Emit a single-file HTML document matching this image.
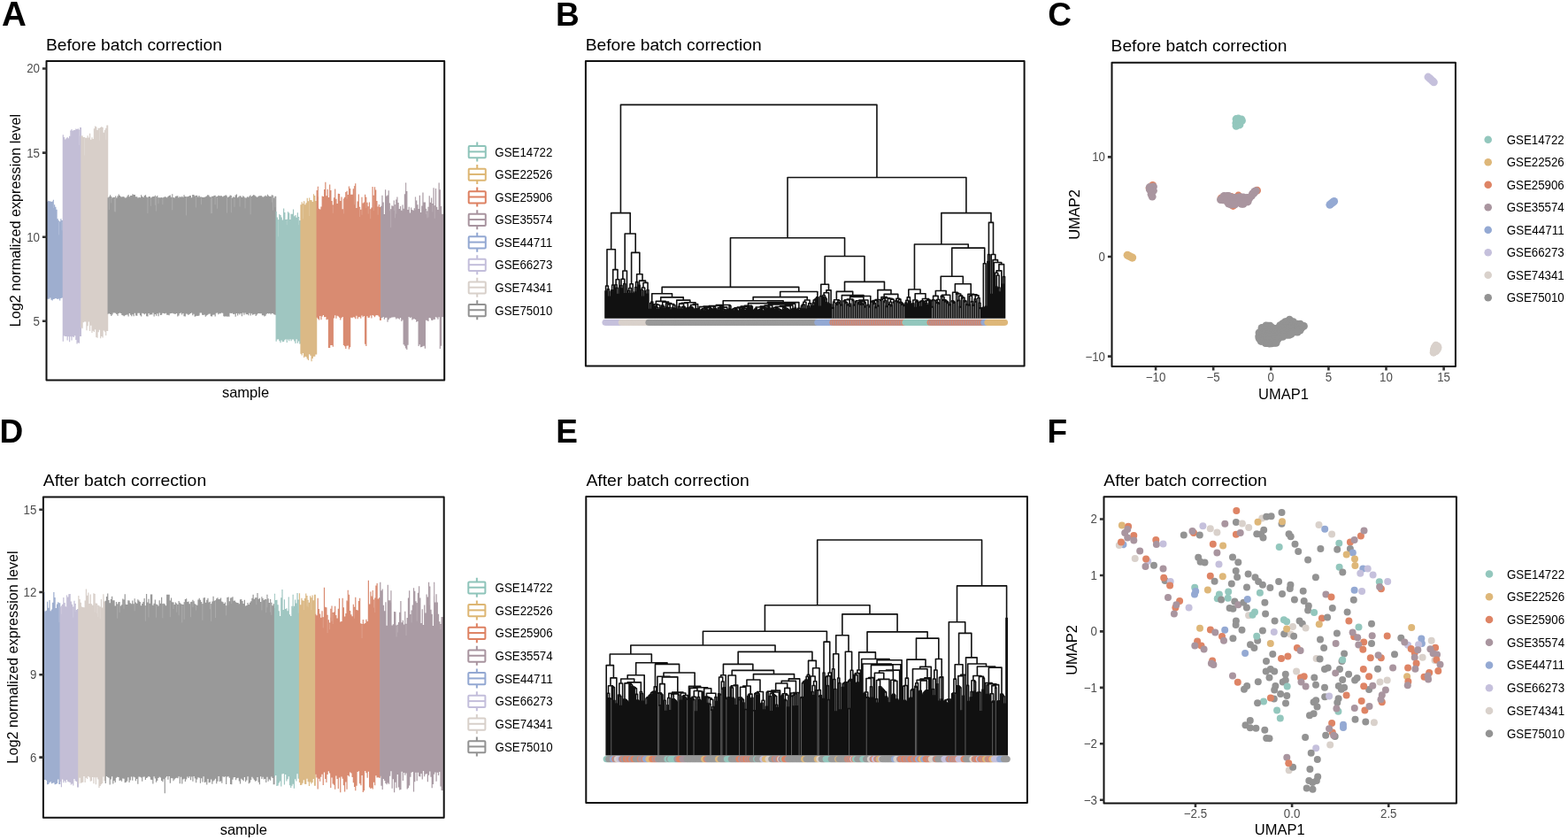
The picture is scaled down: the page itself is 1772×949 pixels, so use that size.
<!DOCTYPE html>
<html><head><meta charset="utf-8"><title>Batch correction</title>
<style>html,body{margin:0;padding:0;background:#fff}body{width:1772px;height:949px;overflow:hidden}svg{display:block}text{font-family:'Liberation Sans',Arial,Helvetica,sans-serif}</style>
</head><body>
<svg width="1772" height="949" viewBox="0 0 1772 949">
<rect width="1772" height="949" fill="#fff"/>
<text x="1.9" y="28.9" font-size="38.5" fill="#000" font-weight="bold">A</text>
<text x="628" y="28.7" font-size="37" fill="#000" font-weight="bold">B</text>
<text x="1184.3" y="28.9" font-size="37" fill="#000" font-weight="bold">C</text>
<text x="-0.4" y="500.4" font-size="37" fill="#000" font-weight="bold">D</text>
<text x="628.3" y="500.4" font-size="37" fill="#000" font-weight="bold">E</text>
<text x="1183.4" y="500.4" font-size="37" fill="#000" font-weight="bold">F</text>
<text x="52" y="56.7" font-size="19.25" fill="#000" textLength="198.9" lengthAdjust="spacingAndGlyphs">Before batch correction</text>
<text x="661.7" y="56.8" font-size="19.25" fill="#000" textLength="198.9" lengthAdjust="spacingAndGlyphs">Before batch correction</text>
<text x="1255.6" y="58" font-size="19.25" fill="#000" textLength="198.9" lengthAdjust="spacingAndGlyphs">Before batch correction</text>
<text x="48.7" y="548.8" font-size="19.25" fill="#000" textLength="184.5" lengthAdjust="spacingAndGlyphs">After batch correction</text>
<text x="662.4" y="548.5" font-size="19.25" fill="#000" textLength="184.5" lengthAdjust="spacingAndGlyphs">After batch correction</text>
<text x="1247.3" y="548.9" font-size="19.25" fill="#000" textLength="184.5" lengthAdjust="spacingAndGlyphs">After batch correction</text>
<path d="M52.55 228.02L53.76 228.02L53.76 226.86L54.97 226.86L54.97 227.22L56.18 227.22L56.18 227.33L57.39 227.33L57.39 227.96L58.6 227.96L58.6 227.46L59.81 227.46L59.81 225.7L61.02 225.7L61.02 231.25L62.23 231.25L62.23 233.84L63.44 233.84L63.44 236.85L64.65 236.85L64.65 247.2L65.86 247.2L65.86 249.35L67.07 249.35L67.07 250.35L68.28 250.35L68.28 247.22L69.49 247.22L69.49 249.04L71.4 249.04L71.4 336.57L69.49 336.57L69.49 337.1L68.28 337.1L68.28 339.48L67.07 339.48L67.07 337.5L65.86 337.5L65.86 338.11L64.65 338.11L64.65 337.45L63.44 337.45L63.44 336.91L62.23 336.91L62.23 337.73L61.02 337.73L61.02 338.02L59.81 338.02L59.81 339.43L58.6 339.43L58.6 338.73L57.39 338.73L57.39 336.61L56.18 336.61L56.18 337.67L54.97 337.67L54.97 337.66L53.76 337.66L53.76 337.83L52.55 337.83Z" fill="#9eaecf"/>
<path d="M60.42 226.7V235.05M66.47 250.35V265.42M70.1 250.04V260.36" stroke="#fff" stroke-opacity="0.35" stroke-width="0.5" fill="none"/>
<path d="M70.7 152.31L71.91 152.31L71.91 155.07L73.13 155.07L73.13 157.44L74.34 157.44L74.34 156.28L75.55 156.28L75.55 155.11L76.76 155.11L76.76 156.33L77.97 156.33L77.97 153.63L79.18 153.63L79.18 147.61L80.39 147.61L80.39 146.08L81.6 146.08L81.6 147.79L82.81 147.79L82.81 147.03L84.02 147.03L84.02 146.89L85.23 146.89L85.23 145.53L86.44 145.53L86.44 145.93L87.65 145.93L87.65 145.34L88.86 145.34L88.86 146.49L90.07 146.49L90.07 143.93L91.98 143.93L91.98 379.98L90.07 379.98L90.07 387.74L88.86 387.74L88.86 387.18L87.65 387.18L87.65 388.43L86.44 388.43L86.44 383.91L85.23 383.91L85.23 379.34L84.02 379.34L84.02 381.11L82.81 381.11L82.81 380.15L81.6 380.15L81.6 384.38L80.39 384.38L80.39 380.13L79.18 380.13L79.18 386.36L77.97 386.36L77.97 380.15L76.76 380.15L76.76 384.4L75.55 384.4L75.55 379.98L74.34 379.98L74.34 379.89L73.13 379.89L73.13 379.4L71.91 379.4L71.91 385.79L70.7 385.79Z" fill="#c3bed6"/>
<path d="M79.78 148.61V154.23M89.46 147.49V164.02M90.67 144.93V153.59" stroke="#fff" stroke-opacity="0.35" stroke-width="0.5" fill="none"/>
<path d="M91.28 153.51L92.49 153.51L92.49 153.27L93.7 153.27L93.7 155.06L94.91 155.06L94.91 154.99L96.12 154.99L96.12 155.66L97.33 155.66L97.33 155.81L98.54 155.81L98.54 153.28L99.75 153.28L99.75 155.49L100.96 155.49L100.96 150.66L102.17 150.66L102.17 157.83L103.38 157.83L103.38 155.2L104.59 155.2L104.59 157.07L105.8 157.07L105.8 145.34L107.01 145.34L107.01 142.48L108.22 142.48L108.22 143.17L109.43 143.17L109.43 146.91L110.64 146.91L110.64 144.87L111.85 144.87L111.85 144.73L113.06 144.73L113.06 143.89L114.28 143.89L114.28 143.11L115.49 143.11L115.49 144.02L116.7 144.02L116.7 149.76L117.91 149.76L117.91 146.85L119.12 146.85L119.12 144.71L120.33 144.71L120.33 141.6L122.24 141.6L122.24 373.92L120.33 373.92L120.33 378.91L119.12 378.91L119.12 374.84L117.91 374.84L117.91 373.38L116.7 373.38L116.7 381.62L115.49 381.62L115.49 380.11L114.28 380.11L114.28 382.15L113.06 382.15L113.06 372.84L111.85 372.84L111.85 375.35L110.64 375.35L110.64 381.79L109.43 381.79L109.43 381.01L108.22 381.01L108.22 372.31L107.01 372.31L107.01 375.03L105.8 375.03L105.8 373.77L104.59 373.77L104.59 375.89L103.38 375.89L103.38 367.84L102.17 367.84L102.17 373.99L100.96 373.99L100.96 363.54L99.75 363.54L99.75 368.32L98.54 368.32L98.54 373.36L97.33 373.36L97.33 363.51L96.12 363.51L96.12 363.61L94.91 363.61L94.91 364.13L93.7 364.13L93.7 371.3L92.49 371.3L92.49 370.14L91.28 370.14Z" fill="#d8cfc9"/>
<path d="M95.52 155.99V175.48M112.46 145.73V158.68M119.72 145.71V157.92" stroke="#fff" stroke-opacity="0.35" stroke-width="0.5" fill="none"/>
<path d="M121.54 223.13L122.75 223.13L122.75 222.22L123.96 222.22L123.96 220.25L125.17 220.25L125.17 222L126.38 222L126.38 223.47L127.59 223.47L127.59 222.84L128.8 222.84L128.8 223.11L130.01 223.11L130.01 221.57L131.22 221.57L131.22 223.47L132.43 223.47L132.43 221.45L133.64 221.45L133.64 219.48L134.85 219.48L134.85 220.97L136.06 220.97L136.06 222.21L137.27 222.21L137.27 222.62L138.48 222.62L138.48 221.99L139.69 221.99L139.69 222.53L140.9 222.53L140.9 223.41L142.11 223.41L142.11 223.37L143.32 223.37L143.32 221.41L144.53 221.41L144.53 220L145.74 220L145.74 222.24L146.95 222.24L146.95 220.95L148.16 220.95L148.16 220.96L149.37 220.96L149.37 219.33L150.58 219.33L150.58 220L151.79 220L151.79 220.08L153 220.08L153 222.34L154.21 222.34L154.21 222.23L155.43 222.23L155.43 223.45L156.64 223.45L156.64 222.75L157.85 222.75L157.85 223.3L159.06 223.3L159.06 220.25L160.27 220.25L160.27 222.12L161.48 222.12L161.48 223.11L162.69 223.11L162.69 220.91L163.9 220.91L163.9 220.22L165.11 220.22L165.11 222.58L166.32 222.58L166.32 223.15L167.53 223.15L167.53 221.97L168.74 221.97L168.74 221.92L169.95 221.92L169.95 223.49L171.16 223.49L171.16 222.51L172.37 222.51L172.37 222.12L173.58 222.12L173.58 222L174.79 222L174.79 220.74L176 220.74L176 222.17L177.21 222.17L177.21 220.9L178.42 220.9L178.42 223.19L179.63 223.19L179.63 223.34L180.84 223.34L180.84 223.25L182.05 223.25L182.05 223L183.26 223L183.26 223.38L184.47 223.38L184.47 222.64L185.68 222.64L185.68 222.26L186.89 222.26L186.89 222.45L188.1 222.45L188.1 223.16L189.31 223.16L189.31 221.94L190.52 221.94L190.52 220.95L191.73 220.95L191.73 220.43L192.94 220.43L192.94 222.82L194.15 222.82L194.15 219.21L195.37 219.21L195.37 223.06L196.58 223.06L196.58 223.4L197.79 223.4L197.79 221.83L199 221.83L199 221.46L200.21 221.46L200.21 221.17L201.42 221.17L201.42 223.36L202.63 223.36L202.63 222.07L203.84 222.07L203.84 222.82L205.05 222.82L205.05 221.84L206.26 221.84L206.26 222.64L207.47 222.64L207.47 220.25L208.68 220.25L208.68 221.98L209.89 221.98L209.89 222.25L211.1 222.25L211.1 222.23L212.31 222.23L212.31 221.88L213.52 221.88L213.52 220.97L214.73 220.97L214.73 220.9L215.94 220.9L215.94 223.26L217.15 223.26L217.15 219.91L218.36 219.91L218.36 220.12L219.57 220.12L219.57 221.6L220.78 221.6L220.78 220.98L221.99 220.98L221.99 220.82L223.2 220.82L223.2 222.48L224.41 222.48L224.41 221.1L225.62 221.1L225.62 222.48L226.83 222.48L226.83 222.62L228.04 222.62L228.04 222.68L229.25 222.68L229.25 223.08L230.46 223.08L230.46 222.74L231.67 222.74L231.67 222.29L232.88 222.29L232.88 221.38L234.09 221.38L234.09 220.26L235.3 220.26L235.3 220.58L236.52 220.58L236.52 222.17L237.73 222.17L237.73 222.84L238.94 222.84L238.94 221.85L240.15 221.85L240.15 221.76L241.36 221.76L241.36 221.03L242.57 221.03L242.57 220.87L243.78 220.87L243.78 222.19L244.99 222.19L244.99 222.1L246.2 222.1L246.2 220.71L247.41 220.71L247.41 221.21L248.62 221.21L248.62 221.31L249.83 221.31L249.83 221.13L251.04 221.13L251.04 222.18L252.25 222.18L252.25 221.4L253.46 221.4L253.46 221.07L254.67 221.07L254.67 220.25L255.88 220.25L255.88 221.42L257.09 221.42L257.09 223.05L258.3 223.05L258.3 221.89L259.51 221.89L259.51 220.39L260.72 220.39L260.72 220.99L261.93 220.99L261.93 223.46L263.14 223.46L263.14 222.33L264.35 222.33L264.35 223L265.56 223L265.56 220.62L266.77 220.62L266.77 219.52L267.98 219.52L267.98 223.37L269.19 223.37L269.19 222.33L270.4 222.33L270.4 221.15L271.61 221.15L271.61 221.43L272.82 221.43L272.82 223.04L274.03 223.04L274.03 221.37L275.24 221.37L275.24 222.25L276.46 222.25L276.46 223.39L277.67 223.39L277.67 223.41L278.88 223.41L278.88 222.33L280.09 222.33L280.09 222.78L281.3 222.78L281.3 221.39L282.51 221.39L282.51 220.44L283.72 220.44L283.72 221.92L284.93 221.92L284.93 221.1L286.14 221.1L286.14 220.1L287.35 220.1L287.35 220.81L288.56 220.81L288.56 221.81L289.77 221.81L289.77 222.7L290.98 222.7L290.98 222.15L292.19 222.15L292.19 221.32L293.4 221.32L293.4 221.3L294.61 221.3L294.61 220.93L295.82 220.93L295.82 222.24L297.03 222.24L297.03 222.46L298.24 222.46L298.24 221.75L299.45 221.75L299.45 220.67L300.66 220.67L300.66 221.87L301.87 221.87L301.87 219.64L303.08 219.64L303.08 221.3L304.29 221.3L304.29 221.97L305.5 221.97L305.5 221.78L306.71 221.78L306.71 220.27L307.92 220.27L307.92 220.73L309.13 220.73L309.13 223.49L310.34 223.49L310.34 221.76L312.25 221.76L312.25 355.86L310.34 355.86L310.34 355.33L309.13 355.33L309.13 354.23L307.92 354.23L307.92 353.88L306.71 353.88L306.71 355.32L305.5 355.32L305.5 353.94L304.29 353.94L304.29 354.54L303.08 354.54L303.08 354.11L301.87 354.11L301.87 354.69L300.66 354.69L300.66 356.66L299.45 356.66L299.45 357.44L298.24 357.44L298.24 356.16L297.03 356.16L297.03 356.25L295.82 356.25L295.82 354.23L294.61 354.23L294.61 354.31L293.4 354.31L293.4 353.99L292.19 353.99L292.19 354.29L290.98 354.29L290.98 355.43L289.77 355.43L289.77 357.07L288.56 357.07L288.56 354.81L287.35 354.81L287.35 355.36L286.14 355.36L286.14 355.87L284.93 355.87L284.93 354.15L283.72 354.15L283.72 356.48L282.51 356.48L282.51 353.72L281.3 353.72L281.3 356.35L280.09 356.35L280.09 355.03L278.88 355.03L278.88 355.36L277.67 355.36L277.67 353.61L276.46 353.61L276.46 355.72L275.24 355.72L275.24 353.59L274.03 353.59L274.03 357.3L272.82 357.3L272.82 353.92L271.61 353.92L271.61 355.56L270.4 355.56L270.4 354.19L269.19 354.19L269.19 356.56L267.98 356.56L267.98 354.08L266.77 354.08L266.77 357.79L265.56 357.79L265.56 354.77L264.35 354.77L264.35 354.93L263.14 354.93L263.14 353.73L261.93 353.73L261.93 353.96L260.72 353.96L260.72 353.71L259.51 353.71L259.51 357.67L258.3 357.67L258.3 357.43L257.09 357.43L257.09 357.64L255.88 357.64L255.88 357.24L254.67 357.24L254.67 357.73L253.46 357.73L253.46 357.2L252.25 357.2L252.25 353.82L251.04 353.82L251.04 353.51L249.83 353.51L249.83 354.24L248.62 354.24L248.62 354.24L247.41 354.24L247.41 355.25L246.2 355.25L246.2 353.58L244.99 353.58L244.99 353.86L243.78 353.86L243.78 357.39L242.57 357.39L242.57 355.59L241.36 355.59L241.36 355.79L240.15 355.79L240.15 357.6L238.94 357.6L238.94 357.24L237.73 357.24L237.73 354.59L236.52 354.59L236.52 354.7L235.3 354.7L235.3 355.68L234.09 355.68L234.09 356.44L232.88 356.44L232.88 357.8L231.67 357.8L231.67 355.46L230.46 355.46L230.46 355.93L229.25 355.93L229.25 355.72L228.04 355.72L228.04 353.51L226.83 353.51L226.83 353.61L225.62 353.61L225.62 356.46L224.41 356.46L224.41 357.09L223.2 357.09L223.2 356.73L221.99 356.73L221.99 357.28L220.78 357.28L220.78 357.7L219.57 357.7L219.57 354.71L218.36 354.71L218.36 356.13L217.15 356.13L217.15 353.51L215.94 353.51L215.94 353.94L214.73 353.94L214.73 354.92L213.52 354.92L213.52 356.12L212.31 356.12L212.31 354.82L211.1 354.82L211.1 354.4L209.89 354.4L209.89 357.51L208.68 357.51L208.68 357.37L207.47 357.37L207.47 353.96L206.26 353.96L206.26 355.45L205.05 355.45L205.05 353.54L203.84 353.54L203.84 353.92L202.63 353.92L202.63 356.42L201.42 356.42L201.42 357.61L200.21 357.61L200.21 353.95L199 353.95L199 354.7L197.79 354.7L197.79 354.78L196.58 354.78L196.58 354.15L195.37 354.15L195.37 353.76L194.15 353.76L194.15 354.01L192.94 354.01L192.94 354.36L191.73 354.36L191.73 356.33L190.52 356.33L190.52 355.66L189.31 355.66L189.31 355.79L188.1 355.79L188.1 353.83L186.89 353.83L186.89 354.59L185.68 354.59L185.68 353.94L184.47 353.94L184.47 353.73L183.26 353.73L183.26 355.7L182.05 355.7L182.05 356.04L180.84 356.04L180.84 353.52L179.63 353.52L179.63 357.36L178.42 357.36L178.42 354.36L177.21 354.36L177.21 356.73L176 356.73L176 355.01L174.79 355.01L174.79 357.54L173.58 357.54L173.58 353.6L172.37 353.6L172.37 355.42L171.16 355.42L171.16 355.2L169.95 355.2L169.95 355.63L168.74 355.63L168.74 353.95L167.53 353.95L167.53 357.61L166.32 357.61L166.32 357.21L165.11 357.21L165.11 354.34L163.9 354.34L163.9 355.23L162.69 355.23L162.69 354.26L161.48 354.26L161.48 353.64L160.27 353.64L160.27 357.48L159.06 357.48L159.06 356.23L157.85 356.23L157.85 353.78L156.64 353.78L156.64 353.87L155.43 353.87L155.43 356.7L154.21 356.7L154.21 356.47L153 356.47L153 353.63L151.79 353.63L151.79 357.27L150.58 357.27L150.58 355.3L149.37 355.3L149.37 357.21L148.16 357.21L148.16 355.81L146.95 355.81L146.95 353.97L145.74 353.97L145.74 357.47L144.53 357.47L144.53 355.45L143.32 355.45L143.32 355.73L142.11 355.73L142.11 356.23L140.9 356.23L140.9 357.25L139.69 357.25L139.69 356.41L138.48 356.41L138.48 356.1L137.27 356.1L137.27 353.89L136.06 353.89L136.06 353.51L134.85 353.51L134.85 353.95L133.64 353.95L133.64 356.69L132.43 356.69L132.43 354.89L131.22 354.89L131.22 353.78L130.01 353.78L130.01 353.52L128.8 353.52L128.8 353.52L127.59 353.52L127.59 355.46L126.38 355.46L126.38 357.05L125.17 357.05L125.17 354.92L123.96 354.92L123.96 354.35L122.75 354.35L122.75 354.75L121.54 354.75Z" fill="#999999"/>
<path d="M123.35 223.22V236.97M125.77 223V229.31M129.4 224.11V239.25M130.61 222.57V239.5M166.92 224.15V241.01M170.55 224.49V232.76M175.4 221.74V231.68M176.61 223.17V238.54M179.03 224.19V230.19M183.87 224.38V231.12M194.76 220.21V237.33M210.49 223.25V243.41M221.39 221.98V234.54M227.44 223.62V231.13M238.33 223.84V241.17M239.54 222.85V240.99M243.17 221.87V231.19M245.59 223.1V235.78M256.49 222.42V240.65M261.33 221.99V240.3M264.96 224V233.89M271.01 222.15V233.46M277.06 224.39V235.42M283.11 221.44V242.3M307.32 221.27V228.52M308.53 221.73V237.58M310.95 222.76V234.2" stroke="#fff" stroke-opacity="0.35" stroke-width="0.5" fill="none"/>
<path d="M311.55 238.97L312.76 238.97L312.76 245.4L313.97 245.4L313.97 248.17L315.18 248.17L315.18 242.02L316.39 242.02L316.39 243.02L317.61 243.02L317.61 245.49L318.82 245.49L318.82 248.51L320.03 248.51L320.03 235.46L321.24 235.46L321.24 240.03L322.45 240.03L322.45 248.12L323.66 248.12L323.66 247.63L324.87 247.63L324.87 239.23L326.08 239.23L326.08 240.54L327.29 240.54L327.29 247.98L328.5 247.98L328.5 241.68L329.71 241.68L329.71 241.64L330.92 241.64L330.92 236.39L332.13 236.39L332.13 244.26L333.34 244.26L333.34 243.03L334.55 243.03L334.55 245.69L335.76 245.69L335.76 240.18L336.97 240.18L336.97 244.97L338.18 244.97L338.18 249.1L340.09 249.1L340.09 388.44L338.18 388.44L338.18 385.44L336.97 385.44L336.97 387.78L335.76 387.78L335.76 383.3L334.55 383.3L334.55 387.96L333.34 387.96L333.34 385.54L332.13 385.54L332.13 383.57L330.92 383.57L330.92 383.57L329.71 383.57L329.71 385.18L328.5 385.18L328.5 383.36L327.29 383.36L327.29 385.37L326.08 385.37L326.08 383.42L324.87 383.42L324.87 386.94L323.66 386.94L323.66 383.24L322.45 383.24L322.45 384.17L321.24 384.17L321.24 386.08L320.03 386.08L320.03 386.34L318.82 386.34L318.82 384.59L317.61 384.59L317.61 387.17L316.39 387.17L316.39 385.15L315.18 385.15L315.18 383.14L313.97 383.14L313.97 383.41L312.76 383.41L312.76 385.64L311.55 385.64Z" fill="#9fc6c1"/>
<path d="M314.58 249.17V267.36M324.26 248.63V254.14M337.58 245.97V254.16" stroke="#fff" stroke-opacity="0.35" stroke-width="0.5" fill="none"/>
<path d="M339.39 231.33L340.6 231.33L340.6 228.35L341.81 228.35L341.81 230.22L343.02 230.22L343.02 227.14L344.23 227.14L344.23 231.32L345.44 231.32L345.44 229.23L346.65 229.23L346.65 223.73L347.86 223.73L347.86 227.27L349.07 227.27L349.07 223.45L350.28 223.45L350.28 225.97L351.49 225.97L351.49 226.34L352.7 226.34L352.7 228.12L353.91 228.12L353.91 219.32L355.12 219.32L355.12 221.07L356.33 221.07L356.33 226.96L358.24 226.96L358.24 400.53L356.33 400.53L356.33 402.74L355.12 402.74L355.12 402.81L353.91 402.81L353.91 404.93L352.7 404.93L352.7 408.16L351.49 408.16L351.49 401.69L350.28 401.69L350.28 400.35L349.07 400.35L349.07 406.94L347.86 406.94L347.86 405.39L346.65 405.39L346.65 403.23L345.44 403.23L345.44 402.85L344.23 402.85L344.23 404.01L343.02 404.01L343.02 398.99L341.81 398.99L341.81 401.6L340.6 401.6L340.6 399.7L339.39 399.7Z" fill="#dbb986"/>
<path d="M342.42 231.22V247.34M349.68 224.45V244.03" stroke="#fff" stroke-opacity="0.35" stroke-width="0.5" fill="none"/>
<path d="M357.54 215.07L358.76 215.07L358.76 210.77L359.97 210.77L359.97 235.76L361.18 235.76L361.18 236.44L362.39 236.44L362.39 233.57L363.6 233.57L363.6 221.57L364.81 221.57L364.81 221.88L366.02 221.88L366.02 213.98L367.23 213.98L367.23 205.63L368.44 205.63L368.44 221.34L369.65 221.34L369.65 213.78L370.86 213.78L370.86 222.89L372.07 222.89L372.07 208.49L373.28 208.49L373.28 214.92L374.49 214.92L374.49 226.91L375.7 226.91L375.7 231.54L376.91 231.54L376.91 223.34L378.12 223.34L378.12 213.48L379.33 213.48L379.33 224.67L380.54 224.67L380.54 230.03L381.75 230.03L381.75 218.8L382.96 218.8L382.96 218.91L384.17 218.91L384.17 227.04L385.38 227.04L385.38 222.45L386.59 222.45L386.59 236.26L387.8 236.26L387.8 224.39L389.01 224.39L389.01 222.83L390.22 222.83L390.22 217.07L391.43 217.07L391.43 215.73L392.64 215.73L392.64 220.07L393.85 220.07L393.85 210.51L395.06 210.51L395.06 212.92L396.27 212.92L396.27 219.81L397.48 219.81L397.48 219.72L398.7 219.72L398.7 213.34L399.91 213.34L399.91 210.25L401.12 210.25L401.12 207.18L402.33 207.18L402.33 235.04L403.54 235.04L403.54 227.58L404.75 227.58L404.75 219.53L405.96 219.53L405.96 233.87L407.17 233.87L407.17 236.83L408.38 236.83L408.38 222.66L409.59 222.66L409.59 229.6L410.8 229.6L410.8 228.6L412.01 228.6L412.01 219.79L413.22 219.79L413.22 222.81L414.43 222.81L414.43 228.68L415.64 228.68L415.64 233.13L416.85 233.13L416.85 228.38L418.06 228.38L418.06 236.28L419.27 236.28L419.27 234.51L420.48 234.51L420.48 210.98L421.69 210.98L421.69 220.66L422.9 220.66L422.9 211.29L424.11 211.29L424.11 214.38L425.32 214.38L425.32 227.06L426.53 227.06L426.53 233.42L427.74 233.42L427.74 231.07L428.95 231.07L428.95 234.02L430.86 234.02L430.86 361.97L428.95 361.97L428.95 357.81L427.74 357.81L427.74 356.39L426.53 356.39L426.53 356.06L425.32 356.06L425.32 356.4L424.11 356.4L424.11 358.21L422.9 358.21L422.9 356.7L421.69 356.7L421.69 356.12L420.48 356.12L420.48 359.57L419.27 359.57L419.27 356.51L418.06 356.51L418.06 358.86L416.85 358.86L416.85 359.08L415.64 359.08L415.64 357.17L414.43 357.17L414.43 390.92L413.22 390.92L413.22 388.74L412.01 388.74L412.01 356.92L410.8 356.92L410.8 358.25L409.59 358.25L409.59 356.54L408.38 356.54L408.38 359.75L407.17 359.75L407.17 358.27L405.96 358.27L405.96 358.2L404.75 358.2L404.75 360.29L403.54 360.29L403.54 356.79L402.33 356.79L402.33 360.23L401.12 360.23L401.12 358.41L399.91 358.41L399.91 358.31L398.7 358.31L398.7 359.34L397.48 359.34L397.48 358.64L396.27 358.64L396.27 392.17L395.06 392.17L395.06 394.39L393.85 394.39L393.85 390.52L392.64 390.52L392.64 390.68L391.43 390.68L391.43 394.09L390.22 394.09L390.22 391.27L389.01 391.27L389.01 389.95L387.8 389.95L387.8 357.9L386.59 357.9L386.59 359.21L385.38 359.21L385.38 361.39L384.17 361.39L384.17 358.87L382.96 358.87L382.96 357.51L381.75 357.51L381.75 356.79L380.54 356.79L380.54 359.72L379.33 359.72L379.33 356.17L378.12 356.17L378.12 359.61L376.91 359.61L376.91 391.81L375.7 391.81L375.7 390.02L374.49 390.02L374.49 389.88L373.28 389.88L373.28 392.9L372.07 392.9L372.07 393.08L370.86 393.08L370.86 360.68L369.65 360.68L369.65 361.36L368.44 361.36L368.44 358.1L367.23 358.1L367.23 358.26L366.02 358.26L366.02 356.05L364.81 356.05L364.81 357.42L363.6 357.42L363.6 361.14L362.39 361.14L362.39 357.11L361.18 357.11L361.18 361.59L359.97 361.59L359.97 360.33L358.76 360.33L358.76 358.71L357.54 358.71Z" fill="#d98b71"/>
<path d="M359.36 211.77V222.26M376.3 232.54V240.8M388.41 225.39V241.45M392.04 216.73V224.65M400.51 211.25V231.23M406.56 234.87V245.02M408.98 223.66V242.77M413.82 223.81V235.11M416.24 234.13V241.55M418.66 237.28V247.27M422.3 221.66V237.96M427.14 234.42V242.69" stroke="#fff" stroke-opacity="0.35" stroke-width="0.5" fill="none"/>
<path d="M430.16 232.81L431.37 232.81L431.37 220.82L432.58 220.82L432.58 228.56L433.79 228.56L433.79 241.9L435 241.9L435 214.23L436.21 214.23L436.21 221.43L437.42 221.43L437.42 220.5L438.63 220.5L438.63 215.21L439.85 215.21L439.85 229.49L441.06 229.49L441.06 236.13L442.27 236.13L442.27 232.35L443.48 232.35L443.48 232.66L444.69 232.66L444.69 226.62L445.9 226.62L445.9 231.23L447.11 231.23L447.11 225.57L448.32 225.57L448.32 222.48L449.53 222.48L449.53 228.95L450.74 228.95L450.74 235.92L451.95 235.92L451.95 232.88L453.16 232.88L453.16 237.84L454.37 237.84L454.37 231.51L455.58 231.51L455.58 235.82L456.79 235.82L456.79 219.31L458 219.31L458 206.53L459.21 206.53L459.21 216.04L460.42 216.04L460.42 237.02L461.63 237.02L461.63 233.64L462.84 233.64L462.84 240.4L464.05 240.4L464.05 234.38L465.26 234.38L465.26 237.04L466.47 237.04L466.47 237.66L467.68 237.66L467.68 235.22L468.89 235.22L468.89 222.42L470.1 222.42L470.1 226.54L471.31 226.54L471.31 231.34L472.52 231.34L472.52 235.91L473.73 235.91L473.73 220.63L474.94 220.63L474.94 239.93L476.15 239.93L476.15 232.49L477.36 232.49L477.36 217.44L478.57 217.44L478.57 228.62L479.78 228.62L479.78 228.59L481 228.59L481 235.67L482.21 235.67L482.21 238.5L483.42 238.5L483.42 233.78L484.63 233.78L484.63 221.14L485.84 221.14L485.84 228.83L487.05 228.83L487.05 223.5L488.26 223.5L488.26 230.09L489.47 230.09L489.47 212.34L490.68 212.34L490.68 232.24L491.89 232.24L491.89 213L493.1 213L493.1 233.81L494.31 233.81L494.31 236.88L495.52 236.88L495.52 206.62L496.73 206.62L496.73 214.3L497.94 214.3L497.94 233.12L499.15 233.12L499.15 241.69L501.36 241.69L501.36 358.3L499.15 358.3L499.15 390.7L497.94 390.7L497.94 394.03L496.73 394.03L496.73 358.36L495.52 358.36L495.52 360.84L494.31 360.84L494.31 358.77L493.1 358.77L493.1 358.33L491.89 358.33L491.89 361.09L490.68 361.09L490.68 360.71L489.47 360.71L489.47 362.08L488.26 362.08L488.26 361.76L487.05 361.76L487.05 359.62L485.84 359.62L485.84 358.88L484.63 358.88L484.63 362.91L483.42 362.91L483.42 362.18L482.21 362.18L482.21 361.68L481 361.68L481 393.8L479.78 393.8L479.78 390.86L478.57 390.86L478.57 391.24L477.36 391.24L477.36 391.9L476.15 391.9L476.15 392.26L474.94 392.26L474.94 389.16L473.73 389.16L473.73 390.98L472.52 390.98L472.52 363.07L471.31 363.07L471.31 363.74L470.1 363.74L470.1 361.1L468.89 361.1L468.89 360.23L467.68 360.23L467.68 360.56L466.47 360.56L466.47 361.5L465.26 361.5L465.26 358.42L464.05 358.42L464.05 359.16L462.84 359.16L462.84 358.06L461.63 358.06L461.63 389.72L460.42 389.72L460.42 394.96L459.21 394.96L459.21 393.39L458 393.39L458 390.72L456.79 390.72L456.79 389.25L455.58 389.25L455.58 361.41L454.37 361.41L454.37 363.11L453.16 363.11L453.16 358.88L451.95 358.88L451.95 360.84L450.74 360.84L450.74 359.69L449.53 359.69L449.53 359.61L448.32 359.61L448.32 360.62L447.11 360.62L447.11 358.42L445.9 358.42L445.9 358.22L444.69 358.22L444.69 358.49L443.48 358.49L443.48 358.46L442.27 358.46L442.27 359.26L441.06 359.26L441.06 359.62L439.85 359.62L439.85 361.16L438.63 361.16L438.63 363.63L437.42 363.63L437.42 358.7L436.21 358.7L436.21 359.1L435 359.1L435 360.7L433.79 360.7L433.79 358.07L432.58 358.07L432.58 359.07L431.37 359.07L431.37 359.59L430.16 359.59Z" fill="#aa9ba4"/>
<path d="M440.45 230.49V238.29M441.66 237.13V257.07M445.29 227.62V237.8M446.5 232.23V246.28M447.71 226.57V241.57M454.97 232.51V238.54M458.6 207.53V215.45M469.5 223.42V237.22M481.6 236.67V242.1M482.81 239.5V246.4M484.02 234.78V245.52M488.86 231.09V239.46M491.28 233.24V246.68" stroke="#fff" stroke-opacity="0.35" stroke-width="0.5" fill="none"/>
<rect x="52.5" y="69.1" width="449.7" height="360.3" fill="none" stroke="#111" stroke-width="2" stroke-linejoin="round"/>
<text x="45" y="367.7" font-size="14.2" fill="#4d4d4d" text-anchor="end" textLength="7.39" lengthAdjust="spacingAndGlyphs">5</text>
<text x="45" y="272.6" font-size="14.2" fill="#4d4d4d" text-anchor="end" textLength="14.79" lengthAdjust="spacingAndGlyphs">10</text>
<text x="45" y="177.5" font-size="14.2" fill="#4d4d4d" text-anchor="end" textLength="14.79" lengthAdjust="spacingAndGlyphs">15</text>
<text x="45" y="82.4" font-size="14.2" fill="#4d4d4d" text-anchor="end" textLength="14.79" lengthAdjust="spacingAndGlyphs">20</text>
<path d="M47.9 362.8H52.5M47.9 267.7H52.5M47.9 172.6H52.5M47.9 77.5H52.5" stroke="#333" stroke-width="2.6" fill="none"/>
<text x="277.5" y="449.2" font-size="16.5" fill="#000" text-anchor="middle">sample</text>
<text transform="translate(22.6 249.1) rotate(-90)" text-anchor="middle" font-size="16.2" fill="#000">Log2 normalized expression level</text>
<path d="M539.25 160.5V165.4M539.25 178V182.5" stroke="#8ec4ba" stroke-width="2" fill="none"/>
<rect x="529.7" y="165.1" width="19.1" height="13.2" rx="1" fill="#fff" stroke="#8ec4ba" stroke-width="2"/>
<path d="M529.7 171.4H548.8" stroke="#8ec4ba" stroke-width="2"/>
<text x="559.3" y="176.7" font-size="14.2" fill="#000" textLength="65.06" lengthAdjust="spacingAndGlyphs">GSE14722</text>
<path d="M539.25 186.05V190.95M539.25 203.55V208.05" stroke="#ddb673" stroke-width="2" fill="none"/>
<rect x="529.7" y="190.65" width="19.1" height="13.2" rx="1" fill="#fff" stroke="#ddb673" stroke-width="2"/>
<path d="M529.7 196.95H548.8" stroke="#ddb673" stroke-width="2"/>
<text x="559.3" y="202.25" font-size="14.2" fill="#000" textLength="65.06" lengthAdjust="spacingAndGlyphs">GSE22526</text>
<path d="M539.25 211.6V216.5M539.25 229.1V233.6" stroke="#dd8162" stroke-width="2" fill="none"/>
<rect x="529.7" y="216.2" width="19.1" height="13.2" rx="1" fill="#fff" stroke="#dd8162" stroke-width="2"/>
<path d="M529.7 222.5H548.8" stroke="#dd8162" stroke-width="2"/>
<text x="559.3" y="227.8" font-size="14.2" fill="#000" textLength="65.06" lengthAdjust="spacingAndGlyphs">GSE25906</text>
<path d="M539.25 237.15V242.05M539.25 254.65V259.15" stroke="#a8949f" stroke-width="2" fill="none"/>
<rect x="529.7" y="241.75" width="19.1" height="13.2" rx="1" fill="#fff" stroke="#a8949f" stroke-width="2"/>
<path d="M529.7 248.05H548.8" stroke="#a8949f" stroke-width="2"/>
<text x="559.3" y="253.35" font-size="14.2" fill="#000" textLength="65.06" lengthAdjust="spacingAndGlyphs">GSE35574</text>
<path d="M539.25 262.7V267.6M539.25 280.2V284.7" stroke="#93a8d2" stroke-width="2" fill="none"/>
<rect x="529.7" y="267.3" width="19.1" height="13.2" rx="1" fill="#fff" stroke="#93a8d2" stroke-width="2"/>
<path d="M529.7 273.6H548.8" stroke="#93a8d2" stroke-width="2"/>
<text x="559.3" y="278.9" font-size="14.2" fill="#000" textLength="65.06" lengthAdjust="spacingAndGlyphs">GSE44711</text>
<path d="M539.25 288.25V293.15M539.25 305.75V310.25" stroke="#c3bedb" stroke-width="2" fill="none"/>
<rect x="529.7" y="292.85" width="19.1" height="13.2" rx="1" fill="#fff" stroke="#c3bedb" stroke-width="2"/>
<path d="M529.7 299.15H548.8" stroke="#c3bedb" stroke-width="2"/>
<text x="559.3" y="304.45" font-size="14.2" fill="#000" textLength="65.06" lengthAdjust="spacingAndGlyphs">GSE66273</text>
<path d="M539.25 313.8V318.7M539.25 331.3V335.8" stroke="#d8d0ca" stroke-width="2" fill="none"/>
<rect x="529.7" y="318.4" width="19.1" height="13.2" rx="1" fill="#fff" stroke="#d8d0ca" stroke-width="2"/>
<path d="M529.7 324.7H548.8" stroke="#d8d0ca" stroke-width="2"/>
<text x="559.3" y="330" font-size="14.2" fill="#000" textLength="65.06" lengthAdjust="spacingAndGlyphs">GSE74341</text>
<path d="M539.25 339.35V344.25M539.25 356.85V361.35" stroke="#929292" stroke-width="2" fill="none"/>
<rect x="529.7" y="343.95" width="19.1" height="13.2" rx="1" fill="#fff" stroke="#929292" stroke-width="2"/>
<path d="M529.7 350.25H548.8" stroke="#929292" stroke-width="2"/>
<text x="559.3" y="355.55" font-size="14.2" fill="#000" textLength="65.06" lengthAdjust="spacingAndGlyphs">GSE75010</text>
<path d="M49.3 669.02L50.52 669.02L50.52 690.44L51.74 690.44L51.74 689.72L52.95 689.72L52.95 679.66L54.17 679.66L54.17 686.8L55.39 686.8L55.39 677.94L56.61 677.94L56.61 690.32L57.82 690.32L57.82 688.47L59.04 688.47L59.04 680.8L60.26 680.8L60.26 668.91L61.48 668.91L61.48 675.01L62.69 675.01L62.69 686.92L63.91 686.92L63.91 682.53L65.13 682.53L65.13 680.29L66.35 680.29L66.35 681.3L68.26 681.3L68.26 885.88L66.35 885.88L66.35 880.59L65.13 880.59L65.13 885.09L63.91 885.09L63.91 886.12L62.69 886.12L62.69 886.14L61.48 886.14L61.48 884.13L60.26 884.13L60.26 884.69L59.04 884.69L59.04 885.28L57.82 885.28L57.82 883.36L56.61 883.36L56.61 884.2L55.39 884.2L55.39 885.94L54.17 885.94L54.17 886.16L52.95 886.16L52.95 881.86L51.74 881.86L51.74 881.06L50.52 881.06L50.52 880.88L49.3 880.88Z" fill="#9eaecf"/>
<path d="M66.95 682.3V703.24" stroke="#fff" stroke-opacity="0.35" stroke-width="0.5" fill="none"/>
<path d="M67.56 685.53L68.78 685.53L68.78 684.43L70 684.43L70 682.87L71.22 682.87L71.22 675.08L72.43 675.08L72.43 680.91L73.65 680.91L73.65 685.17L74.87 685.17L74.87 672.46L76.09 672.46L76.09 674.42L77.3 674.42L77.3 671.27L78.52 671.27L78.52 670.89L79.74 670.89L79.74 679.49L80.96 679.49L80.96 682.65L82.17 682.65L82.17 685.57L83.39 685.57L83.39 678.76L84.61 678.76L84.61 681.92L85.83 681.92L85.83 688.95L87.04 688.95L87.04 688.05L88.96 688.05L88.96 889.54L87.04 889.54L87.04 883.11L85.83 883.11L85.83 882.21L84.61 882.21L84.61 880.04L83.39 880.04L83.39 887.57L82.17 887.57L82.17 885.39L80.96 885.39L80.96 886.61L79.74 886.61L79.74 884.05L78.52 884.05L78.52 883.38L77.3 883.38L77.3 882.88L76.09 882.88L76.09 881.06L74.87 881.06L74.87 884.17L73.65 884.17L73.65 882.37L72.43 882.37L72.43 884.29L71.22 884.29L71.22 880.38L70 880.38L70 889.34L68.78 889.34L68.78 883.09L67.56 883.09Z" fill="#c3bed6"/>
<path d="M69.39 685.43V693.89M75.48 673.46V685.97M82.78 686.57V697.61M85.22 682.92V691.17" stroke="#fff" stroke-opacity="0.35" stroke-width="0.5" fill="none"/>
<path d="M88.26 672.92L89.48 672.92L89.48 676.92L90.7 676.92L90.7 680.77L91.91 680.77L91.91 685.38L93.13 685.38L93.13 685.88L94.35 685.88L94.35 686.14L95.57 686.14L95.57 678.62L96.79 678.62L96.79 665.5L98 665.5L98 672.71L99.22 672.71L99.22 669.49L100.44 669.49L100.44 681.93L101.66 681.93L101.66 671.38L102.87 671.38L102.87 682.27L104.09 682.27L104.09 683.78L105.31 683.78L105.31 670.27L106.53 670.27L106.53 670.93L107.74 670.93L107.74 681.42L108.96 681.42L108.96 681.8L110.18 681.8L110.18 683.74L111.4 683.74L111.4 684.37L112.61 684.37L112.61 685.44L113.83 685.44L113.83 677.05L115.05 677.05L115.05 686.45L116.27 686.45L116.27 671.25L117.48 671.25L117.48 679.48L119.4 679.48L119.4 882.18L117.48 882.18L117.48 877.53L116.27 877.53L116.27 884.97L115.05 884.97L115.05 886.33L113.83 886.33L113.83 888.01L112.61 888.01L112.61 889.93L111.4 889.93L111.4 880.48L110.18 880.48L110.18 878.37L108.96 878.37L108.96 886.22L107.74 886.22L107.74 878.32L106.53 878.32L106.53 885.14L105.31 885.14L105.31 878.03L104.09 878.03L104.09 882.3L102.87 882.3L102.87 882.87L101.66 882.87L101.66 878.18L100.44 878.18L100.44 877.02L99.22 877.02L99.22 880.01L98 880.01L98 878.76L96.79 878.76L96.79 884.1L95.57 884.1L95.57 877.1L94.35 877.1L94.35 883.66L93.13 883.66L93.13 884.32L91.91 884.32L91.91 884.64L90.7 884.64L90.7 878.73L89.48 878.73L89.48 885.49L88.26 885.49Z" fill="#d8cfc9"/>
<path d="M107.13 671.93V691.74M109.57 682.8V692.86M110.79 684.74V696.87M113.22 686.44V699.06" stroke="#fff" stroke-opacity="0.35" stroke-width="0.5" fill="none"/>
<path d="M118.7 678.81L119.92 678.81L119.92 674.12L121.14 674.12L121.14 670.49L122.35 670.49L122.35 677.88L123.57 677.88L123.57 681.17L124.79 681.17L124.79 676.91L126.01 676.91L126.01 673.83L127.22 673.83L127.22 678.21L128.44 678.21L128.44 678.15L129.66 678.15L129.66 684.38L130.88 684.38L130.88 680.03L132.09 680.03L132.09 682.48L133.31 682.48L133.31 680.21L134.53 680.21L134.53 679.92L135.75 679.92L135.75 684.47L136.96 684.47L136.96 683.25L138.18 683.25L138.18 676.46L139.4 676.46L139.4 677.6L140.62 677.6L140.62 671.25L141.84 671.25L141.84 682.72L143.05 682.72L143.05 683.1L144.27 683.1L144.27 678.27L145.49 678.27L145.49 678.45L146.71 678.45L146.71 681.37L147.92 681.37L147.92 682.31L149.14 682.31L149.14 678.39L150.36 678.39L150.36 682.19L151.58 682.19L151.58 676.29L152.79 676.29L152.79 680.49L154.01 680.49L154.01 681.72L155.23 681.72L155.23 677.3L156.45 677.3L156.45 678.43L157.66 678.43L157.66 680.06L158.88 680.06L158.88 684.21L160.1 684.21L160.1 682.09L161.32 682.09L161.32 679.94L162.53 679.94L162.53 675.9L163.75 675.9L163.75 684.28L164.97 684.28L164.97 671.11L166.19 671.11L166.19 680.55L167.4 680.55L167.4 676.84L168.62 676.84L168.62 681.75L169.84 681.75L169.84 671.53L171.06 671.53L171.06 671.55L172.27 671.55L172.27 683.71L173.49 683.71L173.49 681.8L174.71 681.8L174.71 677.44L175.93 677.44L175.93 682.42L177.14 682.42L177.14 683.07L178.36 683.07L178.36 684.41L179.58 684.41L179.58 678.23L180.8 678.23L180.8 681.66L182.01 681.66L182.01 674.75L183.23 674.75L183.23 682.2L184.45 682.2L184.45 681.78L185.67 681.78L185.67 682.52L186.89 682.52L186.89 684.26L188.1 684.26L188.1 671.69L189.32 671.69L189.32 671.68L190.54 671.68L190.54 671.86L191.76 671.86L191.76 678.41L192.97 678.41L192.97 675.56L194.19 675.56L194.19 680.23L195.41 680.23L195.41 680.54L196.63 680.54L196.63 682.93L197.84 682.93L197.84 680.57L199.06 680.57L199.06 681.78L200.28 681.78L200.28 683.01L201.5 683.01L201.5 679.03L202.71 679.03L202.71 680.79L203.93 680.79L203.93 682.2L205.15 682.2L205.15 682.81L206.37 682.81L206.37 682.96L207.58 682.96L207.58 680.26L208.8 680.26L208.8 677.11L210.02 677.11L210.02 676.2L211.24 676.2L211.24 680.05L212.45 680.05L212.45 679.62L213.67 679.62L213.67 682.24L214.89 682.24L214.89 680.36L216.11 680.36L216.11 679.85L217.32 679.85L217.32 677.86L218.54 677.86L218.54 679.36L219.76 679.36L219.76 682.21L220.98 682.21L220.98 683.25L222.19 683.25L222.19 683.73L223.41 683.73L223.41 677.43L224.63 677.43L224.63 675.84L225.85 675.84L225.85 677.82L227.06 677.82L227.06 680.1L228.28 680.1L228.28 682.23L229.5 682.23L229.5 675.4L230.72 675.4L230.72 675.12L231.94 675.12L231.94 680.81L233.15 680.81L233.15 677.63L234.37 677.63L234.37 675.78L235.59 675.78L235.59 680.4L236.81 680.4L236.81 679.7L238.02 679.7L238.02 682.17L239.24 682.17L239.24 679.58L240.46 679.58L240.46 673.83L241.68 673.83L241.68 678.85L242.89 678.85L242.89 678.33L244.11 678.33L244.11 676.29L245.33 676.29L245.33 675.36L246.55 675.36L246.55 676.98L247.76 676.98L247.76 676.65L248.98 676.65L248.98 675.59L250.2 675.59L250.2 679.4L251.42 679.4L251.42 680.24L252.63 680.24L252.63 682.04L253.85 682.04L253.85 680.43L255.07 680.43L255.07 684.2L256.29 684.2L256.29 674.91L257.5 674.91L257.5 674.52L258.72 674.52L258.72 679.3L259.94 679.3L259.94 675.55L261.16 675.55L261.16 675.14L262.37 675.14L262.37 674.24L263.59 674.24L263.59 678.75L264.81 678.75L264.81 678.44L266.03 678.44L266.03 680.27L267.24 680.27L267.24 681L268.46 681L268.46 681.01L269.68 681.01L269.68 682.15L270.9 682.15L270.9 677.33L272.11 677.33L272.11 676.91L273.33 676.91L273.33 679.09L274.55 679.09L274.55 681.88L275.77 681.88L275.77 677.64L276.99 677.64L276.99 684.43L278.2 684.43L278.2 684.05L279.42 684.05L279.42 680.99L280.64 680.99L280.64 682.9L281.86 682.9L281.86 680.72L283.07 680.72L283.07 679.26L284.29 679.26L284.29 675.82L285.51 675.82L285.51 671.69L286.73 671.69L286.73 676.81L287.94 676.81L287.94 675.35L289.16 675.35L289.16 675.24L290.38 675.24L290.38 669.97L291.6 669.97L291.6 676.63L292.81 676.63L292.81 675.87L294.03 675.87L294.03 679.93L295.25 679.93L295.25 674.27L296.47 674.27L296.47 676.04L297.68 676.04L297.68 677.91L298.9 677.91L298.9 676.65L300.12 676.65L300.12 677.21L301.34 677.21L301.34 671.85L302.55 671.85L302.55 676.2L303.77 676.2L303.77 681.05L304.99 681.05L304.99 677.12L306.21 677.12L306.21 680.8L307.42 680.8L307.42 684.18L308.64 684.18L308.64 682.15L310.56 682.15L310.56 886.31L308.64 886.31L308.64 878.98L307.42 878.98L307.42 877.4L306.21 877.4L306.21 881.79L304.99 881.79L304.99 880.43L303.77 880.43L303.77 882.75L302.55 882.75L302.55 877.76L301.34 877.76L301.34 883.96L300.12 883.96L300.12 880.07L298.9 880.07L298.9 880.5L297.68 880.5L297.68 877.8L296.47 877.8L296.47 879.88L295.25 879.88L295.25 877.13L294.03 877.13L294.03 886.19L292.81 886.19L292.81 883.66L291.6 883.66L291.6 877.88L290.38 877.88L290.38 882.06L289.16 882.06L289.16 882.74L287.94 882.74L287.94 881.3L286.73 881.3L286.73 879.43L285.51 879.43L285.51 877.71L284.29 877.71L284.29 881.24L283.07 881.24L283.07 884.25L281.86 884.25L281.86 885.16L280.64 885.16L280.64 877.34L279.42 877.34L279.42 881.61L278.2 881.61L278.2 883.35L276.99 883.35L276.99 878.1L275.77 878.1L275.77 882.25L274.55 882.25L274.55 880.91L273.33 880.91L273.33 879.67L272.11 879.67L272.11 885.5L270.9 885.5L270.9 882.46L269.68 882.46L269.68 878.85L268.46 878.85L268.46 879.26L267.24 879.26L267.24 881.15L266.03 881.15L266.03 877.89L264.81 877.89L264.81 878.21L263.59 878.21L263.59 880.76L262.37 880.76L262.37 886.29L261.16 886.29L261.16 886.06L259.94 886.06L259.94 878.85L258.72 878.85L258.72 877.26L257.5 877.26L257.5 877.55L256.29 877.55L256.29 886.11L255.07 886.11L255.07 877.32L253.85 877.32L253.85 878.11L252.63 878.11L252.63 877.15L251.42 877.15L251.42 884.8L250.2 884.8L250.2 882.58L248.98 882.58L248.98 883.03L247.76 883.03L247.76 877.03L246.55 877.03L246.55 882.84L245.33 882.84L245.33 885.25L244.11 885.25L244.11 879.81L242.89 879.81L242.89 881.61L241.68 881.61L241.68 882.58L240.46 882.58L240.46 885.67L239.24 885.67L239.24 880.43L238.02 880.43L238.02 883.7L236.81 883.7L236.81 884.16L235.59 884.16L235.59 879.92L234.37 879.92L234.37 886.49L233.15 886.49L233.15 883.48L231.94 883.48L231.94 883.88L230.72 883.88L230.72 877.24L229.5 877.24L229.5 883.55L228.28 883.55L228.28 879.3L227.06 879.3L227.06 884.71L225.85 884.71L225.85 878.72L224.63 878.72L224.63 878.35L223.41 878.35L223.41 880.58L222.19 880.58L222.19 884.37L220.98 884.37L220.98 879.43L219.76 879.43L219.76 877.05L218.54 877.05L218.54 882.65L217.32 882.65L217.32 877.53L216.11 877.53L216.11 881.17L214.89 881.17L214.89 877.16L213.67 877.16L213.67 878.94L212.45 878.94L212.45 877.58L211.24 877.58L211.24 880.47L210.02 880.47L210.02 882.98L208.8 882.98L208.8 879.8L207.58 879.8L207.58 880.46L206.37 880.46L206.37 885.61L205.15 885.61L205.15 877.7L203.93 877.7L203.93 885.33L202.71 885.33L202.71 877.23L201.5 877.23L201.5 879.23L200.28 879.23L200.28 878.72L199.06 878.72L199.06 879.14L197.84 879.14L197.84 880.41L196.63 880.41L196.63 882.28L195.41 882.28L195.41 879.2L194.19 879.2L194.19 879.18L192.97 879.18L192.97 884.67L191.76 884.67L191.76 877.05L190.54 877.05L190.54 880.86L189.32 880.86L189.32 877.02L188.1 877.02L188.1 878.6L186.89 878.6L186.89 896.24L185.67 896.24L185.67 880.29L184.45 880.29L184.45 883.14L183.23 883.14L183.23 881.99L182.01 881.99L182.01 878.44L180.8 878.44L180.8 877.77L179.58 877.77L179.58 878.89L178.36 878.89L178.36 882.11L177.14 882.11L177.14 883.87L175.93 883.87L175.93 879.53L174.71 879.53L174.71 877.25L173.49 877.25L173.49 885.45L172.27 885.45L172.27 880.99L171.06 880.99L171.06 880.71L169.84 880.71L169.84 877.65L168.62 877.65L168.62 877.11L167.4 877.11L167.4 878.22L166.19 878.22L166.19 879.06L164.97 879.06L164.97 881.02L163.75 881.02L163.75 877.51L162.53 877.51L162.53 877.86L161.32 877.86L161.32 882.74L160.1 882.74L160.1 878.39L158.88 878.39L158.88 877.83L157.66 877.83L157.66 877.38L156.45 877.38L156.45 885.72L155.23 885.72L155.23 880.02L154.01 880.02L154.01 882.19L152.79 882.19L152.79 878.24L151.58 878.24L151.58 877.53L150.36 877.53L150.36 881.7L149.14 881.7L149.14 877.53L147.92 877.53L147.92 881.44L146.71 881.44L146.71 883.93L145.49 883.93L145.49 878.29L144.27 878.29L144.27 882.56L143.05 882.56L143.05 883.74L141.84 883.74L141.84 884.23L140.62 884.23L140.62 879.69L139.4 879.69L139.4 879.62L138.18 879.62L138.18 882.64L136.96 882.64L136.96 881.49L135.75 881.49L135.75 881.97L134.53 881.97L134.53 878.12L133.31 878.12L133.31 877.7L132.09 877.7L132.09 878.65L130.88 878.65L130.88 884.05L129.66 884.05L129.66 881.98L128.44 881.98L128.44 885.38L127.22 885.38L127.22 877.23L126.01 877.23L126.01 880.41L124.79 880.41L124.79 886.43L123.57 886.43L123.57 878.85L122.35 878.85L122.35 878.12L121.14 878.12L121.14 877.11L119.92 877.11L119.92 884.92L118.7 884.92Z" fill="#999999"/>
<path d="M132.7 683.48V698.62M135.14 680.92V691.96M140.01 678.6V687.79M152.18 677.29V690.34M164.36 685.28V701.75M168.01 677.84V697.41M176.54 683.42V697.6M183.84 683.2V698.25M192.36 679.41V697.12M196.02 681.54V688.12M199.67 682.78V691.67M202.1 680.03V695.29M205.76 683.81V703.38M208.19 681.26V699.92M215.5 681.36V697.22M217.93 678.86V685.99M221.59 684.25V689.55M228.89 683.23V700.66M237.41 680.7V688.22M238.63 683.17V701.84M243.5 679.33V698.02M255.68 685.2V695.38M258.11 675.52V683.56M261.77 676.14V682.01M289.77 676.24V683.14M295.86 675.27V689.43M300.73 678.21V692.11M301.95 672.85V686.28M305.6 678.12V691.63M306.82 681.8V694.91" stroke="#fff" stroke-opacity="0.35" stroke-width="0.5" fill="none"/>
<path d="M309.86 670.67L311.08 670.67L311.08 678.05L312.29 678.05L312.29 677.63L313.51 677.63L313.51 683.28L314.73 683.28L314.73 690.23L315.95 690.23L315.95 695.95L317.16 695.95L317.16 675.34L318.38 675.34L318.38 665.92L319.6 665.92L319.6 689.01L320.82 689.01L320.82 677.22L322.04 677.22L322.04 688.05L323.25 688.05L323.25 687.14L324.47 687.14L324.47 690.15L325.69 690.15L325.69 674.5L326.91 674.5L326.91 694.17L328.12 694.17L328.12 695.95L329.34 695.95L329.34 684.63L330.56 684.63L330.56 671.87L331.78 671.87L331.78 684.77L332.99 684.77L332.99 677.47L334.21 677.47L334.21 681.55L335.43 681.55L335.43 670.03L336.65 670.03L336.65 677.62L338.56 677.62L338.56 879.82L336.65 879.82L336.65 874.17L335.43 874.17L335.43 882.46L334.21 882.46L334.21 880.13L332.99 880.13L332.99 890.67L331.78 890.67L331.78 885.72L330.56 885.72L330.56 887.72L329.34 887.72L329.34 889.91L328.12 889.91L328.12 887.21L326.91 887.21L326.91 877.26L325.69 877.26L325.69 880.2L324.47 880.2L324.47 882.42L323.25 882.42L323.25 874.91L322.04 874.91L322.04 886.47L320.82 886.47L320.82 874L319.6 874L319.6 874.52L318.38 874.52L318.38 888.62L317.16 888.62L317.16 882.49L315.95 882.49L315.95 884.51L314.73 884.51L314.73 887.59L313.51 887.59L313.51 887.9L312.29 887.9L312.29 875.97L311.08 875.97L311.08 877.49L309.86 877.49Z" fill="#9fc6c1"/>
<path d="M310.47 671.67V686.98M326.3 675.5V687.95M331.17 672.87V687.16M337.25 678.62V692.55" stroke="#fff" stroke-opacity="0.35" stroke-width="0.5" fill="none"/>
<path d="M337.86 670.18L339.08 670.18L339.08 683.22L340.3 683.22L340.3 675.86L341.52 675.86L341.52 678.33L342.73 678.33L342.73 678.73L343.95 678.73L343.95 676.12L345.17 676.12L345.17 670.51L346.39 670.51L346.39 672.99L347.6 672.99L347.6 677.82L348.82 677.82L348.82 680.64L350.04 680.64L350.04 673.24L351.26 673.24L351.26 675.25L352.47 675.25L352.47 672.44L353.69 672.44L353.69 678.31L354.91 678.31L354.91 671.63L356.83 671.63L356.83 887.7L354.91 887.7L354.91 880.04L353.69 880.04L353.69 883.9L352.47 883.9L352.47 885.45L351.26 885.45L351.26 883.5L350.04 883.5L350.04 888.06L348.82 888.06L348.82 883.13L347.6 883.13L347.6 879.75L346.39 879.75L346.39 886.1L345.17 886.1L345.17 885.79L343.95 885.79L343.95 881.18L342.73 881.18L342.73 884.75L341.52 884.75L341.52 886.77L340.3 886.77L340.3 886.95L339.08 886.95L339.08 884L337.86 884Z" fill="#dbb986"/>
<path d="M343.34 679.73V689.04M347 673.99V684.68M348.21 678.82V685.83M351.87 676.25V689.18" stroke="#fff" stroke-opacity="0.35" stroke-width="0.5" fill="none"/>
<path d="M356.13 693.87L357.34 693.87L357.34 695.21L358.56 695.21L358.56 675.76L359.78 675.76L359.78 687.89L361 687.89L361 693.38L362.21 693.38L362.21 697.76L363.43 697.76L363.43 690.23L364.65 690.23L364.65 697.26L365.87 697.26L365.87 663.86L367.09 663.86L367.09 685.82L368.3 685.82L368.3 686.19L369.52 686.19L369.52 694.76L370.74 694.76L370.74 700.26L371.96 700.26L371.96 703.59L373.17 703.59L373.17 687.69L374.39 687.69L374.39 684.56L375.61 684.56L375.61 692.09L376.83 692.09L376.83 691.61L378.04 691.61L378.04 684.8L379.26 684.8L379.26 695.11L380.48 695.11L380.48 698.48L381.7 698.48L381.7 687.66L382.91 687.66L382.91 675.97L384.13 675.97L384.13 702.55L385.35 702.55L385.35 701.96L386.57 701.96L386.57 675.8L387.78 675.8L387.78 686.32L389 686.32L389 696.59L390.22 696.59L390.22 692.97L391.44 692.97L391.44 678.46L392.65 678.46L392.65 666.78L393.87 666.78L393.87 671.76L395.09 671.76L395.09 689.88L396.31 689.88L396.31 694.28L397.52 694.28L397.52 696.28L398.74 696.28L398.74 682.78L399.96 682.78L399.96 685.8L401.18 685.8L401.18 674.72L402.39 674.72L402.39 688.95L403.61 688.95L403.61 689.46L404.83 689.46L404.83 678.94L406.05 678.94L406.05 675.71L407.26 675.71L407.26 704.3L408.48 704.3L408.48 704.96L409.7 704.96L409.7 699.96L410.92 699.96L410.92 704.79L412.14 704.79L412.14 703.95L413.35 703.95L413.35 699.87L414.57 699.87L414.57 701.89L415.79 701.89L415.79 655.67L417.01 655.67L417.01 682.39L418.22 682.39L418.22 668.48L419.44 668.48L419.44 673.5L420.66 673.5L420.66 666.9L421.88 666.9L421.88 677.44L423.09 677.44L423.09 675.57L424.31 675.57L424.31 661.4L425.53 661.4L425.53 659.02L426.75 659.02L426.75 676.49L427.96 676.49L427.96 675.19L429.88 675.19L429.88 878.66L427.96 878.66L427.96 878.14L426.75 878.14L426.75 878.6L425.53 878.6L425.53 876.14L424.31 876.14L424.31 887.29L423.09 887.29L423.09 883.68L421.88 883.68L421.88 891.47L420.66 891.47L420.66 890.24L419.44 890.24L419.44 891.03L418.22 891.03L418.22 889.4L417.01 889.4L417.01 871.65L415.79 871.65L415.79 878.65L414.57 878.65L414.57 873.18L413.35 873.18L413.35 871.06L412.14 871.06L412.14 893.2L410.92 893.2L410.92 894.92L409.7 894.92L409.7 876.11L408.48 876.11L408.48 887.35L407.26 887.35L407.26 885.16L406.05 885.16L406.05 871.37L404.83 871.37L404.83 871.94L403.61 871.94L403.61 887.75L402.39 887.75L402.39 893.14L401.18 893.14L401.18 888.95L399.96 888.95L399.96 884.3L398.74 884.3L398.74 877.96L397.52 877.96L397.52 873.46L396.31 873.46L396.31 872.46L395.09 872.46L395.09 877.22L393.87 877.22L393.87 875.92L392.65 875.92L392.65 891.64L391.44 891.64L391.44 883.5L390.22 883.5L390.22 894.38L389 894.38L389 887.17L387.78 887.17L387.78 879.72L386.57 879.72L386.57 877.48L385.35 877.48L385.35 895.34L384.13 895.34L384.13 878.53L382.91 878.53L382.91 891.02L381.7 891.02L381.7 879.91L380.48 879.91L380.48 876.39L379.26 876.39L379.26 891.77L378.04 891.77L378.04 886.73L376.83 886.73L376.83 885.43L375.61 885.43L375.61 878.39L374.39 878.39L374.39 890.07L373.17 890.07L373.17 873.49L371.96 873.49L371.96 871.26L370.74 871.26L370.74 874.97L369.52 874.97L369.52 883.91L368.3 883.91L368.3 879.95L367.09 879.95L367.09 872.59L365.87 872.59L365.87 887.06L364.65 887.06L364.65 874.83L363.43 874.83L363.43 877.63L362.21 877.63L362.21 882.73L361 882.73L361 879.82L359.78 879.82L359.78 891.49L358.56 891.49L358.56 878.5L357.34 878.5L357.34 874.84L356.13 874.84Z" fill="#d98b71"/>
<path d="M365.26 698.26V709.45M370.13 695.76V715.11M372.56 704.59V711.17M373.78 688.69V697.66M375 685.56V701.84M376.22 693.09V705.01M393.26 667.78V679.66M400.57 686.8V698.73M409.09 705.96V721.11M418.83 669.48V682.47M421.27 667.9V675.69M422.48 678.44V686.49M423.7 676.57V691.97" stroke="#fff" stroke-opacity="0.35" stroke-width="0.5" fill="none"/>
<path d="M429.18 657.78L430.4 657.78L430.4 667.26L431.62 667.26L431.62 665.41L432.83 665.41L432.83 683.82L434.05 683.82L434.05 690.3L435.27 690.3L435.27 680.24L436.49 680.24L436.49 706.77L437.7 706.77L437.7 660.87L438.92 660.87L438.92 678.23L440.14 678.23L440.14 678.33L441.36 678.33L441.36 667.13L442.57 667.13L442.57 706.54L443.79 706.54L443.79 705.14L445.01 705.14L445.01 691.03L446.23 691.03L446.23 691.3L447.44 691.3L447.44 706.62L448.66 706.62L448.66 705.8L449.88 705.8L449.88 703.12L451.1 703.12L451.1 691.84L452.31 691.84L452.31 679.03L453.53 679.03L453.53 703.37L454.75 703.37L454.75 700.67L455.97 700.67L455.97 705.42L457.19 705.42L457.19 690.84L458.4 690.84L458.4 704.71L459.62 704.71L459.62 697.91L460.84 697.91L460.84 675.49L462.06 675.49L462.06 667.2L463.27 667.2L463.27 694L464.49 694L464.49 689.52L465.71 689.52L465.71 683.62L466.93 683.62L466.93 664.24L468.14 664.24L468.14 667.8L469.36 667.8L469.36 679.23L470.58 679.23L470.58 681.17L471.8 681.17L471.8 669.76L473.01 669.76L473.01 662.13L474.23 662.13L474.23 675.49L475.45 675.49L475.45 704.02L476.67 704.02L476.67 688.35L477.88 688.35L477.88 706.07L479.1 706.07L479.1 683.4L480.32 683.4L480.32 692.51L481.54 692.51L481.54 671.47L482.75 671.47L482.75 674.57L483.97 674.57L483.97 657.87L485.19 657.87L485.19 662.52L486.41 662.52L486.41 688.83L487.62 688.83L487.62 693.73L488.84 693.73L488.84 706.96L490.06 706.96L490.06 657.67L491.28 657.67L491.28 680.4L492.49 680.4L492.49 671.31L493.71 671.31L493.71 680.47L494.93 680.47L494.93 693.69L496.15 693.69L496.15 702.36L497.36 702.36L497.36 704.97L498.58 704.97L498.58 696.95L500.8 696.95L500.8 893.07L498.58 893.07L498.58 888.52L497.36 888.52L497.36 871.93L496.15 871.93L496.15 875.92L494.93 875.92L494.93 872.71L493.71 872.71L493.71 882.72L492.49 882.72L492.49 872.39L491.28 872.39L491.28 874.86L490.06 874.86L490.06 886.1L488.84 886.1L488.84 890.33L487.62 890.33L487.62 877.85L486.41 877.85L486.41 871.43L485.19 871.43L485.19 875.66L483.97 875.66L483.97 883.19L482.75 883.19L482.75 873.94L481.54 873.94L481.54 874.83L480.32 874.83L480.32 877.37L479.1 877.37L479.1 871.07L477.88 871.07L477.88 880.41L476.67 880.41L476.67 874.05L475.45 874.05L475.45 877.42L474.23 877.42L474.23 877.06L473.01 877.06L473.01 872.85L471.8 872.85L471.8 882.3L470.58 882.3L470.58 872.87L469.36 872.87L469.36 883.14L468.14 883.14L468.14 894.58L466.93 894.58L466.93 871.96L465.71 871.96L465.71 872.83L464.49 872.83L464.49 877.66L463.27 877.66L463.27 887.45L462.06 887.45L462.06 890.29L460.84 890.29L460.84 891.5L459.62 891.5L459.62 873.45L458.4 873.45L458.4 875.79L457.19 875.79L457.19 873L455.97 873L455.97 881.98L454.75 881.98L454.75 871.78L453.53 871.78L453.53 891.96L452.31 891.96L452.31 892.38L451.1 892.38L451.1 889.39L449.88 889.39L449.88 875L448.66 875L448.66 890.16L447.44 890.16L447.44 883.63L446.23 883.63L446.23 895.25L445.01 895.25L445.01 880.27L443.79 880.27L443.79 890.73L442.57 890.73L442.57 871.31L441.36 871.31L441.36 876.79L440.14 876.79L440.14 885.69L438.92 885.69L438.92 884.45L437.7 884.45L437.7 886.34L436.49 886.34L436.49 885.01L435.27 885.01L435.27 881.9L434.05 881.9L434.05 880.03L432.83 880.03L432.83 892L431.62 892L431.62 887.86L430.4 887.86L430.4 876.84L429.18 876.84Z" fill="#aa9ba4"/>
<path d="M441.97 668.13V680.79M448.05 707.62V719.42M449.27 706.8V714.45M459.01 705.71V718.12M465.1 690.52V703.38M471.19 682.17V701.72M485.8 663.52V683.68M490.67 658.67V673.58M497.97 705.97V711.25" stroke="#fff" stroke-opacity="0.35" stroke-width="0.5" fill="none"/>
<rect x="48.9" y="561.5" width="452.8" height="362.2" fill="none" stroke="#111" stroke-width="2" stroke-linejoin="round"/>
<text x="41.4" y="860.5" font-size="14.2" fill="#4d4d4d" text-anchor="end" textLength="7.39" lengthAdjust="spacingAndGlyphs">6</text>
<text x="41.4" y="767.2" font-size="14.2" fill="#4d4d4d" text-anchor="end" textLength="7.39" lengthAdjust="spacingAndGlyphs">9</text>
<text x="41.4" y="673.9" font-size="14.2" fill="#4d4d4d" text-anchor="end" textLength="14.79" lengthAdjust="spacingAndGlyphs">12</text>
<text x="41.4" y="580.6" font-size="14.2" fill="#4d4d4d" text-anchor="end" textLength="14.79" lengthAdjust="spacingAndGlyphs">15</text>
<path d="M44.3 855.6H48.9M44.3 762.3H48.9M44.3 669H48.9M44.3 575.7H48.9" stroke="#333" stroke-width="2.6" fill="none"/>
<text x="275.3" y="943.2" font-size="16.5" fill="#000" text-anchor="middle">sample</text>
<text transform="translate(19.6 742.5) rotate(-90)" text-anchor="middle" font-size="16.2" fill="#000">Log2 normalized expression level</text>
<path d="M538.85 652.8V657.7M538.85 670.3V674.8" stroke="#8ec4ba" stroke-width="2" fill="none"/>
<rect x="529.3" y="657.4" width="19.1" height="13.2" rx="1" fill="#fff" stroke="#8ec4ba" stroke-width="2"/>
<path d="M529.3 663.7H548.4" stroke="#8ec4ba" stroke-width="2"/>
<text x="559.6" y="669" font-size="14.2" fill="#000" textLength="65.06" lengthAdjust="spacingAndGlyphs">GSE14722</text>
<path d="M538.85 678.48V683.38M538.85 695.98V700.48" stroke="#ddb673" stroke-width="2" fill="none"/>
<rect x="529.3" y="683.08" width="19.1" height="13.2" rx="1" fill="#fff" stroke="#ddb673" stroke-width="2"/>
<path d="M529.3 689.38H548.4" stroke="#ddb673" stroke-width="2"/>
<text x="559.6" y="694.68" font-size="14.2" fill="#000" textLength="65.06" lengthAdjust="spacingAndGlyphs">GSE22526</text>
<path d="M538.85 704.16V709.06M538.85 721.66V726.16" stroke="#dd8162" stroke-width="2" fill="none"/>
<rect x="529.3" y="708.76" width="19.1" height="13.2" rx="1" fill="#fff" stroke="#dd8162" stroke-width="2"/>
<path d="M529.3 715.06H548.4" stroke="#dd8162" stroke-width="2"/>
<text x="559.6" y="720.36" font-size="14.2" fill="#000" textLength="65.06" lengthAdjust="spacingAndGlyphs">GSE25906</text>
<path d="M538.85 729.84V734.74M538.85 747.34V751.84" stroke="#a8949f" stroke-width="2" fill="none"/>
<rect x="529.3" y="734.44" width="19.1" height="13.2" rx="1" fill="#fff" stroke="#a8949f" stroke-width="2"/>
<path d="M529.3 740.74H548.4" stroke="#a8949f" stroke-width="2"/>
<text x="559.6" y="746.04" font-size="14.2" fill="#000" textLength="65.06" lengthAdjust="spacingAndGlyphs">GSE35574</text>
<path d="M538.85 755.52V760.42M538.85 773.02V777.52" stroke="#93a8d2" stroke-width="2" fill="none"/>
<rect x="529.3" y="760.12" width="19.1" height="13.2" rx="1" fill="#fff" stroke="#93a8d2" stroke-width="2"/>
<path d="M529.3 766.42H548.4" stroke="#93a8d2" stroke-width="2"/>
<text x="559.6" y="771.72" font-size="14.2" fill="#000" textLength="65.06" lengthAdjust="spacingAndGlyphs">GSE44711</text>
<path d="M538.85 781.2V786.1M538.85 798.7V803.2" stroke="#c3bedb" stroke-width="2" fill="none"/>
<rect x="529.3" y="785.8" width="19.1" height="13.2" rx="1" fill="#fff" stroke="#c3bedb" stroke-width="2"/>
<path d="M529.3 792.1H548.4" stroke="#c3bedb" stroke-width="2"/>
<text x="559.6" y="797.4" font-size="14.2" fill="#000" textLength="65.06" lengthAdjust="spacingAndGlyphs">GSE66273</text>
<path d="M538.85 806.88V811.78M538.85 824.38V828.88" stroke="#d8d0ca" stroke-width="2" fill="none"/>
<rect x="529.3" y="811.48" width="19.1" height="13.2" rx="1" fill="#fff" stroke="#d8d0ca" stroke-width="2"/>
<path d="M529.3 817.78H548.4" stroke="#d8d0ca" stroke-width="2"/>
<text x="559.6" y="823.08" font-size="14.2" fill="#000" textLength="65.06" lengthAdjust="spacingAndGlyphs">GSE74341</text>
<path d="M538.85 832.56V837.46M538.85 850.06V854.56" stroke="#929292" stroke-width="2" fill="none"/>
<rect x="529.3" y="837.16" width="19.1" height="13.2" rx="1" fill="#fff" stroke="#929292" stroke-width="2"/>
<path d="M529.3 843.46H548.4" stroke="#929292" stroke-width="2"/>
<text x="559.6" y="848.76" font-size="14.2" fill="#000" textLength="65.06" lengthAdjust="spacingAndGlyphs">GSE75010</text>
<circle cx="1274.2" cy="288.3" r="4.6" fill="#deb779"/>
<circle cx="1276.5" cy="289.6" r="4.6" fill="#deb779"/>
<circle cx="1279.6" cy="291.1" r="4.6" fill="#deb779"/>
<circle cx="1397" cy="134.5" r="4.4" fill="#93c7bd"/>
<circle cx="1403" cy="134.8" r="4.4" fill="#93c7bd"/>
<circle cx="1396.8" cy="139" r="4.4" fill="#93c7bd"/>
<circle cx="1400.5" cy="137.5" r="4.4" fill="#93c7bd"/>
<circle cx="1397" cy="142.3" r="4.4" fill="#93c7bd"/>
<circle cx="1401" cy="141" r="4.4" fill="#93c7bd"/>
<circle cx="1403.5" cy="136.5" r="4.4" fill="#93c7bd"/>
<circle cx="1399.5" cy="134" r="4.4" fill="#93c7bd"/>
<circle cx="1302.6" cy="209.4" r="4.4" fill="#de8465"/>
<circle cx="1299" cy="212.5" r="4.4" fill="#de8465"/>
<circle cx="1299.2" cy="211.5" r="4.4" fill="#a9959f"/>
<circle cx="1303.5" cy="210.8" r="4.4" fill="#a9959f"/>
<circle cx="1300" cy="215" r="4.4" fill="#a9959f"/>
<circle cx="1303.5" cy="215.5" r="4.4" fill="#a9959f"/>
<circle cx="1301" cy="219.5" r="4.4" fill="#a9959f"/>
<circle cx="1302.2" cy="222.2" r="4.4" fill="#a9959f"/>
<circle cx="1299.3" cy="214" r="4.4" fill="#a9959f"/>
<circle cx="1420.6" cy="215.2" r="4.4" fill="#de8465"/>
<circle cx="1391.5" cy="222.5" r="4.4" fill="#de8465"/>
<circle cx="1399.5" cy="221" r="4.4" fill="#de8465"/>
<circle cx="1393.5" cy="232.5" r="4.4" fill="#de8465"/>
<circle cx="1380" cy="224" r="4.4" fill="#de8465"/>
<circle cx="1405" cy="228" r="4.4" fill="#de8465"/>
<circle cx="1417.75" cy="216.39" r="4.4" fill="#a9959f"/><circle cx="1419.33" cy="215.57" r="4.4" fill="#a9959f"/><circle cx="1415.47" cy="218.91" r="4.4" fill="#a9959f"/><circle cx="1417.12" cy="218.23" r="4.4" fill="#a9959f"/><circle cx="1383.31" cy="221.43" r="4.4" fill="#a9959f"/><circle cx="1386.76" cy="221.48" r="4.4" fill="#a9959f"/><circle cx="1388.62" cy="221.44" r="4.4" fill="#a9959f"/><circle cx="1414.52" cy="221.19" r="4.4" fill="#a9959f"/><circle cx="1381.54" cy="223.68" r="4.4" fill="#a9959f"/><circle cx="1383.51" cy="223.65" r="4.4" fill="#a9959f"/><circle cx="1386.81" cy="223.67" r="4.4" fill="#a9959f"/><circle cx="1389.09" cy="222.71" r="4.4" fill="#a9959f"/><circle cx="1391.25" cy="223.74" r="4.4" fill="#a9959f"/><circle cx="1392.96" cy="223.03" r="4.4" fill="#a9959f"/><circle cx="1395.62" cy="223.33" r="4.4" fill="#a9959f"/><circle cx="1398.21" cy="223.27" r="4.4" fill="#a9959f"/><circle cx="1401.03" cy="222.7" r="4.4" fill="#a9959f"/><circle cx="1402.57" cy="222.85" r="4.4" fill="#a9959f"/><circle cx="1405.05" cy="222.78" r="4.4" fill="#a9959f"/><circle cx="1408.47" cy="223.73" r="4.4" fill="#a9959f"/><circle cx="1409.8" cy="223.3" r="4.4" fill="#a9959f"/><circle cx="1412.48" cy="223.08" r="4.4" fill="#a9959f"/><circle cx="1379.44" cy="225.56" r="4.4" fill="#a9959f"/><circle cx="1381.86" cy="225.85" r="4.4" fill="#a9959f"/><circle cx="1383.82" cy="225.55" r="4.4" fill="#a9959f"/><circle cx="1386.3" cy="225.94" r="4.4" fill="#a9959f"/><circle cx="1388.6" cy="225.93" r="4.4" fill="#a9959f"/><circle cx="1391.05" cy="225.39" r="4.4" fill="#a9959f"/><circle cx="1393.54" cy="225.93" r="4.4" fill="#a9959f"/><circle cx="1395.39" cy="225.61" r="4.4" fill="#a9959f"/><circle cx="1398.21" cy="226.16" r="4.4" fill="#a9959f"/><circle cx="1401.22" cy="225.55" r="4.4" fill="#a9959f"/><circle cx="1403.58" cy="226.05" r="4.4" fill="#a9959f"/><circle cx="1405.21" cy="225.66" r="4.4" fill="#a9959f"/><circle cx="1407.45" cy="226.08" r="4.4" fill="#a9959f"/><circle cx="1410.49" cy="226.16" r="4.4" fill="#a9959f"/><circle cx="1386.66" cy="227.54" r="4.4" fill="#a9959f"/><circle cx="1389.02" cy="228.11" r="4.4" fill="#a9959f"/><circle cx="1391.36" cy="227.63" r="4.4" fill="#a9959f"/><circle cx="1393.8" cy="228.62" r="4.4" fill="#a9959f"/><circle cx="1395.37" cy="227.89" r="4.4" fill="#a9959f"/><circle cx="1398.38" cy="228.49" r="4.4" fill="#a9959f"/><circle cx="1400.39" cy="227.72" r="4.4" fill="#a9959f"/><circle cx="1402.8" cy="228.24" r="4.4" fill="#a9959f"/><circle cx="1405.8" cy="227.97" r="4.4" fill="#a9959f"/><circle cx="1407.74" cy="227.98" r="4.4" fill="#a9959f"/><circle cx="1410.12" cy="228" r="4.4" fill="#a9959f"/><circle cx="1388.48" cy="230.18" r="4.4" fill="#a9959f"/><circle cx="1391.33" cy="231.04" r="4.4" fill="#a9959f"/><circle cx="1393.26" cy="230.75" r="4.4" fill="#a9959f"/><circle cx="1395.8" cy="230.92" r="4.4" fill="#a9959f"/><circle cx="1403.08" cy="230.36" r="4.4" fill="#a9959f"/><circle cx="1405.11" cy="230.33" r="4.4" fill="#a9959f"/>
<circle cx="1502.8" cy="231.3" r="4.4" fill="#94a9d3"/>
<circle cx="1504.03" cy="230.33" r="4.4" fill="#94a9d3"/>
<circle cx="1505.25" cy="229.35" r="4.4" fill="#94a9d3"/>
<circle cx="1506.47" cy="228.38" r="4.4" fill="#94a9d3"/>
<circle cx="1507.7" cy="227.4" r="4.4" fill="#94a9d3"/>
<circle cx="1613.9" cy="87" r="4.4" fill="#c5c0dc"/>
<circle cx="1615.53" cy="88.45" r="4.4" fill="#c5c0dc"/>
<circle cx="1617.15" cy="89.9" r="4.4" fill="#c5c0dc"/>
<circle cx="1618.78" cy="91.35" r="4.4" fill="#c5c0dc"/>
<circle cx="1620.4" cy="92.8" r="4.4" fill="#c5c0dc"/>
<circle cx="1457.31" cy="361.18" r="4.4" fill="#939393"/><circle cx="1452.45" cy="363.56" r="4.4" fill="#939393"/><circle cx="1454.85" cy="363.14" r="4.4" fill="#939393"/><circle cx="1457.01" cy="363.3" r="4.4" fill="#939393"/><circle cx="1459.67" cy="363.83" r="4.4" fill="#939393"/><circle cx="1461.57" cy="363.53" r="4.4" fill="#939393"/><circle cx="1449.59" cy="365.71" r="4.4" fill="#939393"/><circle cx="1452.05" cy="366.38" r="4.4" fill="#939393"/><circle cx="1454.65" cy="365.31" r="4.4" fill="#939393"/><circle cx="1456.57" cy="365.95" r="4.4" fill="#939393"/><circle cx="1459.18" cy="366.16" r="4.4" fill="#939393"/><circle cx="1461.58" cy="365.39" r="4.4" fill="#939393"/><circle cx="1463.69" cy="366.32" r="4.4" fill="#939393"/><circle cx="1466.23" cy="366.22" r="4.4" fill="#939393"/><circle cx="1469.38" cy="366.05" r="4.4" fill="#939393"/><circle cx="1430.77" cy="367.91" r="4.4" fill="#939393"/><circle cx="1433.28" cy="368.15" r="4.4" fill="#939393"/><circle cx="1435.29" cy="368.12" r="4.4" fill="#939393"/><circle cx="1446.63" cy="367.72" r="4.4" fill="#939393"/><circle cx="1450.14" cy="368.7" r="4.4" fill="#939393"/><circle cx="1452.36" cy="368.67" r="4.4" fill="#939393"/><circle cx="1454.94" cy="367.89" r="4.4" fill="#939393"/><circle cx="1456.9" cy="368.29" r="4.4" fill="#939393"/><circle cx="1459.29" cy="368.83" r="4.4" fill="#939393"/><circle cx="1461.91" cy="368.86" r="4.4" fill="#939393"/><circle cx="1463.54" cy="368.48" r="4.4" fill="#939393"/><circle cx="1466.61" cy="368.59" r="4.4" fill="#939393"/><circle cx="1468.94" cy="368.7" r="4.4" fill="#939393"/><circle cx="1470.96" cy="368.81" r="4.4" fill="#939393"/><circle cx="1473.49" cy="368.42" r="4.4" fill="#939393"/><circle cx="1425.98" cy="370.44" r="4.4" fill="#939393"/><circle cx="1427.89" cy="370.12" r="4.4" fill="#939393"/><circle cx="1430.02" cy="370.75" r="4.4" fill="#939393"/><circle cx="1433.03" cy="370.84" r="4.4" fill="#939393"/><circle cx="1435.04" cy="371.24" r="4.4" fill="#939393"/><circle cx="1437.75" cy="370.29" r="4.4" fill="#939393"/><circle cx="1439.48" cy="371.27" r="4.4" fill="#939393"/><circle cx="1442.99" cy="371.2" r="4.4" fill="#939393"/><circle cx="1444.92" cy="370.47" r="4.4" fill="#939393"/><circle cx="1446.71" cy="370.41" r="4.4" fill="#939393"/><circle cx="1449.27" cy="371.21" r="4.4" fill="#939393"/><circle cx="1452.47" cy="371.03" r="4.4" fill="#939393"/><circle cx="1453.98" cy="370.39" r="4.4" fill="#939393"/><circle cx="1456.56" cy="371.24" r="4.4" fill="#939393"/><circle cx="1458.8" cy="371.05" r="4.4" fill="#939393"/><circle cx="1461.82" cy="370.76" r="4.4" fill="#939393"/><circle cx="1464.55" cy="370.41" r="4.4" fill="#939393"/><circle cx="1466.43" cy="370.29" r="4.4" fill="#939393"/><circle cx="1468.32" cy="370.14" r="4.4" fill="#939393"/><circle cx="1470.98" cy="370.25" r="4.4" fill="#939393"/><circle cx="1425.87" cy="373.16" r="4.4" fill="#939393"/><circle cx="1428" cy="372.69" r="4.4" fill="#939393"/><circle cx="1430.81" cy="373.08" r="4.4" fill="#939393"/><circle cx="1432.28" cy="372.7" r="4.4" fill="#939393"/><circle cx="1435.65" cy="372.81" r="4.4" fill="#939393"/><circle cx="1437.47" cy="373.32" r="4.4" fill="#939393"/><circle cx="1440.43" cy="372.89" r="4.4" fill="#939393"/><circle cx="1442.26" cy="373.01" r="4.4" fill="#939393"/><circle cx="1444.23" cy="373.55" r="4.4" fill="#939393"/><circle cx="1446.62" cy="373.65" r="4.4" fill="#939393"/><circle cx="1449.18" cy="372.69" r="4.4" fill="#939393"/><circle cx="1452.42" cy="373.49" r="4.4" fill="#939393"/><circle cx="1454.08" cy="373.16" r="4.4" fill="#939393"/><circle cx="1456.77" cy="373.36" r="4.4" fill="#939393"/><circle cx="1458.82" cy="373.49" r="4.4" fill="#939393"/><circle cx="1462.2" cy="373.35" r="4.4" fill="#939393"/><circle cx="1464.51" cy="373.62" r="4.4" fill="#939393"/><circle cx="1466.26" cy="373.52" r="4.4" fill="#939393"/><circle cx="1469.2" cy="373.2" r="4.4" fill="#939393"/><circle cx="1422.97" cy="375.97" r="4.4" fill="#939393"/><circle cx="1425.75" cy="375.31" r="4.4" fill="#939393"/><circle cx="1428.4" cy="375.97" r="4.4" fill="#939393"/><circle cx="1430.87" cy="375.96" r="4.4" fill="#939393"/><circle cx="1432.99" cy="375.74" r="4.4" fill="#939393"/><circle cx="1435.33" cy="375.53" r="4.4" fill="#939393"/><circle cx="1438.18" cy="375.32" r="4.4" fill="#939393"/><circle cx="1439.5" cy="375.76" r="4.4" fill="#939393"/><circle cx="1442.4" cy="375.55" r="4.4" fill="#939393"/><circle cx="1444.92" cy="375.2" r="4.4" fill="#939393"/><circle cx="1446.84" cy="374.99" r="4.4" fill="#939393"/><circle cx="1449.94" cy="375.99" r="4.4" fill="#939393"/><circle cx="1452.24" cy="375.04" r="4.4" fill="#939393"/><circle cx="1454.97" cy="375.89" r="4.4" fill="#939393"/><circle cx="1456.81" cy="374.9" r="4.4" fill="#939393"/><circle cx="1459.61" cy="375.65" r="4.4" fill="#939393"/><circle cx="1461.75" cy="374.92" r="4.4" fill="#939393"/><circle cx="1464.28" cy="374.94" r="4.4" fill="#939393"/><circle cx="1466.37" cy="375.07" r="4.4" fill="#939393"/><circle cx="1423.55" cy="378.15" r="4.4" fill="#939393"/><circle cx="1425.52" cy="377.51" r="4.4" fill="#939393"/><circle cx="1427.42" cy="378.36" r="4.4" fill="#939393"/><circle cx="1430.92" cy="377.63" r="4.4" fill="#939393"/><circle cx="1433.11" cy="377.79" r="4.4" fill="#939393"/><circle cx="1435.35" cy="378.31" r="4.4" fill="#939393"/><circle cx="1437.39" cy="378.04" r="4.4" fill="#939393"/><circle cx="1439.71" cy="377.91" r="4.4" fill="#939393"/><circle cx="1441.84" cy="377.62" r="4.4" fill="#939393"/><circle cx="1444.54" cy="378.4" r="4.4" fill="#939393"/><circle cx="1446.76" cy="378.21" r="4.4" fill="#939393"/><circle cx="1449.1" cy="378.48" r="4.4" fill="#939393"/><circle cx="1451.6" cy="377.41" r="4.4" fill="#939393"/><circle cx="1454.05" cy="378.42" r="4.4" fill="#939393"/><circle cx="1457" cy="378.37" r="4.4" fill="#939393"/><circle cx="1459.2" cy="377.44" r="4.4" fill="#939393"/><circle cx="1422.64" cy="380.09" r="4.4" fill="#939393"/><circle cx="1425.39" cy="380.88" r="4.4" fill="#939393"/><circle cx="1428.13" cy="380.14" r="4.4" fill="#939393"/><circle cx="1430.99" cy="379.91" r="4.4" fill="#939393"/><circle cx="1432.46" cy="380.85" r="4.4" fill="#939393"/><circle cx="1435.74" cy="380.52" r="4.4" fill="#939393"/><circle cx="1438.17" cy="379.77" r="4.4" fill="#939393"/><circle cx="1440.48" cy="380.55" r="4.4" fill="#939393"/><circle cx="1442.6" cy="380.71" r="4.4" fill="#939393"/><circle cx="1444.33" cy="379.94" r="4.4" fill="#939393"/><circle cx="1446.77" cy="380.27" r="4.4" fill="#939393"/><circle cx="1449.66" cy="380.35" r="4.4" fill="#939393"/><circle cx="1423.07" cy="382.27" r="4.4" fill="#939393"/><circle cx="1425.45" cy="382.66" r="4.4" fill="#939393"/><circle cx="1427.83" cy="382.64" r="4.4" fill="#939393"/><circle cx="1429.96" cy="382.14" r="4.4" fill="#939393"/><circle cx="1433.14" cy="382.98" r="4.4" fill="#939393"/><circle cx="1435.1" cy="382.24" r="4.4" fill="#939393"/><circle cx="1437.35" cy="382.77" r="4.4" fill="#939393"/><circle cx="1440.47" cy="382.68" r="4.4" fill="#939393"/><circle cx="1442.97" cy="382.73" r="4.4" fill="#939393"/><circle cx="1444.42" cy="382.84" r="4.4" fill="#939393"/><circle cx="1425.06" cy="385.48" r="4.4" fill="#939393"/><circle cx="1428.45" cy="384.6" r="4.4" fill="#939393"/><circle cx="1430.93" cy="385.44" r="4.4" fill="#939393"/><circle cx="1432.93" cy="385.15" r="4.4" fill="#939393"/><circle cx="1434.92" cy="384.57" r="4.4" fill="#939393"/><circle cx="1437.57" cy="385.54" r="4.4" fill="#939393"/><circle cx="1439.65" cy="385.07" r="4.4" fill="#939393"/><circle cx="1442.14" cy="385.33" r="4.4" fill="#939393"/><circle cx="1430.13" cy="387.6" r="4.4" fill="#939393"/><circle cx="1432.34" cy="387.67" r="4.4" fill="#939393"/><circle cx="1434.68" cy="388.05" r="4.4" fill="#939393"/><circle cx="1437.19" cy="387.82" r="4.4" fill="#939393"/><circle cx="1440.05" cy="387.41" r="4.4" fill="#939393"/><circle cx="1442.17" cy="387.33" r="4.4" fill="#939393"/>
<circle cx="1622.74" cy="390.21" r="4.4" fill="#d9d1cb"/><circle cx="1621.31" cy="392.01" r="4.4" fill="#d9d1cb"/><circle cx="1623.15" cy="391.27" r="4.4" fill="#d9d1cb"/><circle cx="1624.48" cy="391.11" r="4.4" fill="#d9d1cb"/><circle cx="1620.97" cy="393.6" r="4.4" fill="#d9d1cb"/><circle cx="1622.54" cy="393.09" r="4.4" fill="#d9d1cb"/><circle cx="1625.11" cy="392.66" r="4.4" fill="#d9d1cb"/><circle cx="1620.47" cy="394.64" r="4.4" fill="#d9d1cb"/><circle cx="1621.49" cy="394.98" r="4.4" fill="#d9d1cb"/><circle cx="1623.07" cy="394.45" r="4.4" fill="#d9d1cb"/><circle cx="1624.58" cy="394.28" r="4.4" fill="#d9d1cb"/><circle cx="1620.23" cy="396.53" r="4.4" fill="#d9d1cb"/><circle cx="1621.7" cy="396.61" r="4.4" fill="#d9d1cb"/><circle cx="1622.94" cy="396.55" r="4.4" fill="#d9d1cb"/><circle cx="1620.08" cy="398.26" r="4.4" fill="#d9d1cb"/>
<rect x="1256.5" y="70.7" width="388.4" height="343.3" fill="none" stroke="#111" stroke-width="2" stroke-linejoin="round"/>
<text x="1249" y="407.5" font-size="14.2" fill="#4d4d4d" text-anchor="end" textLength="22.56" lengthAdjust="spacingAndGlyphs">−10</text>
<text x="1249" y="294.9" font-size="14.2" fill="#4d4d4d" text-anchor="end" textLength="7.39" lengthAdjust="spacingAndGlyphs">0</text>
<text x="1249" y="182.3" font-size="14.2" fill="#4d4d4d" text-anchor="end" textLength="14.79" lengthAdjust="spacingAndGlyphs">10</text>
<path d="M1251.9 402.6H1256.5M1251.9 290H1256.5M1251.9 177.4H1256.5" stroke="#333" stroke-width="2.6" fill="none"/>
<text x="1306.1" y="430.5" font-size="14.2" fill="#4d4d4d" text-anchor="middle" textLength="22.56" lengthAdjust="spacingAndGlyphs">−10</text>
<text x="1371.2" y="430.5" font-size="14.2" fill="#4d4d4d" text-anchor="middle" textLength="15.16" lengthAdjust="spacingAndGlyphs">−5</text>
<text x="1436.3" y="430.5" font-size="14.2" fill="#4d4d4d" text-anchor="middle" textLength="7.39" lengthAdjust="spacingAndGlyphs">0</text>
<text x="1501.4" y="430.5" font-size="14.2" fill="#4d4d4d" text-anchor="middle" textLength="7.39" lengthAdjust="spacingAndGlyphs">5</text>
<text x="1566.5" y="430.5" font-size="14.2" fill="#4d4d4d" text-anchor="middle" textLength="14.79" lengthAdjust="spacingAndGlyphs">10</text>
<text x="1631.6" y="430.5" font-size="14.2" fill="#4d4d4d" text-anchor="middle" textLength="14.79" lengthAdjust="spacingAndGlyphs">15</text>
<path d="M1306.1 414V418.6M1371.2 414V418.6M1436.3 414V418.6M1501.4 414V418.6M1566.5 414V418.6M1631.6 414V418.6" stroke="#333" stroke-width="2.6" fill="none"/>
<text x="1450.5" y="450.6" font-size="16.5" fill="#000" text-anchor="middle">UMAP1</text>
<text transform="translate(1219.5 242.4) rotate(-90)" text-anchor="middle" font-size="16.5" fill="#000">UMAP2</text>
<circle cx="1681.7" cy="157.7" r="4.3" fill="#93c7bd"/>
<text x="1702.7" y="162.7" font-size="14.2" fill="#000" textLength="65.06" lengthAdjust="spacingAndGlyphs">GSE14722</text>
<circle cx="1681.7" cy="183.2" r="4.3" fill="#deb779"/>
<text x="1702.7" y="188.2" font-size="14.2" fill="#000" textLength="65.06" lengthAdjust="spacingAndGlyphs">GSE22526</text>
<circle cx="1681.7" cy="208.7" r="4.3" fill="#de8465"/>
<text x="1702.7" y="213.7" font-size="14.2" fill="#000" textLength="65.06" lengthAdjust="spacingAndGlyphs">GSE25906</text>
<circle cx="1681.7" cy="234.2" r="4.3" fill="#a9959f"/>
<text x="1702.7" y="239.2" font-size="14.2" fill="#000" textLength="65.06" lengthAdjust="spacingAndGlyphs">GSE35574</text>
<circle cx="1681.7" cy="259.7" r="4.3" fill="#94a9d3"/>
<text x="1702.7" y="264.7" font-size="14.2" fill="#000" textLength="65.06" lengthAdjust="spacingAndGlyphs">GSE44711</text>
<circle cx="1681.7" cy="285.2" r="4.3" fill="#c5c0dc"/>
<text x="1702.7" y="290.2" font-size="14.2" fill="#000" textLength="65.06" lengthAdjust="spacingAndGlyphs">GSE66273</text>
<circle cx="1681.7" cy="310.7" r="4.3" fill="#d9d1cb"/>
<text x="1702.7" y="315.7" font-size="14.2" fill="#000" textLength="65.06" lengthAdjust="spacingAndGlyphs">GSE74341</text>
<circle cx="1681.7" cy="336.2" r="4.3" fill="#939393"/>
<text x="1702.7" y="341.2" font-size="14.2" fill="#000" textLength="65.06" lengthAdjust="spacingAndGlyphs">GSE75010</text>
<circle cx="1267.9" cy="593.5" r="4" fill="#deb779"/>
<circle cx="1275.1" cy="594.7" r="4" fill="#de8465"/>
<circle cx="1274.2" cy="598" r="4" fill="#a9959f"/>
<circle cx="1271.2" cy="602" r="4" fill="#a9959f"/>
<circle cx="1281.3" cy="605" r="4" fill="#de8465"/>
<circle cx="1274.2" cy="607.4" r="4" fill="#a9959f"/>
<circle cx="1281.3" cy="610.4" r="4" fill="#a9959f"/>
<circle cx="1269.4" cy="615.3" r="4" fill="#94a9d3"/>
<circle cx="1264.8" cy="615.9" r="4" fill="#d9d1cb"/>
<circle cx="1267" cy="612.6" r="4" fill="#de8465"/>
<circle cx="1306.3" cy="610.1" r="4" fill="#de8465"/>
<circle cx="1306.9" cy="614.9" r="4" fill="#a9959f"/>
<circle cx="1314.5" cy="614.4" r="4" fill="#c5c0dc"/>
<circle cx="1288.2" cy="622.5" r="4" fill="#a9959f"/>
<circle cx="1282.7" cy="631" r="4" fill="#d9d1cb"/>
<circle cx="1297.2" cy="634" r="4" fill="#c5c0dc"/>
<circle cx="1295.1" cy="631.4" r="4" fill="#de8465"/>
<circle cx="1294.5" cy="639.9" r="4" fill="#a9959f"/>
<circle cx="1304" cy="638.7" r="4" fill="#939393"/>
<circle cx="1314.5" cy="642.5" r="4" fill="#a9959f"/>
<circle cx="1316.6" cy="655.9" r="4" fill="#939393"/>
<circle cx="1322.7" cy="657.1" r="4" fill="#c5c0dc"/>
<circle cx="1315.2" cy="652.8" r="4" fill="#de8465"/>
<circle cx="1322.1" cy="661.6" r="4" fill="#de8465"/>
<circle cx="1320" cy="675" r="4" fill="#a9959f"/>
<circle cx="1337.8" cy="604.4" r="4" fill="#939393"/>
<circle cx="1349" cy="602" r="4" fill="#de8465"/>
<circle cx="1347.5" cy="599.9" r="4" fill="#a9959f"/>
<circle cx="1355.8" cy="604.4" r="4" fill="#939393"/>
<circle cx="1359.4" cy="594.3" r="4" fill="#c5c0dc"/>
<circle cx="1367.8" cy="597.3" r="4" fill="#d9d1cb"/>
<circle cx="1375.4" cy="601.6" r="4" fill="#d9d1cb"/>
<circle cx="1370.8" cy="614.7" r="4" fill="#de8465"/>
<circle cx="1375.4" cy="624.4" r="4" fill="#a9959f"/>
<circle cx="1354.2" cy="629.8" r="4" fill="#939393"/>
<circle cx="1356.6" cy="634.7" r="4" fill="#939393"/>
<circle cx="1361.5" cy="635.5" r="4" fill="#939393"/>
<circle cx="1367.8" cy="650.8" r="4" fill="#de8465"/>
<circle cx="1372.6" cy="656.7" r="4" fill="#939393"/>
<circle cx="1350.2" cy="663.7" r="4" fill="#93c7bd"/>
<circle cx="1351.2" cy="668" r="4" fill="#94a9d3"/>
<circle cx="1350" cy="671.6" r="4" fill="#94a9d3"/>
<circle cx="1364.9" cy="666.5" r="4" fill="#deb779"/>
<circle cx="1377.5" cy="637.4" r="4" fill="#c5c0dc"/>
<circle cx="1382.1" cy="616.5" r="4" fill="#deb779"/>
<circle cx="1381.8" cy="651.3" r="4" fill="#deb779"/>
<circle cx="1397.3" cy="576.9" r="4" fill="#de8465"/>
<circle cx="1384.3" cy="591.7" r="4" fill="#a9959f"/>
<circle cx="1396.9" cy="590.1" r="4" fill="#939393"/>
<circle cx="1403.9" cy="591.4" r="4" fill="#d9d1cb"/>
<circle cx="1411.2" cy="595.9" r="4" fill="#d9d1cb"/>
<circle cx="1396.9" cy="603.8" r="4" fill="#de8465"/>
<circle cx="1401.7" cy="602" r="4" fill="#a9959f"/>
<circle cx="1426.3" cy="585.6" r="4" fill="#d9d1cb"/>
<circle cx="1421.5" cy="589.8" r="4" fill="#deb779"/>
<circle cx="1431.2" cy="583.8" r="4" fill="#939393"/>
<circle cx="1436.6" cy="583.2" r="4" fill="#939393"/>
<circle cx="1448.5" cy="578.9" r="4" fill="#939393"/>
<circle cx="1448.5" cy="591.7" r="4" fill="#939393"/>
<circle cx="1449" cy="589.2" r="4" fill="#deb779"/>
<circle cx="1428.2" cy="598.7" r="4" fill="#939393"/>
<circle cx="1420.3" cy="603.2" r="4" fill="#939393"/>
<circle cx="1425.1" cy="603.5" r="4" fill="#939393"/>
<circle cx="1427.5" cy="607.4" r="4" fill="#939393"/>
<circle cx="1456.6" cy="603.2" r="4" fill="#939393"/>
<circle cx="1458.7" cy="606.2" r="4" fill="#939393"/>
<circle cx="1463.5" cy="614.7" r="4" fill="#939393"/>
<circle cx="1467.2" cy="622.9" r="4" fill="#939393"/>
<circle cx="1445.7" cy="618.1" r="4" fill="#93c7bd"/>
<circle cx="1490.5" cy="592.9" r="4" fill="#d9d1cb"/>
<circle cx="1497.2" cy="597.7" r="4" fill="#94a9d3"/>
<circle cx="1492.4" cy="620.1" r="4" fill="#939393"/>
<circle cx="1478.1" cy="632.5" r="4" fill="#939393"/>
<circle cx="1393" cy="629.6" r="4" fill="#939393"/>
<circle cx="1399.3" cy="635.3" r="4" fill="#939393"/>
<circle cx="1396.7" cy="645" r="4" fill="#939393"/>
<circle cx="1398.1" cy="652" r="4" fill="#939393"/>
<circle cx="1391.8" cy="659.5" r="4" fill="#939393"/>
<circle cx="1410.6" cy="648.6" r="4" fill="#939393"/>
<circle cx="1418.5" cy="652.2" r="4" fill="#939393"/>
<circle cx="1422.1" cy="657.1" r="4" fill="#939393"/>
<circle cx="1426.9" cy="660.7" r="4" fill="#939393"/>
<circle cx="1435.4" cy="664.1" r="4" fill="#939393"/>
<circle cx="1409" cy="663.4" r="4" fill="#939393"/>
<circle cx="1445.1" cy="657.1" r="4" fill="#939393"/>
<circle cx="1458.4" cy="660.7" r="4" fill="#939393"/>
<circle cx="1457.8" cy="665" r="4" fill="#939393"/>
<circle cx="1486.9" cy="652.2" r="4" fill="#939393"/>
<circle cx="1472.7" cy="667.7" r="4" fill="#939393"/>
<circle cx="1449" cy="671" r="4" fill="#939393"/>
<circle cx="1388.2" cy="668.6" r="4" fill="#93c7bd"/>
<circle cx="1377.9" cy="671.6" r="4" fill="#93c7bd"/>
<circle cx="1423.9" cy="669.8" r="4" fill="#93c7bd"/>
<circle cx="1498.4" cy="671.4" r="4" fill="#a9959f"/>
<circle cx="1505.1" cy="603.5" r="4" fill="#d9d1cb"/>
<circle cx="1513.3" cy="613.7" r="4" fill="#93c7bd"/>
<circle cx="1511.2" cy="620.7" r="4" fill="#939393"/>
<circle cx="1525.9" cy="612.5" r="4" fill="#de8465"/>
<circle cx="1530.6" cy="610.1" r="4" fill="#a9959f"/>
<circle cx="1537.9" cy="605.4" r="4" fill="#de8465"/>
<circle cx="1541.5" cy="599.5" r="4" fill="#a9959f"/>
<circle cx="1525.9" cy="620.1" r="4" fill="#939393"/>
<circle cx="1528.8" cy="624.4" r="4" fill="#94a9d3"/>
<circle cx="1521.7" cy="626.6" r="4" fill="#deb779"/>
<circle cx="1531" cy="631.4" r="4" fill="#deb779"/>
<circle cx="1531.4" cy="638.9" r="4" fill="#deb779"/>
<circle cx="1513.6" cy="640.7" r="4" fill="#93c7bd"/>
<circle cx="1517.3" cy="646.4" r="4" fill="#939393"/>
<circle cx="1540.3" cy="642.6" r="4" fill="#94a9d3"/>
<circle cx="1545.7" cy="642.6" r="4" fill="#c5c0dc"/>
<circle cx="1537.3" cy="647.8" r="4" fill="#c5c0dc"/>
<circle cx="1551.6" cy="649.6" r="4" fill="#c5c0dc"/>
<circle cx="1558.8" cy="657.3" r="4" fill="#93c7bd"/>
<circle cx="1568.2" cy="656.9" r="4" fill="#c5c0dc"/>
<circle cx="1560.9" cy="665.3" r="4" fill="#de8465"/>
<circle cx="1559.1" cy="662.9" r="4" fill="#a9959f"/>
<circle cx="1530.6" cy="666.8" r="4" fill="#94a9d3"/>
<circle cx="1539.1" cy="668" r="4" fill="#c5c0dc"/>
<circle cx="1504.5" cy="674.4" r="4" fill="#de8465"/>
<circle cx="1333.1" cy="678.9" r="4" fill="#de8465"/>
<circle cx="1328.4" cy="686.4" r="4" fill="#de8465"/>
<circle cx="1329.4" cy="683.3" r="4" fill="#a9959f"/>
<circle cx="1326.9" cy="693.4" r="4" fill="#a9959f"/>
<circle cx="1343.6" cy="686.4" r="4" fill="#c5c0dc"/>
<circle cx="1375.8" cy="676.3" r="4" fill="#93c7bd"/>
<circle cx="1356" cy="709.8" r="4" fill="#deb779"/>
<circle cx="1367.9" cy="711.5" r="4" fill="#de8465"/>
<circle cx="1373.3" cy="714.5" r="4" fill="#a9959f"/>
<circle cx="1353.1" cy="724.4" r="4" fill="#de8465"/>
<circle cx="1357.5" cy="729.4" r="4" fill="#de8465"/>
<circle cx="1350.3" cy="729.4" r="4" fill="#a9959f"/>
<circle cx="1360.6" cy="733.6" r="4" fill="#a9959f"/>
<circle cx="1370.1" cy="746.5" r="4" fill="#de8465"/>
<circle cx="1368.9" cy="749.4" r="4" fill="#a9959f"/>
<circle cx="1371.4" cy="750.9" r="4" fill="#a9959f"/>
<circle cx="1380.1" cy="677.6" r="4" fill="#939393"/>
<circle cx="1387.7" cy="675.7" r="4" fill="#93c7bd"/>
<circle cx="1395.3" cy="679.5" r="4" fill="#939393"/>
<circle cx="1389.6" cy="687.1" r="4" fill="#939393"/>
<circle cx="1393.4" cy="687.7" r="4" fill="#939393"/>
<circle cx="1399.3" cy="683.3" r="4" fill="#a9959f"/>
<circle cx="1405.4" cy="680.7" r="4" fill="#939393"/>
<circle cx="1408.9" cy="686.4" r="4" fill="#939393"/>
<circle cx="1409.8" cy="677" r="4" fill="#94a9d3"/>
<circle cx="1429.4" cy="680.7" r="4" fill="#939393"/>
<circle cx="1462.9" cy="677.6" r="4" fill="#939393"/>
<circle cx="1473.7" cy="678.9" r="4" fill="#939393"/>
<circle cx="1478.8" cy="684.5" r="4" fill="#939393"/>
<circle cx="1478.1" cy="689.6" r="4" fill="#939393"/>
<circle cx="1485.1" cy="692.1" r="4" fill="#93c7bd"/>
<circle cx="1411.1" cy="695.3" r="4" fill="#d9d1cb"/>
<circle cx="1418" cy="691.5" r="4" fill="#93c7bd"/>
<circle cx="1415.5" cy="694.7" r="4" fill="#93c7bd"/>
<circle cx="1430.1" cy="693.4" r="4" fill="#939393"/>
<circle cx="1396.9" cy="701.6" r="4" fill="#939393"/>
<circle cx="1396.6" cy="706" r="4" fill="#939393"/>
<circle cx="1403.5" cy="711.7" r="4" fill="#939393"/>
<circle cx="1384.2" cy="711.7" r="4" fill="#94a9d3"/>
<circle cx="1381" cy="719" r="4" fill="#de8465"/>
<circle cx="1383" cy="723.7" r="4" fill="#a9959f"/>
<circle cx="1393.4" cy="721.2" r="4" fill="#939393"/>
<circle cx="1426.9" cy="712.4" r="4" fill="#939393"/>
<circle cx="1421.2" cy="723.7" r="4" fill="#939393"/>
<circle cx="1420.2" cy="718.7" r="4" fill="#93c7bd"/>
<circle cx="1413" cy="728.2" r="4" fill="#939393"/>
<circle cx="1417.4" cy="732" r="4" fill="#939393"/>
<circle cx="1407.1" cy="737.9" r="4" fill="#94a9d3"/>
<circle cx="1440.6" cy="701.4" r="4" fill="#939393"/>
<circle cx="1450.9" cy="700.3" r="4" fill="#93c7bd"/>
<circle cx="1454.1" cy="702.2" r="4" fill="#93c7bd"/>
<circle cx="1461" cy="707.9" r="4" fill="#d9d1cb"/>
<circle cx="1458.5" cy="716.5" r="4" fill="#d9d1cb"/>
<circle cx="1451.2" cy="716.2" r="4" fill="#939393"/>
<circle cx="1454.1" cy="710.5" r="4" fill="#deb779"/>
<circle cx="1462.1" cy="718.7" r="4" fill="#939393"/>
<circle cx="1439.8" cy="713.9" r="4" fill="#c5c0dc"/>
<circle cx="1468.6" cy="701.6" r="4" fill="#939393"/>
<circle cx="1471.8" cy="704.8" r="4" fill="#939393"/>
<circle cx="1475.6" cy="709.5" r="4" fill="#d9d1cb"/>
<circle cx="1493.9" cy="698.5" r="4" fill="#de8465"/>
<circle cx="1490.8" cy="705.2" r="4" fill="#deb779"/>
<circle cx="1492" cy="722.5" r="4" fill="#939393"/>
<circle cx="1435.8" cy="726.9" r="4" fill="#deb779"/>
<circle cx="1438.3" cy="738.9" r="4" fill="#939393"/>
<circle cx="1431" cy="746.9" r="4" fill="#939393"/>
<circle cx="1465.9" cy="732" r="4" fill="#de8465"/>
<circle cx="1469.6" cy="735.1" r="4" fill="#a9959f"/>
<circle cx="1455.4" cy="741.4" r="4" fill="#de8465"/>
<circle cx="1448" cy="744" r="4" fill="#de8465"/>
<circle cx="1487.6" cy="744" r="4" fill="#d9d1cb"/>
<circle cx="1491.6" cy="744.6" r="4" fill="#939393"/>
<circle cx="1430.7" cy="758.5" r="4" fill="#939393"/>
<circle cx="1435.8" cy="756" r="4" fill="#939393"/>
<circle cx="1440.2" cy="758.5" r="4" fill="#939393"/>
<circle cx="1434.5" cy="765.5" r="4" fill="#939393"/>
<circle cx="1452.8" cy="761.7" r="4" fill="#939393"/>
<circle cx="1452.8" cy="768.6" r="4" fill="#939393"/>
<circle cx="1449.7" cy="770.5" r="4" fill="#939393"/>
<circle cx="1465.1" cy="758.5" r="4" fill="#d9d1cb"/>
<circle cx="1473.7" cy="764.2" r="4" fill="#de8465"/>
<circle cx="1469.9" cy="765.5" r="4" fill="#de8465"/>
<circle cx="1470.5" cy="770.5" r="4" fill="#a9959f"/>
<circle cx="1475.6" cy="775.6" r="4" fill="#a9959f"/>
<circle cx="1485.3" cy="765.5" r="4" fill="#939393"/>
<circle cx="1487" cy="773.7" r="4" fill="#939393"/>
<circle cx="1393" cy="763.6" r="4" fill="#a9959f"/>
<circle cx="1398.8" cy="770.8" r="4" fill="#de8465"/>
<circle cx="1409.2" cy="775" r="4" fill="#939393"/>
<circle cx="1406" cy="778.8" r="4" fill="#939393"/>
<circle cx="1421.8" cy="770.2" r="4" fill="#939393"/>
<circle cx="1454.7" cy="775.6" r="4" fill="#93c7bd"/>
<circle cx="1441.4" cy="775" r="4" fill="#939393"/>
<circle cx="1440.2" cy="779.4" r="4" fill="#939393"/>
<circle cx="1447.1" cy="784" r="4" fill="#939393"/>
<circle cx="1529.8" cy="677.8" r="4" fill="#939393"/>
<circle cx="1505.8" cy="687.1" r="4" fill="#939393"/>
<circle cx="1522.6" cy="691.5" r="4" fill="#939393"/>
<circle cx="1500.1" cy="697.6" r="4" fill="#939393"/>
<circle cx="1524.4" cy="701.4" r="4" fill="#de8465"/>
<circle cx="1535.5" cy="708.6" r="4" fill="#93c7bd"/>
<circle cx="1550" cy="704.8" r="4" fill="#939393"/>
<circle cx="1510.9" cy="715.5" r="4" fill="#939393"/>
<circle cx="1496.1" cy="732" r="4" fill="#939393"/>
<circle cx="1509.6" cy="727.1" r="4" fill="#a9959f"/>
<circle cx="1530.2" cy="719.3" r="4" fill="#de8465"/>
<circle cx="1528.6" cy="714.5" r="4" fill="#a9959f"/>
<circle cx="1534.2" cy="720.3" r="4" fill="#a9959f"/>
<circle cx="1541.2" cy="725.4" r="4" fill="#de8465"/>
<circle cx="1535.3" cy="728.5" r="4" fill="#a9959f"/>
<circle cx="1540.3" cy="733.8" r="4" fill="#de8465"/>
<circle cx="1550.7" cy="718.3" r="4" fill="#a9959f"/>
<circle cx="1550" cy="727.1" r="4" fill="#939393"/>
<circle cx="1567.7" cy="718.4" r="4" fill="#de8465"/>
<circle cx="1595.2" cy="708.9" r="4" fill="#deb779"/>
<circle cx="1583.3" cy="720.8" r="4" fill="#939393"/>
<circle cx="1591.1" cy="728.8" r="4" fill="#c5c0dc"/>
<circle cx="1587.3" cy="725.6" r="4" fill="#a9959f"/>
<circle cx="1606.3" cy="721.6" r="4" fill="#94a9d3"/>
<circle cx="1606.9" cy="726.9" r="4" fill="#94a9d3"/>
<circle cx="1603.1" cy="728.2" r="4" fill="#c5c0dc"/>
<circle cx="1617.7" cy="723.7" r="4" fill="#d9d1cb"/>
<circle cx="1594.7" cy="733" r="4" fill="#de8465"/>
<circle cx="1598.7" cy="737.6" r="4" fill="#de8465"/>
<circle cx="1602.3" cy="734.2" r="4" fill="#a9959f"/>
<circle cx="1598.7" cy="742.7" r="4" fill="#a9959f"/>
<circle cx="1607.6" cy="742.7" r="4" fill="#d9d1cb"/>
<circle cx="1600.6" cy="749.4" r="4" fill="#de8465"/>
<circle cx="1599.4" cy="755.7" r="4" fill="#a9959f"/>
<circle cx="1591.1" cy="754.5" r="4" fill="#de8465"/>
<circle cx="1574.1" cy="754.5" r="4" fill="#a9959f"/>
<circle cx="1621.5" cy="745.9" r="4" fill="#d9d1cb"/>
<circle cx="1622.1" cy="731.7" r="4" fill="#de8465"/>
<circle cx="1616.4" cy="733.2" r="4" fill="#a9959f"/>
<circle cx="1619.6" cy="738.3" r="4" fill="#a9959f"/>
<circle cx="1624" cy="739.5" r="4" fill="#a9959f"/>
<circle cx="1623.4" cy="745.6" r="4" fill="#de8465"/>
<circle cx="1627.5" cy="750.7" r="4" fill="#a9959f"/>
<circle cx="1625.3" cy="757.9" r="4" fill="#de8465"/>
<circle cx="1615.2" cy="760" r="4" fill="#de8465"/>
<circle cx="1609.5" cy="764.8" r="4" fill="#de8465"/>
<circle cx="1613.6" cy="763.6" r="4" fill="#a9959f"/>
<circle cx="1614.1" cy="767.6" r="4" fill="#a9959f"/>
<circle cx="1590.1" cy="764.2" r="4" fill="#deb779"/>
<circle cx="1591.4" cy="769.9" r="4" fill="#de8465"/>
<circle cx="1590.8" cy="774.3" r="4" fill="#a9959f"/>
<circle cx="1576" cy="739.3" r="4" fill="#939393"/>
<circle cx="1560.8" cy="743.3" r="4" fill="#de8465"/>
<circle cx="1557.6" cy="740.2" r="4" fill="#a9959f"/>
<circle cx="1548.8" cy="743.3" r="4" fill="#de8465"/>
<circle cx="1519.1" cy="738.6" r="4" fill="#939393"/>
<circle cx="1516.5" cy="747.1" r="4" fill="#939393"/>
<circle cx="1517.2" cy="745.6" r="4" fill="#93c7bd"/>
<circle cx="1497" cy="756" r="4" fill="#939393"/>
<circle cx="1500.7" cy="754.5" r="4" fill="#939393"/>
<circle cx="1514" cy="756" r="4" fill="#939393"/>
<circle cx="1509.2" cy="760.4" r="4" fill="#a9959f"/>
<circle cx="1524.1" cy="761.7" r="4" fill="#939393"/>
<circle cx="1517.2" cy="768" r="4" fill="#939393"/>
<circle cx="1533.6" cy="766.1" r="4" fill="#939393"/>
<circle cx="1531.1" cy="768.4" r="4" fill="#939393"/>
<circle cx="1540.8" cy="756" r="4" fill="#de8465"/>
<circle cx="1557" cy="755.7" r="4" fill="#939393"/>
<circle cx="1547.1" cy="764.2" r="4" fill="#de8465"/>
<circle cx="1559.5" cy="770.5" r="4" fill="#d9d1cb"/>
<circle cx="1567.7" cy="768.6" r="4" fill="#d9d1cb"/>
<circle cx="1547.1" cy="779" r="4" fill="#939393"/>
<circle cx="1541.2" cy="775.2" r="4" fill="#de8465"/>
<circle cx="1551.3" cy="774.7" r="4" fill="#a9959f"/>
<circle cx="1565.9" cy="779.4" r="4" fill="#a9959f"/>
<circle cx="1497" cy="776.8" r="4" fill="#939393"/>
<circle cx="1512.8" cy="774.9" r="4" fill="#939393"/>
<circle cx="1519.1" cy="776.8" r="4" fill="#939393"/>
<circle cx="1515.9" cy="778.7" r="4" fill="#939393"/>
<circle cx="1454.3" cy="785.9" r="4" fill="#939393"/>
<circle cx="1453" cy="794.5" r="4" fill="#939393"/>
<circle cx="1439.8" cy="789.5" r="4" fill="#939393"/>
<circle cx="1435.9" cy="788.6" r="4" fill="#de8465"/>
<circle cx="1428" cy="792.5" r="4" fill="#93c7bd"/>
<circle cx="1421.1" cy="794.2" r="4" fill="#939393"/>
<circle cx="1443.1" cy="802.4" r="4" fill="#93c7bd"/>
<circle cx="1446.8" cy="811.6" r="4" fill="#93c7bd"/>
<circle cx="1412.8" cy="814" r="4" fill="#939393"/>
<circle cx="1407.5" cy="819.3" r="4" fill="#939393"/>
<circle cx="1412.8" cy="822.2" r="4" fill="#939393"/>
<circle cx="1419.4" cy="822.8" r="4" fill="#939393"/>
<circle cx="1429.3" cy="824.8" r="4" fill="#939393"/>
<circle cx="1431.2" cy="834" r="4" fill="#939393"/>
<circle cx="1434.5" cy="834.3" r="4" fill="#939393"/>
<circle cx="1454.3" cy="855.7" r="4" fill="#a9959f"/>
<circle cx="1456.7" cy="870.2" r="4" fill="#d9d1cb"/>
<circle cx="1461.1" cy="866.7" r="4" fill="#939393"/>
<circle cx="1456.3" cy="862.3" r="4" fill="#de8465"/>
<circle cx="1475.1" cy="833" r="4" fill="#939393"/>
<circle cx="1487.2" cy="845.2" r="4" fill="#c5c0dc"/>
<circle cx="1481.7" cy="850.7" r="4" fill="#939393"/>
<circle cx="1488.8" cy="858" r="4" fill="#939393"/>
<circle cx="1480.4" cy="868.9" r="4" fill="#939393"/>
<circle cx="1489.2" cy="877.5" r="4" fill="#939393"/>
<circle cx="1487.9" cy="882.1" r="4" fill="#939393"/>
<circle cx="1479.3" cy="882.1" r="4" fill="#939393"/>
<circle cx="1483.3" cy="884.1" r="4" fill="#939393"/>
<circle cx="1476.7" cy="890.6" r="4" fill="#939393"/>
<circle cx="1483.5" cy="891.7" r="4" fill="#939393"/>
<circle cx="1484.6" cy="793.2" r="4" fill="#939393"/>
<circle cx="1487.2" cy="791.2" r="4" fill="#939393"/>
<circle cx="1488.5" cy="798.4" r="4" fill="#939393"/>
<circle cx="1480" cy="808.3" r="4" fill="#939393"/>
<circle cx="1484.6" cy="806.3" r="4" fill="#939393"/>
<circle cx="1497.2" cy="787.2" r="4" fill="#939393"/>
<circle cx="1502.1" cy="786.6" r="4" fill="#c5c0dc"/>
<circle cx="1521.6" cy="785.5" r="4" fill="#de8465"/>
<circle cx="1512.6" cy="789.2" r="4" fill="#939393"/>
<circle cx="1511.3" cy="793.8" r="4" fill="#939393"/>
<circle cx="1512.4" cy="803.7" r="4" fill="#93c7bd"/>
<circle cx="1510.4" cy="800.4" r="4" fill="#a9959f"/>
<circle cx="1538.7" cy="791.9" r="4" fill="#de8465"/>
<circle cx="1530.8" cy="800.1" r="4" fill="#a9959f"/>
<circle cx="1542.4" cy="802.4" r="4" fill="#de8465"/>
<circle cx="1547.5" cy="798" r="4" fill="#a9959f"/>
<circle cx="1561.8" cy="785.3" r="4" fill="#a9959f"/>
<circle cx="1561.8" cy="793.2" r="4" fill="#de8465"/>
<circle cx="1560.5" cy="790.3" r="4" fill="#a9959f"/>
<circle cx="1531.5" cy="812.7" r="4" fill="#939393"/>
<circle cx="1543.3" cy="815.6" r="4" fill="#939393"/>
<circle cx="1552.9" cy="816.2" r="4" fill="#d9d1cb"/>
<circle cx="1505.1" cy="816.9" r="4" fill="#de8465"/>
<circle cx="1518" cy="818.8" r="4" fill="#94a9d3"/>
<circle cx="1518" cy="822.1" r="4" fill="#94a9d3"/>
<circle cx="1505.8" cy="827.4" r="4" fill="#de8465"/>
<circle cx="1502.1" cy="823.2" r="4" fill="#a9959f"/>
<circle cx="1498.2" cy="830.7" r="4" fill="#939393"/>
<circle cx="1508.7" cy="832" r="4" fill="#939393"/>
<circle cx="1507.1" cy="830.7" r="4" fill="#a9959f"/>
<circle cx="1503.2" cy="841.6" r="4" fill="#d9d1cb"/>
<rect x="1247.5" y="561.3" width="398.4" height="346.2" fill="none" stroke="#111" stroke-width="2" stroke-linejoin="round"/>
<text x="1240" y="908.68" font-size="14.2" fill="#4d4d4d" text-anchor="end" textLength="15.16" lengthAdjust="spacingAndGlyphs">−3</text>
<text x="1240" y="845.22" font-size="14.2" fill="#4d4d4d" text-anchor="end" textLength="15.16" lengthAdjust="spacingAndGlyphs">−2</text>
<text x="1240" y="781.76" font-size="14.2" fill="#4d4d4d" text-anchor="end" textLength="15.16" lengthAdjust="spacingAndGlyphs">−1</text>
<text x="1240" y="718.3" font-size="14.2" fill="#4d4d4d" text-anchor="end" textLength="7.39" lengthAdjust="spacingAndGlyphs">0</text>
<text x="1240" y="654.84" font-size="14.2" fill="#4d4d4d" text-anchor="end" textLength="7.39" lengthAdjust="spacingAndGlyphs">1</text>
<text x="1240" y="591.38" font-size="14.2" fill="#4d4d4d" text-anchor="end" textLength="7.39" lengthAdjust="spacingAndGlyphs">2</text>
<path d="M1242.9 903.78H1247.5M1242.9 840.32H1247.5M1242.9 776.86H1247.5M1242.9 713.4H1247.5M1242.9 649.94H1247.5M1242.9 586.48H1247.5" stroke="#333" stroke-width="2.6" fill="none"/>
<text x="1350.95" y="924" font-size="14.2" fill="#4d4d4d" text-anchor="middle" textLength="26.25" lengthAdjust="spacingAndGlyphs">−2.5</text>
<text x="1460.1" y="924" font-size="14.2" fill="#4d4d4d" text-anchor="middle" textLength="18.49" lengthAdjust="spacingAndGlyphs">0.0</text>
<text x="1569.25" y="924" font-size="14.2" fill="#4d4d4d" text-anchor="middle" textLength="18.49" lengthAdjust="spacingAndGlyphs">2.5</text>
<path d="M1350.95 907.5V912.1M1460.1 907.5V912.1M1569.25 907.5V912.1" stroke="#333" stroke-width="2.6" fill="none"/>
<text x="1446.3" y="943" font-size="16.5" fill="#000" text-anchor="middle">UMAP1</text>
<text transform="translate(1216.8 734.4) rotate(-90)" text-anchor="middle" font-size="16.5" fill="#000">UMAP2</text>
<circle cx="1683" cy="648.5" r="4.3" fill="#93c7bd"/>
<text x="1703" y="653.5" font-size="14.2" fill="#000" textLength="65.06" lengthAdjust="spacingAndGlyphs">GSE14722</text>
<circle cx="1683" cy="674.24" r="4.3" fill="#deb779"/>
<text x="1703" y="679.24" font-size="14.2" fill="#000" textLength="65.06" lengthAdjust="spacingAndGlyphs">GSE22526</text>
<circle cx="1683" cy="699.98" r="4.3" fill="#de8465"/>
<text x="1703" y="704.98" font-size="14.2" fill="#000" textLength="65.06" lengthAdjust="spacingAndGlyphs">GSE25906</text>
<circle cx="1683" cy="725.72" r="4.3" fill="#a9959f"/>
<text x="1703" y="730.72" font-size="14.2" fill="#000" textLength="65.06" lengthAdjust="spacingAndGlyphs">GSE35574</text>
<circle cx="1683" cy="751.46" r="4.3" fill="#94a9d3"/>
<text x="1703" y="756.46" font-size="14.2" fill="#000" textLength="65.06" lengthAdjust="spacingAndGlyphs">GSE44711</text>
<circle cx="1683" cy="777.2" r="4.3" fill="#c5c0dc"/>
<text x="1703" y="782.2" font-size="14.2" fill="#000" textLength="65.06" lengthAdjust="spacingAndGlyphs">GSE66273</text>
<circle cx="1683" cy="802.94" r="4.3" fill="#d9d1cb"/>
<text x="1703" y="807.94" font-size="14.2" fill="#000" textLength="65.06" lengthAdjust="spacingAndGlyphs">GSE74341</text>
<circle cx="1683" cy="828.68" r="4.3" fill="#939393"/>
<text x="1703" y="833.68" font-size="14.2" fill="#000" textLength="65.06" lengthAdjust="spacingAndGlyphs">GSE75010</text>
<path d="M701.43 240.6V118.4H990.96V200.5M890.01 268.7V200.5H1091.91V240.6M1063.85 276V240.6H1119.97V251.4M1117.45 287.5V251.4H1122.49V287.5M1120.21 332.21V287.5H1124.78V293.63M1122.04 359.8V293.63H1127.52V296.56M1123.26 359.8V296.56H1131.77V298.64M1128.96 305.92V298.64H1134.58V312.45M1133.66 321.07V312.45H1135.5V359.8M1133.05 359.8V321.07H1134.28V359.8M1126.09 308.26V305.92H1131.83V359.8M1124.49 359.8V308.26H1127.7V310.94M1126.32 323.8V310.94H1129.08V325.05M1128.16 359.8V325.05H1129.99V329.71M1129.38 359.8V329.71H1130.61V359.8M1125.71 359.8V323.8H1126.93V359.8M1119.59 359.8V332.21H1120.82V359.8M1116.53 295.27V287.5H1118.37V359.8M1115.92 359.8V295.27H1117.15V359.8M1033.45 327V276H1094.24V280.1M1075.77 312.3V280.1H1112.71V297.8M1111.33 347.2V297.8H1114.09V346M1113.48 359.8V346H1114.7V359.8M1110.42 347.79V347.2H1112.25V359.8M1109.8 359.8V347.79H1111.03V359.8M1063.25 328.5V312.3H1088.3V320.7M1079.35 330.32V320.7H1097.24V332.18M1093.9 359.8V332.18H1100.59V332.91M1097.11 334.17V332.91H1104.07V333.87M1102.16 337.83V333.87H1105.98V336.43M1104.91 359.8V336.43H1107.05V342.31M1106.13 359.8V342.31H1107.97V347.59M1107.36 359.8V347.59H1108.58V359.8M1101.24 359.8V337.83H1103.08V340.3M1102.46 359.8V340.3H1103.69V359.8M1095.73 344.04V334.17H1098.49V340.51M1097.57 359.8V340.51H1099.4V344.38M1098.79 359.8V344.38H1100.02V359.8M1095.12 359.8V344.04H1096.35V359.8M1076.62 339.91V330.32H1082.08V331.42M1080.44 359.8V331.42H1083.72V332.05M1081.66 359.8V332.05H1085.77V334.17M1083.8 339.24V334.17H1087.74V335.72M1086.56 359.8V335.72H1088.93V336.36M1087.78 359.8V336.36H1090.07V339.59M1089 359.8V339.59H1091.15V340.12M1090.23 359.8V340.12H1092.06V343.68M1091.45 359.8V343.68H1092.67V359.8M1082.89 359.8V339.24H1084.72V346.23M1084.11 359.8V346.23H1085.33V359.8M1075.54 359.8V339.91H1077.69V340.86M1076.77 359.8V340.86H1078.6V341.5M1077.99 359.8V341.5H1079.22V359.8M1057.38 334.34V328.5H1069.12V333.32M1064.52 334.26V333.32H1073.71V343.86M1073.1 359.8V343.86H1074.32V359.8M1063.31 359.8V334.26H1065.74V335.27M1064.53 359.8V335.27H1066.94V338.49M1065.76 359.8V338.49H1068.13V339.12M1066.98 359.8V339.12H1069.27V340.08M1068.2 359.8V340.08H1070.34V340.77M1069.43 359.8V340.77H1071.26V341.66M1070.65 359.8V341.66H1071.87V359.8M1054.59 338.72V334.34H1060.17V338.51M1058.26 339.71V338.51H1062.09V359.8M1057.19 359.8V339.71H1059.33V341.52M1058.41 359.8V341.52H1060.25V342.17M1059.64 359.8V342.17H1060.86V359.8M1053.21 339.75V338.72H1055.97V359.8M1052.3 359.8V339.75H1054.13V346.19M1053.52 359.8V346.19H1054.74V359.8M1026.83 335.9V327H1040.07V331.8M1034.17 338.93V331.8H1045.97V337.5M1042.43 339.82V337.5H1049.51V338.56M1047.94 339.43V338.56H1051.07V359.8M1046.03 340.62V339.43H1049.85V359.8M1044.96 359.8V340.62H1047.1V342.72M1046.18 359.8V342.72H1048.01V344.47M1047.4 359.8V344.47H1048.63V359.8M1041.13 340.37V339.82H1043.73V359.8M1039.76 341.49V340.37H1042.51V359.8M1038.84 359.8V341.49H1040.67V346.34M1040.06 359.8V346.34H1041.28V359.8M1031.8 342.82V338.93H1036.54V340.05M1035.47 340.86V340.05H1037.61V359.8M1034.55 347.2V340.86H1036.39V359.8M1033.94 359.8V347.2H1035.17V359.8M1030.88 343.38V342.82H1032.72V359.8M1030.27 359.8V343.38H1031.5V359.8M1025.23 339.35V335.9H1028.44V340.4M1027.83 359.8V340.4H1029.05V359.8M1023.85 342.08V339.35H1026.6V359.8M1022.93 359.8V342.08H1024.77V343.32M1024.15 359.8V343.32H1025.38V359.8M825.46 324.4V268.7H954.57V289.5M932.15 321.2V289.5H976.99V318.4M954.52 329.4V318.4H999.46V327.6M991.94 338.6V327.6H1006.98V332.4M999.15 335.65V332.4H1014.81V337.24M1012.84 339.44V337.24H1016.77V338.16M1015.59 359.8V338.16H1017.96V341.34M1016.81 359.8V341.34H1019.11V342.36M1018.04 359.8V342.36H1020.18V343.37M1019.26 359.8V343.37H1021.1V344.66M1020.48 359.8V344.66H1021.71V359.8M1011.92 359.8V339.44H1013.75V340.64M1013.14 359.8V340.64H1014.37V359.8M996.01 359.8V335.65H1002.28V336.78M998.77 337.43V336.78H1005.8V337.4M1003.35 359.8V337.4H1008.25V338.11M1006.41 341.29V338.11H1010.08V340.95M1009.47 359.8V340.95H1010.7V359.8M1005.19 343.47V341.29H1007.64V344.86M1007.02 359.8V344.86H1008.25V359.8M1004.58 359.8V343.47H1005.8V359.8M997.24 359.8V337.43H1000.29V339.45M999.07 340.64V339.45H1001.52V345.71M1000.91 359.8V345.71H1002.13V359.8M998.46 359.8V340.64H999.68V359.8M989.09 339.46V338.6H994.79V359.8M986.15 340.2V339.46H992.04V340.57M991.12 359.8V340.57H992.95V345.04M992.34 359.8V345.04H993.57V359.8M985 359.8V340.2H987.29V340.84M986.22 359.8V340.84H988.36V342.67M987.45 359.8V342.67H989.28V346.8M988.67 359.8V346.8H989.89V359.8M945.35 338.8V329.4H963.69V333.6M951.35 344.07V333.6H976.02V334.49M968.26 335.35V334.49H983.78V359.8M960.59 337.97V335.35H975.94V338.97M970.85 339.77V338.97H981.02V344.29M980.11 359.8V344.29H981.94V345.97M981.33 359.8V345.97H982.55V359.8M967.26 340.54V339.77H974.45V340.67M971.54 341.63V340.67H977.35V341.89M976.43 359.8V341.89H978.27V346.08M977.66 359.8V346.08H978.88V359.8M969.71 342.73V341.63H973.38V342.43M972.15 343.34V342.43H974.6V343.19M973.99 359.8V343.19H975.21V359.8M971.54 359.8V343.34H972.76V359.8M969.09 359.8V342.73H970.32V359.8M966.65 359.8V340.54H967.87V359.8M957.28 338.75V337.97H963.89V339.12M962.98 359.8V339.12H964.81V344.13M964.2 359.8V344.13H965.42V359.8M954.33 339.84V338.75H960.22V342.95M959.3 359.8V342.95H961.14V345.01M960.53 359.8V345.01H961.75V359.8M953.19 359.8V339.84H955.48V341.11M954.41 359.8V341.11H956.55V341.75M955.63 359.8V341.75H957.47V343.99M956.86 359.8V343.99H958.08V359.8M950.74 359.8V344.07H951.96V359.8M942.48 340.97V338.8H948.22V339.7M946.92 341.92V339.7H949.52V359.8M945.54 342.85V341.92H948.29V359.8M944.62 359.8V342.85H946.46V343.53M945.85 359.8V343.53H947.07V359.8M941.56 347.41V340.97H943.4V359.8M940.95 359.8V347.41H942.17V359.8M927.8 334.5V321.2H936.5V327.9M933.88 330.8V327.9H939.12V343.76M938.5 359.8V343.76H939.73V359.8M931.09 333.5V330.8H936.67V342.89M936.06 359.8V342.89H937.28V359.8M929.94 359.8V333.5H932.23V335.8M931.16 359.8V335.8H933.3V337.47M932.39 359.8V337.47H934.22V341.58M933.61 359.8V341.58H934.83V359.8M926.88 345.97V334.5H928.72V359.8M926.27 359.8V345.97H927.49V359.8M748.14 331.8V324.4H902.77V329.5M881.7 335.6V329.5H923.84V335.9M922.64 337.4V335.9H925.04V359.8M921.45 338.36V337.4H923.82V359.8M920.3 338.95V338.36H922.6V359.8M919.23 342.11V338.95H921.37V359.8M918.32 345.64V342.11H920.15V359.8M917.7 359.8V345.64H918.93V359.8M851.16 339.8V335.6H912.24V339M909.37 341.2V339H915.1V342.9M913.73 345.64V342.9H916.48V359.8M912.81 359.8V345.64H914.64V347.86M914.03 359.8V347.86H915.26V359.8M907.76 344.1V341.2H910.97V349.01M910.36 359.8V349.01H911.59V359.8M906.39 345.55V344.1H909.14V359.8M905.47 359.8V345.55H907.3V348.78M906.69 359.8V348.78H907.91V359.8M817.18 344.47V339.8H885.15V341.62M867.44 342.63V341.62H902.87V348.23M901.49 349.42V348.23H904.24V359.8M900.57 359.8V349.42H902.41V350.44M901.8 359.8V350.44H903.02V359.8M845.49 345.39V342.63H889.39V343.26M880.04 343.83V343.26H898.74V347.41M898.13 359.8V347.41H899.35V359.8M868.43 344.95V343.83H891.66V344.89M887.34 345.75V344.89H895.98V348.82M895.07 349.42V348.82H896.9V359.8M894.46 359.8V349.42H895.68V359.8M881.45 346.46V345.75H893.23V359.8M876.58 347.28V346.46H886.31V347.12M884.67 359.8V347.12H887.96V348.28M886.5 349.58V348.28H889.41V348.9M888.34 359.8V348.9H890.48V349.61M889.56 359.8V349.61H891.4V350.51M890.78 359.8V350.51H892.01V359.8M885.89 359.8V349.58H887.11V359.8M874.88 359.8V347.28H878.28V348.37M876.71 349.18V348.37H879.85V349.13M878.55 359.8V349.13H881.15V349.68M879.77 359.8V349.68H882.53V350.29M881.61 351.22V350.29H883.44V359.8M881 359.8V351.22H882.22V359.8M876.1 359.8V349.18H877.33V359.8M864.11 346.05V344.95H872.74V348.12M871.82 348.82V348.12H873.65V359.8M871.21 359.8V348.82H872.43V359.8M859.16 346.97V346.05H869.07V347.03M868.15 347.91V347.03H869.98V359.8M867.54 359.8V347.91H868.76V359.8M854.23 348.61V346.97H864.1V347.9M861.88 348.55V347.9H866.31V359.8M859.28 349.58V348.55H864.48V349.6M863.87 359.8V349.6H865.09V359.8M857.44 350.26V349.58H861.11V350.22M860.2 359.8V350.22H862.03V351.39M861.42 359.8V351.39H862.64V359.8M856.52 359.8V350.26H858.36V351.01M857.75 359.8V351.01H858.97V359.8M853.16 349.8V348.61H855.3V359.8M852.24 350.37V349.8H854.08V359.8M851.63 359.8V350.37H852.85V359.8M841.49 346.14V345.39H849.49V346.32M848.57 347.13V346.32H850.41V359.8M847.96 359.8V347.13H849.18V359.8M837.16 347.09V346.14H845.82V347.17M844.9 348.11V347.17H846.74V359.8M844.29 359.8V348.11H845.51V359.8M833.16 347.84V347.09H841.15V348.17M839.24 348.74V348.17H843.07V359.8M838.17 359.8V348.74H840.31V349.78M839.39 359.8V349.78H841.23V350.59M840.62 359.8V350.59H841.84V359.8M829.99 348.68V347.84H836.34V348.73M835.72 359.8V348.73H836.95V359.8M828.08 349.81V348.68H831.9V349.63M830.83 359.8V349.63H832.97V350.42M832.05 359.8V350.42H833.89V351.53M833.28 359.8V351.53H834.5V359.8M827.16 359.8V349.81H828.99V350.75M828.38 359.8V350.75H829.61V359.8M809.34 345.44V344.47H825.02V345.53M824.1 348.82V345.53H825.93V359.8M823.49 359.8V348.82H824.71V359.8M801.21 346V345.44H817.47V347.12M813.28 347.81V347.12H821.65V349.74M821.04 359.8V349.74H822.26V359.8M811.25 359.8V347.81H815.31V348.85M813.09 350.03V348.85H817.52V349.41M815.84 350.36V349.41H819.21V349.92M818.59 359.8V349.92H819.82V359.8M814.92 359.8V350.36H816.76V351.12M816.15 359.8V351.12H817.37V359.8M812.48 359.8V350.03H813.7V359.8M794.98 346.67V346H807.43V346.77M806.36 359.8V346.77H808.5V348.84M807.58 359.8V348.84H809.42V349.99M808.8 359.8V349.99H810.03V359.8M790.45 359.8V346.67H799.51V347.67M795.73 348.75V347.67H803.3V348.46M802.08 349.43V348.46H804.52V349.24M803.91 359.8V349.24H805.13V359.8M801.46 359.8V349.43H802.69V359.8M793.51 349.64V348.75H797.95V349.38M796.57 359.8V349.38H799.32V349.95M798.4 351.1V349.95H800.24V359.8M797.79 359.8V351.1H799.02V359.8M792.29 350.73V349.64H794.73V350.74M794.12 359.8V350.74H795.35V359.8M791.67 359.8V350.73H792.9V359.8M736.77 341V331.8H759.52V335.9M746.74 340.33V335.9H772.29V339.1M764.76 359.8V339.1H779.83V341.68M773.67 342.36V341.68H786V343.6M783.38 344.46V343.6H788.62V348.52M788 359.8V348.52H789.23V359.8M780.59 346.5V344.46H786.17V348.73M785.56 359.8V348.73H786.78V359.8M779.44 359.8V346.5H781.73V347.06M780.66 359.8V347.06H782.8V348.16M781.89 359.8V348.16H783.72V348.93M783.11 359.8V348.93H784.33V359.8M770.03 343.15V342.36H777.3V347.86M776.38 348.53V347.86H778.22V359.8M775.77 359.8V348.53H776.99V359.8M767.51 346.36V343.15H772.56V346.21M771.18 347.04V346.21H773.93V347.18M773.32 359.8V347.18H774.54V359.8M770.26 349.42V347.04H772.1V359.8M769.65 359.8V349.42H770.87V359.8M766.59 348.98V346.36H768.43V359.8M765.98 359.8V348.98H767.2V359.8M741.32 343.75V340.33H752.16V341.13M748.7 345.17V341.13H755.62V342.66M752.52 359.8V342.66H758.71V343.5M755.73 344.02V343.5H761.7V344.7M760.47 347.32V344.7H762.92V348.4M762.31 359.8V348.4H763.53V359.8M759.86 359.8V347.32H761.09V359.8M754.36 347.1V344.02H757.11V347.62M756.19 359.8V347.62H758.03V349.68M757.41 359.8V349.68H758.64V359.8M753.74 359.8V347.1H754.97V359.8M747.63 359.8V345.17H749.77V346.33M748.85 359.8V346.33H750.68V348.35M750.07 359.8V348.35H751.3V359.8M739.06 359.8V343.75H743.57V344.43M741.36 346.16V344.43H745.79V347.22M745.18 359.8V347.22H746.4V359.8M740.28 359.8V346.16H742.43V347.32M741.51 359.8V347.32H743.34V349.46M742.73 359.8V349.46H743.96V359.8M735.7 342.55V341H737.84V359.8M734.78 349.38V342.55H736.61V359.8M734.17 359.8V349.38H735.39V359.8M690.67 281.7V240.6H712.19V264M706.18 306V264H718.21V285.4M713.6 320.8V285.4H722.83V309.8M719.64 318.6V309.8H726.02V317.1M722.54 322V317.1H729.5V319.4M726.98 325V319.4H732.03V327.5M731.11 332.1V327.5H732.94V359.8M730.5 359.8V332.1H731.72V359.8M725.3 327.22V325H728.66V328.45M728.05 359.8V328.45H729.27V359.8M724.38 359.8V327.22H726.21V335.05M725.6 359.8V335.05H726.83V359.8M721.93 359.8V322H723.15V359.8M718.57 324.47V318.6H720.71V359.8M717.65 329.7V324.47H719.48V359.8M717.04 359.8V329.7H718.26V359.8M711.99 325.55V320.8H715.2V331.19M714.59 359.8V331.19H715.81V359.8M710.61 328.26V325.55H713.37V359.8M709.7 359.8V328.26H711.53V331.37M710.92 359.8V331.37H712.14V359.8M703.88 315.21V306H708.47V359.8M702.05 322.48V315.21H705.72V320.48M704.8 359.8V320.48H706.64V331.45M706.02 359.8V331.45H707.25V359.8M701.13 359.8V322.48H702.97V325.79M702.35 359.8V325.79H703.58V359.8M685.99 323V281.7H695.36V304.6M692.72 322V304.6H697.99V315.7M696.08 321.68V315.7H699.91V359.8M695.01 359.8V321.68H697.15V325.36M696.24 359.8V325.36H698.07V332.4M697.46 359.8V332.4H698.68V359.8M691.65 327.87V322H693.79V359.8M690.73 329.05V327.87H692.57V359.8M690.12 359.8V329.05H691.34V359.8M684.61 328.71V323H687.36V326.74M686.45 359.8V326.74H688.28V335.04M687.67 359.8V335.04H688.89V359.8M684 359.8V328.71H685.22V359.8" fill="none" stroke="#111111" stroke-width="1.6" stroke-linejoin="round" stroke-linecap="butt"/>
<path d="M1104.91 359.8V338.03M1107.36 359.8V349.19M1102.46 359.8V341.9M1097.57 359.8V342.11M1100.02 359.8V345.98M1095.12 359.8V345.64M1080.44 359.8V333.02M1087.78 359.8V337.96M1090.23 359.8V341.72M1092.67 359.8V345.28M1082.89 359.8V340.84M1085.33 359.8V347.83M1075.54 359.8V341.51M1077.99 359.8V343.1M1073.1 359.8V345.46M1063.31 359.8V335.86M1065.76 359.8V340.09M1068.2 359.8V341.68M1070.65 359.8V343.26M1058.41 359.8V343.12M1060.86 359.8V343.77M1055.97 359.8V340.32M1053.52 359.8V347.79M1016.81 359.8V342.94M1019.26 359.8V344.97M1021.71 359.8V346.26M1011.92 359.8V341.04M1014.37 359.8V342.24M1009.47 359.8V342.55M1007.02 359.8V346.46M1004.58 359.8V345.07M997.24 359.8V339.03M1002.13 359.8V347.31M999.68 359.8V342.24M994.79 359.8V340.2M992.34 359.8V346.64M985 359.8V341.8M987.45 359.8V344.27M989.89 359.8V348.4M980.11 359.8V345.89M982.55 359.8V347.57M977.66 359.8V347.68M975.21 359.8V344.79M972.76 359.8V344.94M970.32 359.8V344.33M967.87 359.8V342.14M962.98 359.8V340.72M965.42 359.8V345.73M960.53 359.8V346.61M953.19 359.8V341.44M955.63 359.8V343.35M958.08 359.8V345.59M950.74 359.8V345.67M948.29 359.8V343.52M945.85 359.8V345.13M943.4 359.8V342.57M940.95 359.8V349.01" fill="none" stroke="#8a8a8a" stroke-width="0.9"/>
<g><circle cx="684" cy="364.3" r="3.55" fill="#c5c0dc"/><circle cx="685.22" cy="364.3" r="3.55" fill="#c5c0dc"/><circle cx="686.45" cy="364.3" r="3.55" fill="#c5c0dc"/><circle cx="687.67" cy="364.3" r="3.55" fill="#c5c0dc"/><circle cx="688.89" cy="364.3" r="3.55" fill="#c5c0dc"/><circle cx="690.12" cy="364.3" r="3.55" fill="#c5c0dc"/><circle cx="691.34" cy="364.3" r="3.55" fill="#c5c0dc"/><circle cx="692.57" cy="364.3" r="3.55" fill="#c5c0dc"/><circle cx="693.79" cy="364.3" r="3.55" fill="#c5c0dc"/><circle cx="695.01" cy="364.3" r="3.55" fill="#c5c0dc"/><circle cx="696.24" cy="364.3" r="3.55" fill="#c5c0dc"/><circle cx="697.46" cy="364.3" r="3.55" fill="#c5c0dc"/><circle cx="698.68" cy="364.3" r="3.55" fill="#c5c0dc"/><circle cx="699.91" cy="364.3" r="3.55" fill="#c5c0dc"/><circle cx="701.13" cy="364.3" r="3.55" fill="#c5c0dc"/><circle cx="702.35" cy="364.3" r="3.55" fill="#d9d1cb"/><circle cx="703.58" cy="364.3" r="3.55" fill="#d9d1cb"/><circle cx="704.8" cy="364.3" r="3.55" fill="#d9d1cb"/><circle cx="706.02" cy="364.3" r="3.55" fill="#d9d1cb"/><circle cx="707.25" cy="364.3" r="3.55" fill="#d9d1cb"/><circle cx="708.47" cy="364.3" r="3.55" fill="#d9d1cb"/><circle cx="709.7" cy="364.3" r="3.55" fill="#d9d1cb"/><circle cx="710.92" cy="364.3" r="3.55" fill="#d9d1cb"/><circle cx="712.14" cy="364.3" r="3.55" fill="#d9d1cb"/><circle cx="713.37" cy="364.3" r="3.55" fill="#d9d1cb"/><circle cx="714.59" cy="364.3" r="3.55" fill="#d9d1cb"/><circle cx="715.81" cy="364.3" r="3.55" fill="#d9d1cb"/><circle cx="717.04" cy="364.3" r="3.55" fill="#d9d1cb"/><circle cx="718.26" cy="364.3" r="3.55" fill="#d9d1cb"/><circle cx="719.48" cy="364.3" r="3.55" fill="#d9d1cb"/><circle cx="720.71" cy="364.3" r="3.55" fill="#d9d1cb"/><circle cx="721.93" cy="364.3" r="3.55" fill="#d9d1cb"/><circle cx="723.15" cy="364.3" r="3.55" fill="#d9d1cb"/><circle cx="724.38" cy="364.3" r="3.55" fill="#d9d1cb"/><circle cx="725.6" cy="364.3" r="3.55" fill="#d9d1cb"/><circle cx="726.83" cy="364.3" r="3.55" fill="#d9d1cb"/><circle cx="728.05" cy="364.3" r="3.55" fill="#d9d1cb"/><circle cx="729.27" cy="364.3" r="3.55" fill="#d9d1cb"/><circle cx="730.5" cy="364.3" r="3.55" fill="#d9d1cb"/><circle cx="731.72" cy="364.3" r="3.55" fill="#d9d1cb"/><circle cx="732.94" cy="364.3" r="3.55" fill="#999999"/><circle cx="734.17" cy="364.3" r="3.55" fill="#999999"/><circle cx="735.39" cy="364.3" r="3.55" fill="#999999"/><circle cx="736.61" cy="364.3" r="3.55" fill="#999999"/><circle cx="737.84" cy="364.3" r="3.55" fill="#999999"/><circle cx="739.06" cy="364.3" r="3.55" fill="#999999"/><circle cx="740.28" cy="364.3" r="3.55" fill="#999999"/><circle cx="741.51" cy="364.3" r="3.55" fill="#999999"/><circle cx="742.73" cy="364.3" r="3.55" fill="#999999"/><circle cx="743.96" cy="364.3" r="3.55" fill="#999999"/><circle cx="745.18" cy="364.3" r="3.55" fill="#999999"/><circle cx="746.4" cy="364.3" r="3.55" fill="#999999"/><circle cx="747.63" cy="364.3" r="3.55" fill="#999999"/><circle cx="748.85" cy="364.3" r="3.55" fill="#999999"/><circle cx="750.07" cy="364.3" r="3.55" fill="#999999"/><circle cx="751.3" cy="364.3" r="3.55" fill="#999999"/><circle cx="752.52" cy="364.3" r="3.55" fill="#999999"/><circle cx="753.74" cy="364.3" r="3.55" fill="#999999"/><circle cx="754.97" cy="364.3" r="3.55" fill="#999999"/><circle cx="756.19" cy="364.3" r="3.55" fill="#999999"/><circle cx="757.41" cy="364.3" r="3.55" fill="#999999"/><circle cx="758.64" cy="364.3" r="3.55" fill="#999999"/><circle cx="759.86" cy="364.3" r="3.55" fill="#999999"/><circle cx="761.09" cy="364.3" r="3.55" fill="#999999"/><circle cx="762.31" cy="364.3" r="3.55" fill="#999999"/><circle cx="763.53" cy="364.3" r="3.55" fill="#999999"/><circle cx="764.76" cy="364.3" r="3.55" fill="#999999"/><circle cx="765.98" cy="364.3" r="3.55" fill="#999999"/><circle cx="767.2" cy="364.3" r="3.55" fill="#999999"/><circle cx="768.43" cy="364.3" r="3.55" fill="#999999"/><circle cx="769.65" cy="364.3" r="3.55" fill="#999999"/><circle cx="770.87" cy="364.3" r="3.55" fill="#999999"/><circle cx="772.1" cy="364.3" r="3.55" fill="#999999"/><circle cx="773.32" cy="364.3" r="3.55" fill="#999999"/><circle cx="774.54" cy="364.3" r="3.55" fill="#999999"/><circle cx="775.77" cy="364.3" r="3.55" fill="#999999"/><circle cx="776.99" cy="364.3" r="3.55" fill="#999999"/><circle cx="778.22" cy="364.3" r="3.55" fill="#999999"/><circle cx="779.44" cy="364.3" r="3.55" fill="#999999"/><circle cx="780.66" cy="364.3" r="3.55" fill="#999999"/><circle cx="781.89" cy="364.3" r="3.55" fill="#999999"/><circle cx="783.11" cy="364.3" r="3.55" fill="#999999"/><circle cx="784.33" cy="364.3" r="3.55" fill="#999999"/><circle cx="785.56" cy="364.3" r="3.55" fill="#999999"/><circle cx="786.78" cy="364.3" r="3.55" fill="#999999"/><circle cx="788" cy="364.3" r="3.55" fill="#999999"/><circle cx="789.23" cy="364.3" r="3.55" fill="#999999"/><circle cx="790.45" cy="364.3" r="3.55" fill="#999999"/><circle cx="791.67" cy="364.3" r="3.55" fill="#999999"/><circle cx="792.9" cy="364.3" r="3.55" fill="#999999"/><circle cx="794.12" cy="364.3" r="3.55" fill="#999999"/><circle cx="795.35" cy="364.3" r="3.55" fill="#999999"/><circle cx="796.57" cy="364.3" r="3.55" fill="#999999"/><circle cx="797.79" cy="364.3" r="3.55" fill="#999999"/><circle cx="799.02" cy="364.3" r="3.55" fill="#999999"/><circle cx="800.24" cy="364.3" r="3.55" fill="#999999"/><circle cx="801.46" cy="364.3" r="3.55" fill="#999999"/><circle cx="802.69" cy="364.3" r="3.55" fill="#999999"/><circle cx="803.91" cy="364.3" r="3.55" fill="#999999"/><circle cx="805.13" cy="364.3" r="3.55" fill="#999999"/><circle cx="806.36" cy="364.3" r="3.55" fill="#999999"/><circle cx="807.58" cy="364.3" r="3.55" fill="#999999"/><circle cx="808.8" cy="364.3" r="3.55" fill="#999999"/><circle cx="810.03" cy="364.3" r="3.55" fill="#999999"/><circle cx="811.25" cy="364.3" r="3.55" fill="#999999"/><circle cx="812.48" cy="364.3" r="3.55" fill="#999999"/><circle cx="813.7" cy="364.3" r="3.55" fill="#999999"/><circle cx="814.92" cy="364.3" r="3.55" fill="#999999"/><circle cx="816.15" cy="364.3" r="3.55" fill="#999999"/><circle cx="817.37" cy="364.3" r="3.55" fill="#999999"/><circle cx="818.59" cy="364.3" r="3.55" fill="#999999"/><circle cx="819.82" cy="364.3" r="3.55" fill="#999999"/><circle cx="821.04" cy="364.3" r="3.55" fill="#999999"/><circle cx="822.26" cy="364.3" r="3.55" fill="#999999"/><circle cx="823.49" cy="364.3" r="3.55" fill="#999999"/><circle cx="824.71" cy="364.3" r="3.55" fill="#999999"/><circle cx="825.93" cy="364.3" r="3.55" fill="#999999"/><circle cx="827.16" cy="364.3" r="3.55" fill="#999999"/><circle cx="828.38" cy="364.3" r="3.55" fill="#999999"/><circle cx="829.61" cy="364.3" r="3.55" fill="#999999"/><circle cx="830.83" cy="364.3" r="3.55" fill="#999999"/><circle cx="832.05" cy="364.3" r="3.55" fill="#999999"/><circle cx="833.28" cy="364.3" r="3.55" fill="#999999"/><circle cx="834.5" cy="364.3" r="3.55" fill="#999999"/><circle cx="835.72" cy="364.3" r="3.55" fill="#999999"/><circle cx="836.95" cy="364.3" r="3.55" fill="#999999"/><circle cx="838.17" cy="364.3" r="3.55" fill="#999999"/><circle cx="839.39" cy="364.3" r="3.55" fill="#999999"/><circle cx="840.62" cy="364.3" r="3.55" fill="#999999"/><circle cx="841.84" cy="364.3" r="3.55" fill="#999999"/><circle cx="843.07" cy="364.3" r="3.55" fill="#999999"/><circle cx="844.29" cy="364.3" r="3.55" fill="#999999"/><circle cx="845.51" cy="364.3" r="3.55" fill="#999999"/><circle cx="846.74" cy="364.3" r="3.55" fill="#999999"/><circle cx="847.96" cy="364.3" r="3.55" fill="#999999"/><circle cx="849.18" cy="364.3" r="3.55" fill="#999999"/><circle cx="850.41" cy="364.3" r="3.55" fill="#999999"/><circle cx="851.63" cy="364.3" r="3.55" fill="#999999"/><circle cx="852.85" cy="364.3" r="3.55" fill="#999999"/><circle cx="854.08" cy="364.3" r="3.55" fill="#999999"/><circle cx="855.3" cy="364.3" r="3.55" fill="#999999"/><circle cx="856.52" cy="364.3" r="3.55" fill="#999999"/><circle cx="857.75" cy="364.3" r="3.55" fill="#999999"/><circle cx="858.97" cy="364.3" r="3.55" fill="#999999"/><circle cx="860.2" cy="364.3" r="3.55" fill="#999999"/><circle cx="861.42" cy="364.3" r="3.55" fill="#999999"/><circle cx="862.64" cy="364.3" r="3.55" fill="#999999"/><circle cx="863.87" cy="364.3" r="3.55" fill="#999999"/><circle cx="865.09" cy="364.3" r="3.55" fill="#999999"/><circle cx="866.31" cy="364.3" r="3.55" fill="#999999"/><circle cx="867.54" cy="364.3" r="3.55" fill="#999999"/><circle cx="868.76" cy="364.3" r="3.55" fill="#999999"/><circle cx="869.98" cy="364.3" r="3.55" fill="#999999"/><circle cx="871.21" cy="364.3" r="3.55" fill="#999999"/><circle cx="872.43" cy="364.3" r="3.55" fill="#999999"/><circle cx="873.65" cy="364.3" r="3.55" fill="#999999"/><circle cx="874.88" cy="364.3" r="3.55" fill="#999999"/><circle cx="876.1" cy="364.3" r="3.55" fill="#999999"/><circle cx="877.33" cy="364.3" r="3.55" fill="#999999"/><circle cx="878.55" cy="364.3" r="3.55" fill="#999999"/><circle cx="879.77" cy="364.3" r="3.55" fill="#999999"/><circle cx="881" cy="364.3" r="3.55" fill="#999999"/><circle cx="882.22" cy="364.3" r="3.55" fill="#999999"/><circle cx="883.44" cy="364.3" r="3.55" fill="#999999"/><circle cx="884.67" cy="364.3" r="3.55" fill="#999999"/><circle cx="885.89" cy="364.3" r="3.55" fill="#999999"/><circle cx="887.11" cy="364.3" r="3.55" fill="#999999"/><circle cx="888.34" cy="364.3" r="3.55" fill="#999999"/><circle cx="889.56" cy="364.3" r="3.55" fill="#999999"/><circle cx="890.78" cy="364.3" r="3.55" fill="#999999"/><circle cx="892.01" cy="364.3" r="3.55" fill="#999999"/><circle cx="893.23" cy="364.3" r="3.55" fill="#999999"/><circle cx="894.46" cy="364.3" r="3.55" fill="#999999"/><circle cx="895.68" cy="364.3" r="3.55" fill="#999999"/><circle cx="896.9" cy="364.3" r="3.55" fill="#999999"/><circle cx="898.13" cy="364.3" r="3.55" fill="#999999"/><circle cx="899.35" cy="364.3" r="3.55" fill="#999999"/><circle cx="900.57" cy="364.3" r="3.55" fill="#999999"/><circle cx="901.8" cy="364.3" r="3.55" fill="#999999"/><circle cx="903.02" cy="364.3" r="3.55" fill="#999999"/><circle cx="904.24" cy="364.3" r="3.55" fill="#999999"/><circle cx="905.47" cy="364.3" r="3.55" fill="#999999"/><circle cx="906.69" cy="364.3" r="3.55" fill="#999999"/><circle cx="907.91" cy="364.3" r="3.55" fill="#999999"/><circle cx="909.14" cy="364.3" r="3.55" fill="#999999"/><circle cx="910.36" cy="364.3" r="3.55" fill="#999999"/><circle cx="911.59" cy="364.3" r="3.55" fill="#999999"/><circle cx="912.81" cy="364.3" r="3.55" fill="#999999"/><circle cx="914.03" cy="364.3" r="3.55" fill="#999999"/><circle cx="915.26" cy="364.3" r="3.55" fill="#999999"/><circle cx="916.48" cy="364.3" r="3.55" fill="#999999"/><circle cx="917.7" cy="364.3" r="3.55" fill="#999999"/><circle cx="918.93" cy="364.3" r="3.55" fill="#999999"/><circle cx="920.15" cy="364.3" r="3.55" fill="#999999"/><circle cx="921.37" cy="364.3" r="3.55" fill="#999999"/><circle cx="922.6" cy="364.3" r="3.55" fill="#999999"/><circle cx="923.82" cy="364.3" r="3.55" fill="#94a9d3"/><circle cx="925.04" cy="364.3" r="3.55" fill="#94a9d3"/><circle cx="926.27" cy="364.3" r="3.55" fill="#94a9d3"/><circle cx="927.49" cy="364.3" r="3.55" fill="#94a9d3"/><circle cx="928.72" cy="364.3" r="3.55" fill="#94a9d3"/><circle cx="929.94" cy="364.3" r="3.55" fill="#94a9d3"/><circle cx="931.16" cy="364.3" r="3.55" fill="#94a9d3"/><circle cx="932.39" cy="364.3" r="3.55" fill="#94a9d3"/><circle cx="933.61" cy="364.3" r="3.55" fill="#94a9d3"/><circle cx="934.83" cy="364.3" r="3.55" fill="#94a9d3"/><circle cx="936.06" cy="364.3" r="3.55" fill="#94a9d3"/><circle cx="937.28" cy="364.3" r="3.55" fill="#94a9d3"/><circle cx="938.5" cy="364.3" r="3.55" fill="#94a9d3"/><circle cx="939.73" cy="364.3" r="3.55" fill="#94a9d3"/><circle cx="940.95" cy="364.3" r="3.55" fill="#de8465"/><circle cx="942.17" cy="364.3" r="3.55" fill="#a9959f"/><circle cx="943.4" cy="364.3" r="3.55" fill="#de8465"/><circle cx="944.62" cy="364.3" r="3.55" fill="#a9959f"/><circle cx="945.85" cy="364.3" r="3.55" fill="#de8465"/><circle cx="947.07" cy="364.3" r="3.55" fill="#a9959f"/><circle cx="948.29" cy="364.3" r="3.55" fill="#de8465"/><circle cx="949.52" cy="364.3" r="3.55" fill="#a9959f"/><circle cx="950.74" cy="364.3" r="3.55" fill="#de8465"/><circle cx="951.96" cy="364.3" r="3.55" fill="#a9959f"/><circle cx="953.19" cy="364.3" r="3.55" fill="#de8465"/><circle cx="954.41" cy="364.3" r="3.55" fill="#a9959f"/><circle cx="955.63" cy="364.3" r="3.55" fill="#de8465"/><circle cx="956.86" cy="364.3" r="3.55" fill="#a9959f"/><circle cx="958.08" cy="364.3" r="3.55" fill="#de8465"/><circle cx="959.3" cy="364.3" r="3.55" fill="#a9959f"/><circle cx="960.53" cy="364.3" r="3.55" fill="#de8465"/><circle cx="961.75" cy="364.3" r="3.55" fill="#a9959f"/><circle cx="962.98" cy="364.3" r="3.55" fill="#de8465"/><circle cx="964.2" cy="364.3" r="3.55" fill="#a9959f"/><circle cx="965.42" cy="364.3" r="3.55" fill="#de8465"/><circle cx="966.65" cy="364.3" r="3.55" fill="#a9959f"/><circle cx="967.87" cy="364.3" r="3.55" fill="#de8465"/><circle cx="969.09" cy="364.3" r="3.55" fill="#a9959f"/><circle cx="970.32" cy="364.3" r="3.55" fill="#de8465"/><circle cx="971.54" cy="364.3" r="3.55" fill="#a9959f"/><circle cx="972.76" cy="364.3" r="3.55" fill="#de8465"/><circle cx="973.99" cy="364.3" r="3.55" fill="#a9959f"/><circle cx="975.21" cy="364.3" r="3.55" fill="#de8465"/><circle cx="976.43" cy="364.3" r="3.55" fill="#a9959f"/><circle cx="977.66" cy="364.3" r="3.55" fill="#de8465"/><circle cx="978.88" cy="364.3" r="3.55" fill="#a9959f"/><circle cx="980.11" cy="364.3" r="3.55" fill="#de8465"/><circle cx="981.33" cy="364.3" r="3.55" fill="#a9959f"/><circle cx="982.55" cy="364.3" r="3.55" fill="#de8465"/><circle cx="983.78" cy="364.3" r="3.55" fill="#a9959f"/><circle cx="985" cy="364.3" r="3.55" fill="#de8465"/><circle cx="986.22" cy="364.3" r="3.55" fill="#a9959f"/><circle cx="987.45" cy="364.3" r="3.55" fill="#de8465"/><circle cx="988.67" cy="364.3" r="3.55" fill="#a9959f"/><circle cx="989.89" cy="364.3" r="3.55" fill="#de8465"/><circle cx="991.12" cy="364.3" r="3.55" fill="#a9959f"/><circle cx="992.34" cy="364.3" r="3.55" fill="#de8465"/><circle cx="993.57" cy="364.3" r="3.55" fill="#a9959f"/><circle cx="994.79" cy="364.3" r="3.55" fill="#de8465"/><circle cx="996.01" cy="364.3" r="3.55" fill="#a9959f"/><circle cx="997.24" cy="364.3" r="3.55" fill="#de8465"/><circle cx="998.46" cy="364.3" r="3.55" fill="#a9959f"/><circle cx="999.68" cy="364.3" r="3.55" fill="#de8465"/><circle cx="1000.91" cy="364.3" r="3.55" fill="#a9959f"/><circle cx="1002.13" cy="364.3" r="3.55" fill="#de8465"/><circle cx="1003.35" cy="364.3" r="3.55" fill="#a9959f"/><circle cx="1004.58" cy="364.3" r="3.55" fill="#de8465"/><circle cx="1005.8" cy="364.3" r="3.55" fill="#a9959f"/><circle cx="1007.02" cy="364.3" r="3.55" fill="#de8465"/><circle cx="1008.25" cy="364.3" r="3.55" fill="#a9959f"/><circle cx="1009.47" cy="364.3" r="3.55" fill="#de8465"/><circle cx="1010.7" cy="364.3" r="3.55" fill="#a9959f"/><circle cx="1011.92" cy="364.3" r="3.55" fill="#de8465"/><circle cx="1013.14" cy="364.3" r="3.55" fill="#a9959f"/><circle cx="1014.37" cy="364.3" r="3.55" fill="#de8465"/><circle cx="1015.59" cy="364.3" r="3.55" fill="#a9959f"/><circle cx="1016.81" cy="364.3" r="3.55" fill="#de8465"/><circle cx="1018.04" cy="364.3" r="3.55" fill="#a9959f"/><circle cx="1019.26" cy="364.3" r="3.55" fill="#de8465"/><circle cx="1020.48" cy="364.3" r="3.55" fill="#a9959f"/><circle cx="1021.71" cy="364.3" r="3.55" fill="#de8465"/><circle cx="1022.93" cy="364.3" r="3.55" fill="#93c7bd"/><circle cx="1024.15" cy="364.3" r="3.55" fill="#93c7bd"/><circle cx="1025.38" cy="364.3" r="3.55" fill="#93c7bd"/><circle cx="1026.6" cy="364.3" r="3.55" fill="#93c7bd"/><circle cx="1027.83" cy="364.3" r="3.55" fill="#93c7bd"/><circle cx="1029.05" cy="364.3" r="3.55" fill="#93c7bd"/><circle cx="1030.27" cy="364.3" r="3.55" fill="#93c7bd"/><circle cx="1031.5" cy="364.3" r="3.55" fill="#93c7bd"/><circle cx="1032.72" cy="364.3" r="3.55" fill="#93c7bd"/><circle cx="1033.94" cy="364.3" r="3.55" fill="#93c7bd"/><circle cx="1035.17" cy="364.3" r="3.55" fill="#93c7bd"/><circle cx="1036.39" cy="364.3" r="3.55" fill="#93c7bd"/><circle cx="1037.61" cy="364.3" r="3.55" fill="#93c7bd"/><circle cx="1038.84" cy="364.3" r="3.55" fill="#93c7bd"/><circle cx="1040.06" cy="364.3" r="3.55" fill="#93c7bd"/><circle cx="1041.28" cy="364.3" r="3.55" fill="#93c7bd"/><circle cx="1042.51" cy="364.3" r="3.55" fill="#93c7bd"/><circle cx="1043.73" cy="364.3" r="3.55" fill="#93c7bd"/><circle cx="1044.96" cy="364.3" r="3.55" fill="#93c7bd"/><circle cx="1046.18" cy="364.3" r="3.55" fill="#93c7bd"/><circle cx="1047.4" cy="364.3" r="3.55" fill="#93c7bd"/><circle cx="1048.63" cy="364.3" r="3.55" fill="#93c7bd"/><circle cx="1049.85" cy="364.3" r="3.55" fill="#93c7bd"/><circle cx="1051.07" cy="364.3" r="3.55" fill="#de8465"/><circle cx="1052.3" cy="364.3" r="3.55" fill="#a9959f"/><circle cx="1053.52" cy="364.3" r="3.55" fill="#de8465"/><circle cx="1054.74" cy="364.3" r="3.55" fill="#a9959f"/><circle cx="1055.97" cy="364.3" r="3.55" fill="#de8465"/><circle cx="1057.19" cy="364.3" r="3.55" fill="#a9959f"/><circle cx="1058.41" cy="364.3" r="3.55" fill="#de8465"/><circle cx="1059.64" cy="364.3" r="3.55" fill="#a9959f"/><circle cx="1060.86" cy="364.3" r="3.55" fill="#de8465"/><circle cx="1062.09" cy="364.3" r="3.55" fill="#a9959f"/><circle cx="1063.31" cy="364.3" r="3.55" fill="#de8465"/><circle cx="1064.53" cy="364.3" r="3.55" fill="#a9959f"/><circle cx="1065.76" cy="364.3" r="3.55" fill="#de8465"/><circle cx="1066.98" cy="364.3" r="3.55" fill="#a9959f"/><circle cx="1068.2" cy="364.3" r="3.55" fill="#de8465"/><circle cx="1069.43" cy="364.3" r="3.55" fill="#a9959f"/><circle cx="1070.65" cy="364.3" r="3.55" fill="#de8465"/><circle cx="1071.87" cy="364.3" r="3.55" fill="#a9959f"/><circle cx="1073.1" cy="364.3" r="3.55" fill="#de8465"/><circle cx="1074.32" cy="364.3" r="3.55" fill="#a9959f"/><circle cx="1075.54" cy="364.3" r="3.55" fill="#de8465"/><circle cx="1076.77" cy="364.3" r="3.55" fill="#a9959f"/><circle cx="1077.99" cy="364.3" r="3.55" fill="#de8465"/><circle cx="1079.22" cy="364.3" r="3.55" fill="#a9959f"/><circle cx="1080.44" cy="364.3" r="3.55" fill="#de8465"/><circle cx="1081.66" cy="364.3" r="3.55" fill="#a9959f"/><circle cx="1082.89" cy="364.3" r="3.55" fill="#de8465"/><circle cx="1084.11" cy="364.3" r="3.55" fill="#a9959f"/><circle cx="1085.33" cy="364.3" r="3.55" fill="#de8465"/><circle cx="1086.56" cy="364.3" r="3.55" fill="#a9959f"/><circle cx="1087.78" cy="364.3" r="3.55" fill="#de8465"/><circle cx="1089" cy="364.3" r="3.55" fill="#a9959f"/><circle cx="1090.23" cy="364.3" r="3.55" fill="#de8465"/><circle cx="1091.45" cy="364.3" r="3.55" fill="#a9959f"/><circle cx="1092.67" cy="364.3" r="3.55" fill="#de8465"/><circle cx="1093.9" cy="364.3" r="3.55" fill="#a9959f"/><circle cx="1095.12" cy="364.3" r="3.55" fill="#de8465"/><circle cx="1096.35" cy="364.3" r="3.55" fill="#a9959f"/><circle cx="1097.57" cy="364.3" r="3.55" fill="#de8465"/><circle cx="1098.79" cy="364.3" r="3.55" fill="#a9959f"/><circle cx="1100.02" cy="364.3" r="3.55" fill="#de8465"/><circle cx="1101.24" cy="364.3" r="3.55" fill="#a9959f"/><circle cx="1102.46" cy="364.3" r="3.55" fill="#de8465"/><circle cx="1103.69" cy="364.3" r="3.55" fill="#a9959f"/><circle cx="1104.91" cy="364.3" r="3.55" fill="#de8465"/><circle cx="1106.13" cy="364.3" r="3.55" fill="#a9959f"/><circle cx="1107.36" cy="364.3" r="3.55" fill="#de8465"/><circle cx="1108.58" cy="364.3" r="3.55" fill="#a9959f"/><circle cx="1109.8" cy="364.3" r="3.55" fill="#de8465"/><circle cx="1111.03" cy="364.3" r="3.55" fill="#a9959f"/><circle cx="1112.25" cy="364.3" r="3.55" fill="#94a9d3"/><circle cx="1113.48" cy="364.3" r="3.55" fill="#94a9d3"/><circle cx="1114.7" cy="364.3" r="3.55" fill="#94a9d3"/><circle cx="1115.92" cy="364.3" r="3.55" fill="#deb779"/><circle cx="1117.15" cy="364.3" r="3.55" fill="#deb779"/><circle cx="1118.37" cy="364.3" r="3.55" fill="#deb779"/><circle cx="1119.59" cy="364.3" r="3.55" fill="#deb779"/><circle cx="1120.82" cy="364.3" r="3.55" fill="#deb779"/><circle cx="1122.04" cy="364.3" r="3.55" fill="#deb779"/><circle cx="1123.26" cy="364.3" r="3.55" fill="#deb779"/><circle cx="1124.49" cy="364.3" r="3.55" fill="#deb779"/><circle cx="1125.71" cy="364.3" r="3.55" fill="#deb779"/><circle cx="1126.93" cy="364.3" r="3.55" fill="#deb779"/><circle cx="1128.16" cy="364.3" r="3.55" fill="#deb779"/><circle cx="1129.38" cy="364.3" r="3.55" fill="#deb779"/><circle cx="1130.61" cy="364.3" r="3.55" fill="#deb779"/><circle cx="1131.83" cy="364.3" r="3.55" fill="#deb779"/><circle cx="1133.05" cy="364.3" r="3.55" fill="#deb779"/><circle cx="1134.28" cy="364.3" r="3.55" fill="#deb779"/><circle cx="1135.5" cy="364.3" r="3.55" fill="#deb779"/></g>
<rect x="661.9" y="69.1" width="495.7" height="344.3" fill="none" stroke="#111" stroke-width="2" stroke-linejoin="round"/>
<path d="M923.69 683.7V610H1109.55V661.9M1081.52 702.7V661.9H1137.59V698.2M1136.97 853.5V698.2H1138.2V853.5M1072.33 790V702.7H1090.72V715.4M1083.6 750.8V715.4H1097.84V742.9M1091.55 853.5V742.9H1104.12V749.95M1093.7 774.38V749.95H1114.55V753.02M1104.4 763.44V753.02H1124.69V754.08M1117.4 771.57V754.08H1131.99V783.95M1130.83 853.5V783.95H1133.14V785.38M1132.06 853.5V785.38H1134.21V786.72M1133.29 853.5V786.72H1135.13V795.15M1134.52 853.5V795.15H1135.74V853.5M1113.65 853.5V771.57H1121.15V772.71M1116.41 773.74V772.71H1125.89V773.65M1123.08 774.62V773.65H1128.69V791.7M1127.77 792.25V791.7H1129.61V853.5M1127.15 853.5V792.25H1128.38V853.5M1120.86 783.82V774.62H1125.31V776.78M1124.7 853.5V776.78H1125.92V853.5M1119.17 785.04V783.82H1122.55V791.95M1121.63 793.14V791.95H1123.47V853.5M1121.01 853.5V793.14H1122.24V853.5M1118.56 853.5V785.04H1119.79V853.5M1115.49 784.22V773.74H1117.33V853.5M1114.87 853.5V784.22H1116.1V853.5M1099.84 768.71V763.44H1108.97V764.41M1106.43 781.93V764.41H1111.5V766.17M1110.58 778.99V766.17H1112.42V853.5M1109.96 853.5V778.99H1111.19V853.5M1104.75 782.57V781.93H1108.12V803.61M1107.51 853.5V803.61H1108.74V853.5M1103.83 853.5V782.57H1105.67V783.22M1105.05 853.5V783.22H1106.28V853.5M1097.99 781.48V768.71H1101.68V769.97M1100.76 781.12V769.97H1102.6V853.5M1100.14 853.5V781.12H1101.37V853.5M1097.07 787.82V781.48H1098.92V853.5M1096.46 853.5V787.82H1097.69V853.5M1092.78 853.5V774.38H1094.62V792.29M1094 853.5V792.29H1095.23V853.5M1079.2 767.12V750.8H1088V762.42M1085.68 763.61V762.42H1090.32V853.5M1082.88 774.77V763.61H1088.48V786.03M1087.87 853.5V786.03H1089.09V853.5M1081.73 853.5V774.77H1084.03V775.71M1082.96 853.5V775.71H1085.1V776.89M1084.18 853.5V776.89H1086.03V802.87M1085.41 853.5V802.87H1086.64V853.5M1077.89 783V767.12H1080.5V853.5M1076.51 783.74V783H1079.27V853.5M1075.59 853.5V783.74H1077.43V784.83M1076.82 853.5V784.83H1078.05V853.5M1070.3 790.79V790H1074.36V853.5M1068.07 792.01V790.79H1072.52V791.8M1071.91 853.5V791.8H1073.13V853.5M1067 853.5V792.01H1069.15V793.43M1068.22 853.5V793.43H1070.07V794.45M1069.45 853.5V794.45H1070.68V853.5M864.41 713.2V683.7H982.97V693.9M951.86 717.7V693.9H1014.08V713.9M980.03 736.9V713.9H1048.14V721.1M1035.45 745.1V721.1H1060.82V744.5M1057.41 756.99V744.5H1064.23V764.87M1062.7 765.42V764.87H1065.77V853.5M1061.47 791.94V765.42H1063.93V789.79M1063.31 853.5V789.79H1064.54V853.5M1060.86 853.5V791.94H1062.09V853.5M1055.79 767.04V756.99H1059.02V772.49M1058.4 853.5V772.49H1059.63V853.5M1054.41 778.46V767.04H1057.18V853.5M1053.49 853.5V778.46H1055.33V785.86M1054.72 853.5V785.86H1055.95V853.5M1024.91 766.17V745.1H1045.99V753.33M1039.72 755.73V753.33H1052.27V853.5M1031.47 778.53V755.73H1047.97V765.82M1044.9 767.06V765.82H1051.04V853.5M1040 768.25V767.06H1049.81V853.5M1036.15 771.82V768.25H1043.84V768.85M1040.3 780.32V768.85H1047.39V779.69M1046.2 780.85V779.69H1048.58V853.5M1045.05 782.17V780.85H1047.35V853.5M1043.98 782.98V782.17H1046.13V853.5M1043.06 784.74V782.98H1044.9V853.5M1042.44 853.5V784.74H1043.67V853.5M1039.37 781.08V780.32H1041.22V853.5M1038.76 853.5V781.08H1039.99V853.5M1034.77 775.25V771.82H1037.53V853.5M1033.85 853.5V775.25H1035.69V775.95M1035.08 853.5V775.95H1036.31V853.5M1030.32 779.7V778.53H1032.62V853.5M1029.25 788.29V779.7H1031.4V853.5M1028.33 789.19V788.29H1030.17V853.5M1027.71 853.5V789.19H1028.94V853.5M1023.34 774.57V766.17H1026.48V853.5M1021.42 775.19V774.57H1025.26V853.5M1020.35 853.5V775.19H1022.49V791.22M1021.57 853.5V791.22H1023.42V792.45M1022.8 853.5V792.45H1024.03V853.5M970.65 757V736.9H989.41V744.5M973.7 853.5V744.5H1005.12V745.82M991.12 750.04V745.82H1019.12V853.5M974.92 853.5V750.04H1007.32V750.73M996.76 751.55V750.73H1017.89V853.5M984.44 765.6V751.55H1009.08V757.11M1001.49 757.73V757.11H1016.66V853.5M993.61 760.27V757.73H1009.37V768.19M1006.84 853.5V768.19H1011.91V769.36M1009.91 784.24V769.36H1013.9V790.15M1012.98 853.5V790.15H1014.82V791.54M1014.21 853.5V791.54H1015.44V853.5M1008.68 785.33V784.24H1011.14V785.18M1010.53 853.5V785.18H1011.75V853.5M1008.07 853.5V785.33H1009.3V853.5M988.43 853.5V760.27H998.78V767.33M992.57 768.52V767.33H1005V793.87M1004.39 853.5V793.87H1005.61V853.5M990.58 789.58V768.52H994.56V775.75M993.34 853.5V775.75H995.78V777.14M994.57 853.5V777.14H997V778.38M995.79 853.5V778.38H998.21V779.56M997.02 853.5V779.56H999.4V780.93M998.25 853.5V780.93H1000.55V781.9M999.48 853.5V781.9H1001.62V787.03M1000.7 853.5V787.03H1002.55V788.3M1001.93 853.5V788.3H1003.16V853.5M989.66 853.5V789.58H991.5V794.15M990.88 853.5V794.15H992.11V853.5M981.68 766.55V765.6H987.2V853.5M978.91 781.97V766.55H984.44V775.79M983.52 853.5V775.79H985.36V788.04M984.74 853.5V788.04H985.97V853.5M977.07 783.23V781.97H980.75V787.89M979.83 853.5V787.89H981.68V788.59M981.06 853.5V788.59H982.29V853.5M976.15 853.5V783.23H977.99V784.39M977.38 853.5V784.39H978.61V853.5M968.82 760.61V757H972.47V853.5M966.41 762.19V760.61H971.24V853.5M965.1 853.5V762.19H967.71V762.69M966.33 853.5V762.69H969.09V770.93M968.17 771.54V770.93H970.01V853.5M967.56 853.5V771.54H968.79V853.5M944.73 738.8V717.7H958.98V736.3M955.36 770.89V736.3H962.61V757.27M961.34 767.55V757.27H963.87V853.5M960.04 769.15V767.55H962.65V853.5M958.66 770.46V769.15H961.42V853.5M957.74 853.5V770.46H959.58V800.34M958.96 853.5V800.34H960.19V853.5M954.21 771.72V770.89H956.51V853.5M953.13 772.36V771.72H955.28V853.5M952.21 776.28V772.36H954.05V853.5M951.6 853.5V776.28H952.83V853.5M941.7 755.75V738.8H947.76V766.06M946.69 853.5V766.06H948.84V771.64M947.92 853.5V771.64H949.76V801.9M949.14 853.5V801.9H950.37V853.5M940.55 853.5V755.75H942.85V767.53M941.78 853.5V767.53H943.93V778.51M943 853.5V778.51H944.85V803.68M944.23 853.5V803.68H945.46V853.5M794.43 729V713.2H934.39V725.1M931.04 760V725.1H937.75V760M936.18 763.72V760H939.32V853.5M934.26 764.48V763.72H938.09V853.5M933.18 853.5V764.48H935.33V774.66M934.41 853.5V774.66H936.25V790.39M935.64 853.5V790.39H936.87V853.5M930.11 789.38V760H931.96V853.5M929.5 853.5V789.38H930.73V853.5M712.83 739V729H876.03V736.4M834.15 750.4V736.4H917.91V746.4M913.55 762.2V746.4H922.27V754.8M918.57 764.05V754.8H925.97V779.67M924.59 853.5V779.67H927.35V785.53M926.43 786.43V785.53H928.27V853.5M925.82 853.5V786.43H927.05V853.5M916 853.5V764.05H921.14V769.7M919.53 774.5V769.7H922.75V779.54M922.13 853.5V779.54H923.36V853.5M918.15 781.45V774.5H920.91V853.5M917.22 853.5V781.45H919.07V785.63M918.45 853.5V785.63H919.68V853.5M912.32 764.22V762.2H914.77V853.5M911.11 767.99V764.22H913.54V853.5M909.9 769.42V767.99H912.31V853.5M908.71 770.08V769.42H911.09V853.5M907.56 771.58V770.08H909.86V853.5M906.48 787.44V771.58H908.63V853.5M905.56 788.06V787.44H907.4V853.5M904.95 853.5V788.06H906.18V853.5M817.44 762.7V750.4H850.86V757.4M827.21 763V757.4H874.5V761.6M851.48 768V761.6H897.53V766.9M891.34 769.4V766.9H903.72V853.5M883.2 772.02V769.4H899.48V782.44M896.47 783.04V782.44H902.49V853.5M893.9 853.5V783.04H899.04V783.97M897.43 785.16V783.97H900.65V797.5M900.04 853.5V797.5H901.27V853.5M896.05 786.34V785.16H898.81V853.5M895.13 853.5V786.34H896.97V797.78M896.35 853.5V797.78H897.58V853.5M876.69 780.13V772.02H889.72V777.41M886.76 783.77V777.41H892.67V853.5M884.38 785.25V783.77H889.14V785.19M887.45 790.29V785.19H890.83V798.8M890.22 853.5V798.8H891.44V853.5M886.53 853.5V790.29H888.37V791.21M887.76 853.5V791.21H888.99V853.5M883.46 786.5V785.25H885.31V853.5M882.85 853.5V786.5H884.08V853.5M871.76 781.13V780.13H881.62V853.5M867.2 782.06V781.13H876.32V781.97M872.24 783.36V781.97H880.4V853.5M870.27 786.63V783.36H874.22V784.83M873.03 853.5V784.83H875.41V785.6M874.26 853.5V785.6H876.56V786.49M875.48 853.5V786.49H877.63V796.25M876.71 853.5V796.25H878.55V799.36M877.94 853.5V799.36H879.17V853.5M869.35 853.5V786.63H871.19V803.55M870.57 853.5V803.55H871.8V853.5M866.28 797.99V782.06H868.12V853.5M865.66 853.5V797.99H866.89V853.5M843.97 774.95V768H858.99V781.43M855.54 782.9V781.43H862.44V791.25M861.06 794.35V791.25H863.82V801.79M863.21 853.5V801.79H864.44V853.5M860.14 795.14V794.35H861.98V853.5M859.53 853.5V795.14H860.75V853.5M853.69 783.62V782.9H857.38V783.7M856.46 785.58V783.7H858.3V853.5M855.84 853.5V785.58H857.07V853.5M852.77 802.62V783.62H854.61V853.5M852.16 853.5V802.62H853.39V853.5M839.77 776.25V774.95H848.17V784.14M846.33 785.07V784.14H850.01V788.36M849.09 788.95V788.36H850.93V853.5M848.48 853.5V788.95H849.7V853.5M845.41 786.43V785.07H847.25V853.5M844.79 853.5V786.43H846.02V853.5M836.58 787.99V776.25H842.95V801.32M842.34 853.5V801.32H843.57V853.5M834.97 853.5V787.99H838.19V789.29M836.81 790.34V789.29H839.58V790.45M838.66 853.5V790.45H840.5V793.92M839.88 853.5V793.92H841.11V853.5M836.2 853.5V790.34H837.43V853.5M823 787.87V763H831.42V774.16M829.1 774.81V774.16H833.74V853.5M826.3 775.94V774.81H831.9V796.66M831.29 853.5V796.66H832.52V853.5M825.15 853.5V775.94H827.45V777M826.38 853.5V777H828.53V788.37M827.61 853.5V788.37H829.45V789.44M828.83 853.5V789.44H830.06V853.5M822.08 789.15V787.87H823.92V853.5M821.47 853.5V789.15H822.7V853.5M814.64 765.03V762.7H820.24V853.5M812.57 783.77V765.03H816.71V770.04M815.33 853.5V770.04H818.09V776.72M817.17 778.11V776.72H819.01V853.5M816.56 853.5V778.11H817.79V853.5M811.65 853.5V783.77H813.49V784.63M812.87 853.5V784.63H814.1V853.5M689.3 751.6V739H736.35V748.7M718.69 762.7V748.7H754.01V750.4M740.45 775.9V750.4H767.57V760M750.01 764.26V760H785.13V775.39M778.5 853.5V775.39H791.76V776.72M783.83 777.42V776.72H799.69V777.79M795.69 853.5V777.79H803.7V783.26M798.51 786.99V783.26H808.88V787.61M807.96 853.5V787.61H809.81V792.21M809.19 853.5V792.21H810.42V853.5M796.92 853.5V786.99H800.1V787.73M798.14 853.5V787.73H802.06V788.81M799.98 794.21V788.81H804.13V790.24M802.44 795.28V790.24H805.82V798.46M804.9 801.87V798.46H806.74V853.5M804.28 853.5V801.87H805.51V853.5M801.83 853.5V795.28H803.05V853.5M799.37 853.5V794.21H800.6V853.5M779.73 853.5V777.42H787.94V780.53M784.26 787.24V780.53H791.62V781.03M789.4 787.61V781.03H793.85V781.73M793.23 853.5V781.73H794.46V853.5M788.32 853.5V787.61H790.47V790.32M789.55 853.5V790.32H791.39V791.59M790.78 853.5V791.59H792V853.5M782.03 788.43V787.24H786.48V803.76M785.87 853.5V803.76H787.09V853.5M780.96 853.5V788.43H783.1V789.13M782.18 853.5V789.13H784.03V790.45M783.41 853.5V790.45H784.64V853.5M742.9 853.5V764.26H757.12V764.85M748.42 772.66V764.85H765.83V782.15M759.62 783.36V782.15H772.04V782.97M769.29 791.03V782.97H774.78V785.46M772.29 786.54V785.46H777.27V853.5M771.13 853.5V786.54H773.44V787.36M772.36 853.5V787.36H774.51V788.31M773.59 853.5V788.31H775.43V789.75M774.82 853.5V789.75H776.05V853.5M768.68 853.5V791.03H769.91V853.5M755.79 788.54V783.36H763.44V783.87M760.05 784.46V783.87H766.84V784.95M766.22 853.5V784.95H767.45V853.5M758.86 853.5V784.46H761.24V789.77M760.09 853.5V789.77H762.39V790.73M761.31 853.5V790.73H763.46V791.79M762.54 853.5V791.79H764.38V793M763.77 853.5V793H765V853.5M754.56 796.49V788.54H757.02V802.52M756.4 853.5V802.52H757.63V853.5M753.95 853.5V796.49H755.18V853.5M745.66 782.88V772.66H751.19V791.25M750.27 853.5V791.25H752.11V803.39M751.49 853.5V803.39H752.72V853.5M744.13 853.5V782.88H747.2V784.17M745.97 796.67V784.17H748.42V784.79M747.81 853.5V784.79H749.04V853.5M745.35 853.5V796.67H746.58V853.5M739.22 781.11V775.9H741.67V853.5M737.99 781.82V781.11H740.44V853.5M736.77 782.72V781.82H739.22V853.5M735.55 784.44V782.72H737.99V853.5M734.34 785.84V784.44H736.76V853.5M733.15 787.21V785.84H735.53V853.5M732 787.91V787.21H734.31V853.5M730.93 789.06V787.91H733.08V853.5M730.01 795.99V789.06H731.85V853.5M729.4 853.5V795.99H730.62V853.5M709.21 767.04V762.7H728.17V853.5M701.7 772.04V767.04H716.72V770.83M709.1 771.86V770.83H724.33V781.54M723.26 853.5V781.54H725.41V783.57M724.48 853.5V783.57H726.33V792.08M725.71 853.5V792.08H726.94V853.5M705.99 789.96V771.86H712.21V772.46M710.98 853.5V772.46H713.43V773.69M712.21 853.5V773.69H714.65V775.43M713.44 853.5V775.43H715.87V776.13M714.66 853.5V776.13H717.08V776.92M715.89 853.5V776.92H718.27V777.78M717.12 853.5V777.78H719.42V784.33M718.35 853.5V784.33H720.49V791.1M719.57 853.5V791.1H721.42V791.89M720.8 853.5V791.89H722.03V853.5M704.84 853.5V789.96H707.14V790.68M706.07 853.5V790.68H708.22V791.72M707.3 853.5V791.72H709.14V793.04M708.53 853.5V793.04H709.75V853.5M699.78 785.01V772.04H703.61V853.5M698.7 853.5V785.01H700.85V786.48M699.93 853.5V786.48H701.77V797.34M701.16 853.5V797.34H702.39V853.5M685.2 853.5V751.6H693.41V765.9M689.96 774.82V765.9H696.86V795.13M696.25 853.5V795.13H697.48V853.5M687.5 783.25V774.82H692.41V775.86M691.34 853.5V775.86H693.49V776.6M692.57 853.5V776.6H694.41V791.39M693.79 853.5V791.39H695.02V853.5M686.43 853.5V783.25H688.58V788.78M687.66 853.5V788.78H689.5V789.3M688.88 853.5V789.3H690.11V853.5" fill="none" stroke="#111111" stroke-width="1.6" stroke-linejoin="round" stroke-linecap="butt"/>
<path d="M690.72 853V790.3M743.51 853V783.88M744.74 853V797.67M766.84 853V785.95M776.66 853V790.75M784.03 853V791.45M802.44 853V796.28M803.67 853V802.87M814.72 853V785.63M815.94 853V779.11M820.85 853V790.15M835.59 853V791.34M842.95 853V802.32M851.55 853V803.62M888.37 853V792.21M894.51 853V787.34M903.11 853V783.44M905.56 853V789.06M923.98 853V780.67M925.2 853V787.43M936.25 853V791.39M959.58 853V801.34M979.22 853V788.89M1034.46 853V776.95M1035.69 853V776.95M1079.89 853V784M1090.94 853V763.42M1121.63 853V794.14M1125.31 853V777.78" fill="none" stroke="#9a9a9a" stroke-width="0.55"/>
<g><circle cx="685.2" cy="857.6" r="3.6" fill="#93c7bd"/><circle cx="686.43" cy="857.6" r="3.6" fill="#93c7bd"/><circle cx="687.66" cy="857.6" r="3.6" fill="#999999"/><circle cx="688.88" cy="857.6" r="3.6" fill="#999999"/><circle cx="690.11" cy="857.6" r="3.6" fill="#999999"/><circle cx="691.34" cy="857.6" r="3.6" fill="#999999"/><circle cx="692.57" cy="857.6" r="3.6" fill="#94a9d3"/><circle cx="693.79" cy="857.6" r="3.6" fill="#94a9d3"/><circle cx="695.02" cy="857.6" r="3.6" fill="#de8465"/><circle cx="696.25" cy="857.6" r="3.6" fill="#a9959f"/><circle cx="697.48" cy="857.6" r="3.6" fill="#d9d1cb"/><circle cx="698.7" cy="857.6" r="3.6" fill="#d9d1cb"/><circle cx="699.93" cy="857.6" r="3.6" fill="#c5c0dc"/><circle cx="701.16" cy="857.6" r="3.6" fill="#c5c0dc"/><circle cx="702.39" cy="857.6" r="3.6" fill="#a9959f"/><circle cx="703.61" cy="857.6" r="3.6" fill="#de8465"/><circle cx="704.84" cy="857.6" r="3.6" fill="#a9959f"/><circle cx="706.07" cy="857.6" r="3.6" fill="#999999"/><circle cx="707.3" cy="857.6" r="3.6" fill="#de8465"/><circle cx="708.53" cy="857.6" r="3.6" fill="#de8465"/><circle cx="709.75" cy="857.6" r="3.6" fill="#a9959f"/><circle cx="710.98" cy="857.6" r="3.6" fill="#de8465"/><circle cx="712.21" cy="857.6" r="3.6" fill="#de8465"/><circle cx="713.44" cy="857.6" r="3.6" fill="#a9959f"/><circle cx="714.66" cy="857.6" r="3.6" fill="#a9959f"/><circle cx="715.89" cy="857.6" r="3.6" fill="#de8465"/><circle cx="717.12" cy="857.6" r="3.6" fill="#de8465"/><circle cx="718.35" cy="857.6" r="3.6" fill="#999999"/><circle cx="719.57" cy="857.6" r="3.6" fill="#999999"/><circle cx="720.8" cy="857.6" r="3.6" fill="#999999"/><circle cx="722.03" cy="857.6" r="3.6" fill="#999999"/><circle cx="723.26" cy="857.6" r="3.6" fill="#de8465"/><circle cx="724.48" cy="857.6" r="3.6" fill="#a9959f"/><circle cx="725.71" cy="857.6" r="3.6" fill="#a9959f"/><circle cx="726.94" cy="857.6" r="3.6" fill="#a9959f"/><circle cx="728.17" cy="857.6" r="3.6" fill="#de8465"/><circle cx="729.4" cy="857.6" r="3.6" fill="#94a9d3"/><circle cx="730.62" cy="857.6" r="3.6" fill="#94a9d3"/><circle cx="731.85" cy="857.6" r="3.6" fill="#94a9d3"/><circle cx="733.08" cy="857.6" r="3.6" fill="#deb779"/><circle cx="734.31" cy="857.6" r="3.6" fill="#deb779"/><circle cx="735.53" cy="857.6" r="3.6" fill="#deb779"/><circle cx="736.76" cy="857.6" r="3.6" fill="#de8465"/><circle cx="737.99" cy="857.6" r="3.6" fill="#de8465"/><circle cx="739.22" cy="857.6" r="3.6" fill="#de8465"/><circle cx="740.44" cy="857.6" r="3.6" fill="#a9959f"/><circle cx="741.67" cy="857.6" r="3.6" fill="#de8465"/><circle cx="742.9" cy="857.6" r="3.6" fill="#a9959f"/><circle cx="744.13" cy="857.6" r="3.6" fill="#999999"/><circle cx="745.35" cy="857.6" r="3.6" fill="#999999"/><circle cx="746.58" cy="857.6" r="3.6" fill="#999999"/><circle cx="747.81" cy="857.6" r="3.6" fill="#999999"/><circle cx="749.04" cy="857.6" r="3.6" fill="#999999"/><circle cx="750.27" cy="857.6" r="3.6" fill="#999999"/><circle cx="751.49" cy="857.6" r="3.6" fill="#999999"/><circle cx="752.72" cy="857.6" r="3.6" fill="#999999"/><circle cx="753.95" cy="857.6" r="3.6" fill="#93c7bd"/><circle cx="755.18" cy="857.6" r="3.6" fill="#93c7bd"/><circle cx="756.4" cy="857.6" r="3.6" fill="#999999"/><circle cx="757.63" cy="857.6" r="3.6" fill="#93c7bd"/><circle cx="758.86" cy="857.6" r="3.6" fill="#93c7bd"/><circle cx="760.09" cy="857.6" r="3.6" fill="#93c7bd"/><circle cx="761.31" cy="857.6" r="3.6" fill="#93c7bd"/><circle cx="762.54" cy="857.6" r="3.6" fill="#93c7bd"/><circle cx="763.77" cy="857.6" r="3.6" fill="#93c7bd"/><circle cx="765" cy="857.6" r="3.6" fill="#999999"/><circle cx="766.22" cy="857.6" r="3.6" fill="#a9959f"/><circle cx="767.45" cy="857.6" r="3.6" fill="#de8465"/><circle cx="768.68" cy="857.6" r="3.6" fill="#de8465"/><circle cx="769.91" cy="857.6" r="3.6" fill="#de8465"/><circle cx="771.13" cy="857.6" r="3.6" fill="#a9959f"/><circle cx="772.36" cy="857.6" r="3.6" fill="#a9959f"/><circle cx="773.59" cy="857.6" r="3.6" fill="#a9959f"/><circle cx="774.82" cy="857.6" r="3.6" fill="#a9959f"/><circle cx="776.05" cy="857.6" r="3.6" fill="#999999"/><circle cx="777.27" cy="857.6" r="3.6" fill="#999999"/><circle cx="778.5" cy="857.6" r="3.6" fill="#999999"/><circle cx="779.73" cy="857.6" r="3.6" fill="#999999"/><circle cx="780.96" cy="857.6" r="3.6" fill="#999999"/><circle cx="782.18" cy="857.6" r="3.6" fill="#999999"/><circle cx="783.41" cy="857.6" r="3.6" fill="#999999"/><circle cx="784.64" cy="857.6" r="3.6" fill="#999999"/><circle cx="785.87" cy="857.6" r="3.6" fill="#999999"/><circle cx="787.09" cy="857.6" r="3.6" fill="#999999"/><circle cx="788.32" cy="857.6" r="3.6" fill="#999999"/><circle cx="789.55" cy="857.6" r="3.6" fill="#999999"/><circle cx="790.78" cy="857.6" r="3.6" fill="#999999"/><circle cx="792" cy="857.6" r="3.6" fill="#999999"/><circle cx="793.23" cy="857.6" r="3.6" fill="#999999"/><circle cx="794.46" cy="857.6" r="3.6" fill="#999999"/><circle cx="795.69" cy="857.6" r="3.6" fill="#deb779"/><circle cx="796.92" cy="857.6" r="3.6" fill="#deb779"/><circle cx="798.14" cy="857.6" r="3.6" fill="#de8465"/><circle cx="799.37" cy="857.6" r="3.6" fill="#a9959f"/><circle cx="800.6" cy="857.6" r="3.6" fill="#999999"/><circle cx="801.83" cy="857.6" r="3.6" fill="#999999"/><circle cx="803.05" cy="857.6" r="3.6" fill="#999999"/><circle cx="804.28" cy="857.6" r="3.6" fill="#999999"/><circle cx="805.51" cy="857.6" r="3.6" fill="#999999"/><circle cx="806.74" cy="857.6" r="3.6" fill="#999999"/><circle cx="807.96" cy="857.6" r="3.6" fill="#999999"/><circle cx="809.19" cy="857.6" r="3.6" fill="#999999"/><circle cx="810.42" cy="857.6" r="3.6" fill="#999999"/><circle cx="811.65" cy="857.6" r="3.6" fill="#deb779"/><circle cx="812.87" cy="857.6" r="3.6" fill="#deb779"/><circle cx="814.1" cy="857.6" r="3.6" fill="#999999"/><circle cx="815.33" cy="857.6" r="3.6" fill="#999999"/><circle cx="816.56" cy="857.6" r="3.6" fill="#999999"/><circle cx="817.79" cy="857.6" r="3.6" fill="#999999"/><circle cx="819.01" cy="857.6" r="3.6" fill="#999999"/><circle cx="820.24" cy="857.6" r="3.6" fill="#999999"/><circle cx="821.47" cy="857.6" r="3.6" fill="#93c7bd"/><circle cx="822.7" cy="857.6" r="3.6" fill="#93c7bd"/><circle cx="823.92" cy="857.6" r="3.6" fill="#93c7bd"/><circle cx="825.15" cy="857.6" r="3.6" fill="#93c7bd"/><circle cx="826.38" cy="857.6" r="3.6" fill="#999999"/><circle cx="827.61" cy="857.6" r="3.6" fill="#999999"/><circle cx="828.83" cy="857.6" r="3.6" fill="#999999"/><circle cx="830.06" cy="857.6" r="3.6" fill="#999999"/><circle cx="831.29" cy="857.6" r="3.6" fill="#999999"/><circle cx="832.52" cy="857.6" r="3.6" fill="#999999"/><circle cx="833.74" cy="857.6" r="3.6" fill="#999999"/><circle cx="834.97" cy="857.6" r="3.6" fill="#de8465"/><circle cx="836.2" cy="857.6" r="3.6" fill="#de8465"/><circle cx="837.43" cy="857.6" r="3.6" fill="#a9959f"/><circle cx="838.66" cy="857.6" r="3.6" fill="#a9959f"/><circle cx="839.88" cy="857.6" r="3.6" fill="#de8465"/><circle cx="841.11" cy="857.6" r="3.6" fill="#a9959f"/><circle cx="842.34" cy="857.6" r="3.6" fill="#de8465"/><circle cx="843.57" cy="857.6" r="3.6" fill="#de8465"/><circle cx="844.79" cy="857.6" r="3.6" fill="#a9959f"/><circle cx="846.02" cy="857.6" r="3.6" fill="#de8465"/><circle cx="847.25" cy="857.6" r="3.6" fill="#a9959f"/><circle cx="848.48" cy="857.6" r="3.6" fill="#de8465"/><circle cx="849.7" cy="857.6" r="3.6" fill="#999999"/><circle cx="850.93" cy="857.6" r="3.6" fill="#999999"/><circle cx="852.16" cy="857.6" r="3.6" fill="#999999"/><circle cx="853.39" cy="857.6" r="3.6" fill="#999999"/><circle cx="854.61" cy="857.6" r="3.6" fill="#93c7bd"/><circle cx="855.84" cy="857.6" r="3.6" fill="#999999"/><circle cx="857.07" cy="857.6" r="3.6" fill="#999999"/><circle cx="858.3" cy="857.6" r="3.6" fill="#999999"/><circle cx="859.53" cy="857.6" r="3.6" fill="#999999"/><circle cx="860.75" cy="857.6" r="3.6" fill="#999999"/><circle cx="861.98" cy="857.6" r="3.6" fill="#c5c0dc"/><circle cx="863.21" cy="857.6" r="3.6" fill="#c5c0dc"/><circle cx="864.44" cy="857.6" r="3.6" fill="#deb779"/><circle cx="865.66" cy="857.6" r="3.6" fill="#deb779"/><circle cx="866.89" cy="857.6" r="3.6" fill="#deb779"/><circle cx="868.12" cy="857.6" r="3.6" fill="#d9d1cb"/><circle cx="869.35" cy="857.6" r="3.6" fill="#d9d1cb"/><circle cx="870.57" cy="857.6" r="3.6" fill="#d9d1cb"/><circle cx="871.8" cy="857.6" r="3.6" fill="#999999"/><circle cx="873.03" cy="857.6" r="3.6" fill="#999999"/><circle cx="874.26" cy="857.6" r="3.6" fill="#999999"/><circle cx="875.48" cy="857.6" r="3.6" fill="#de8465"/><circle cx="876.71" cy="857.6" r="3.6" fill="#a9959f"/><circle cx="877.94" cy="857.6" r="3.6" fill="#a9959f"/><circle cx="879.17" cy="857.6" r="3.6" fill="#a9959f"/><circle cx="880.4" cy="857.6" r="3.6" fill="#de8465"/><circle cx="881.62" cy="857.6" r="3.6" fill="#d9d1cb"/><circle cx="882.85" cy="857.6" r="3.6" fill="#a9959f"/><circle cx="884.08" cy="857.6" r="3.6" fill="#a9959f"/><circle cx="885.31" cy="857.6" r="3.6" fill="#93c7bd"/><circle cx="886.53" cy="857.6" r="3.6" fill="#de8465"/><circle cx="887.76" cy="857.6" r="3.6" fill="#de8465"/><circle cx="888.99" cy="857.6" r="3.6" fill="#de8465"/><circle cx="890.22" cy="857.6" r="3.6" fill="#a9959f"/><circle cx="891.44" cy="857.6" r="3.6" fill="#999999"/><circle cx="892.67" cy="857.6" r="3.6" fill="#999999"/><circle cx="893.9" cy="857.6" r="3.6" fill="#999999"/><circle cx="895.13" cy="857.6" r="3.6" fill="#999999"/><circle cx="896.35" cy="857.6" r="3.6" fill="#999999"/><circle cx="897.58" cy="857.6" r="3.6" fill="#999999"/><circle cx="898.81" cy="857.6" r="3.6" fill="#999999"/><circle cx="900.04" cy="857.6" r="3.6" fill="#999999"/><circle cx="901.27" cy="857.6" r="3.6" fill="#999999"/><circle cx="902.49" cy="857.6" r="3.6" fill="#999999"/><circle cx="903.72" cy="857.6" r="3.6" fill="#999999"/><circle cx="904.95" cy="857.6" r="3.6" fill="#999999"/><circle cx="906.18" cy="857.6" r="3.6" fill="#999999"/><circle cx="907.4" cy="857.6" r="3.6" fill="#999999"/><circle cx="908.63" cy="857.6" r="3.6" fill="#deb779"/><circle cx="909.86" cy="857.6" r="3.6" fill="#deb779"/><circle cx="911.09" cy="857.6" r="3.6" fill="#999999"/><circle cx="912.31" cy="857.6" r="3.6" fill="#999999"/><circle cx="913.54" cy="857.6" r="3.6" fill="#999999"/><circle cx="914.77" cy="857.6" r="3.6" fill="#999999"/><circle cx="916" cy="857.6" r="3.6" fill="#999999"/><circle cx="917.22" cy="857.6" r="3.6" fill="#999999"/><circle cx="918.45" cy="857.6" r="3.6" fill="#999999"/><circle cx="919.68" cy="857.6" r="3.6" fill="#999999"/><circle cx="920.91" cy="857.6" r="3.6" fill="#999999"/><circle cx="922.13" cy="857.6" r="3.6" fill="#999999"/><circle cx="923.36" cy="857.6" r="3.6" fill="#deb779"/><circle cx="924.59" cy="857.6" r="3.6" fill="#deb779"/><circle cx="925.82" cy="857.6" r="3.6" fill="#d9d1cb"/><circle cx="927.05" cy="857.6" r="3.6" fill="#d9d1cb"/><circle cx="928.27" cy="857.6" r="3.6" fill="#999999"/><circle cx="929.5" cy="857.6" r="3.6" fill="#999999"/><circle cx="930.73" cy="857.6" r="3.6" fill="#999999"/><circle cx="931.96" cy="857.6" r="3.6" fill="#999999"/><circle cx="933.18" cy="857.6" r="3.6" fill="#93c7bd"/><circle cx="934.41" cy="857.6" r="3.6" fill="#93c7bd"/><circle cx="935.64" cy="857.6" r="3.6" fill="#93c7bd"/><circle cx="936.87" cy="857.6" r="3.6" fill="#93c7bd"/><circle cx="938.09" cy="857.6" r="3.6" fill="#93c7bd"/><circle cx="939.32" cy="857.6" r="3.6" fill="#999999"/><circle cx="940.55" cy="857.6" r="3.6" fill="#999999"/><circle cx="941.78" cy="857.6" r="3.6" fill="#999999"/><circle cx="943" cy="857.6" r="3.6" fill="#999999"/><circle cx="944.23" cy="857.6" r="3.6" fill="#999999"/><circle cx="945.46" cy="857.6" r="3.6" fill="#999999"/><circle cx="946.69" cy="857.6" r="3.6" fill="#deb779"/><circle cx="947.92" cy="857.6" r="3.6" fill="#999999"/><circle cx="949.14" cy="857.6" r="3.6" fill="#999999"/><circle cx="950.37" cy="857.6" r="3.6" fill="#999999"/><circle cx="951.6" cy="857.6" r="3.6" fill="#999999"/><circle cx="952.83" cy="857.6" r="3.6" fill="#999999"/><circle cx="954.05" cy="857.6" r="3.6" fill="#999999"/><circle cx="955.28" cy="857.6" r="3.6" fill="#999999"/><circle cx="956.51" cy="857.6" r="3.6" fill="#999999"/><circle cx="957.74" cy="857.6" r="3.6" fill="#de8465"/><circle cx="958.96" cy="857.6" r="3.6" fill="#a9959f"/><circle cx="960.19" cy="857.6" r="3.6" fill="#de8465"/><circle cx="961.42" cy="857.6" r="3.6" fill="#a9959f"/><circle cx="962.65" cy="857.6" r="3.6" fill="#de8465"/><circle cx="963.87" cy="857.6" r="3.6" fill="#c5c0dc"/><circle cx="965.1" cy="857.6" r="3.6" fill="#de8465"/><circle cx="966.33" cy="857.6" r="3.6" fill="#93c7bd"/><circle cx="967.56" cy="857.6" r="3.6" fill="#93c7bd"/><circle cx="968.79" cy="857.6" r="3.6" fill="#999999"/><circle cx="970.01" cy="857.6" r="3.6" fill="#999999"/><circle cx="971.24" cy="857.6" r="3.6" fill="#999999"/><circle cx="972.47" cy="857.6" r="3.6" fill="#999999"/><circle cx="973.7" cy="857.6" r="3.6" fill="#999999"/><circle cx="974.92" cy="857.6" r="3.6" fill="#93c7bd"/><circle cx="976.15" cy="857.6" r="3.6" fill="#93c7bd"/><circle cx="977.38" cy="857.6" r="3.6" fill="#93c7bd"/><circle cx="978.61" cy="857.6" r="3.6" fill="#999999"/><circle cx="979.83" cy="857.6" r="3.6" fill="#999999"/><circle cx="981.06" cy="857.6" r="3.6" fill="#999999"/><circle cx="982.29" cy="857.6" r="3.6" fill="#999999"/><circle cx="983.52" cy="857.6" r="3.6" fill="#d9d1cb"/><circle cx="984.74" cy="857.6" r="3.6" fill="#d9d1cb"/><circle cx="985.97" cy="857.6" r="3.6" fill="#a9959f"/><circle cx="987.2" cy="857.6" r="3.6" fill="#de8465"/><circle cx="988.43" cy="857.6" r="3.6" fill="#c5c0dc"/><circle cx="989.66" cy="857.6" r="3.6" fill="#c5c0dc"/><circle cx="990.88" cy="857.6" r="3.6" fill="#de8465"/><circle cx="992.11" cy="857.6" r="3.6" fill="#a9959f"/><circle cx="993.34" cy="857.6" r="3.6" fill="#deb779"/><circle cx="994.57" cy="857.6" r="3.6" fill="#deb779"/><circle cx="995.79" cy="857.6" r="3.6" fill="#c5c0dc"/><circle cx="997.02" cy="857.6" r="3.6" fill="#999999"/><circle cx="998.25" cy="857.6" r="3.6" fill="#999999"/><circle cx="999.48" cy="857.6" r="3.6" fill="#999999"/><circle cx="1000.7" cy="857.6" r="3.6" fill="#999999"/><circle cx="1001.93" cy="857.6" r="3.6" fill="#999999"/><circle cx="1003.16" cy="857.6" r="3.6" fill="#999999"/><circle cx="1004.39" cy="857.6" r="3.6" fill="#999999"/><circle cx="1005.61" cy="857.6" r="3.6" fill="#999999"/><circle cx="1006.84" cy="857.6" r="3.6" fill="#999999"/><circle cx="1008.07" cy="857.6" r="3.6" fill="#999999"/><circle cx="1009.3" cy="857.6" r="3.6" fill="#999999"/><circle cx="1010.53" cy="857.6" r="3.6" fill="#94a9d3"/><circle cx="1011.75" cy="857.6" r="3.6" fill="#94a9d3"/><circle cx="1012.98" cy="857.6" r="3.6" fill="#d9d1cb"/><circle cx="1014.21" cy="857.6" r="3.6" fill="#d9d1cb"/><circle cx="1015.44" cy="857.6" r="3.6" fill="#d9d1cb"/><circle cx="1016.66" cy="857.6" r="3.6" fill="#a9959f"/><circle cx="1017.89" cy="857.6" r="3.6" fill="#de8465"/><circle cx="1019.12" cy="857.6" r="3.6" fill="#de8465"/><circle cx="1020.35" cy="857.6" r="3.6" fill="#a9959f"/><circle cx="1021.57" cy="857.6" r="3.6" fill="#de8465"/><circle cx="1022.8" cy="857.6" r="3.6" fill="#de8465"/><circle cx="1024.03" cy="857.6" r="3.6" fill="#a9959f"/><circle cx="1025.26" cy="857.6" r="3.6" fill="#de8465"/><circle cx="1026.48" cy="857.6" r="3.6" fill="#a9959f"/><circle cx="1027.71" cy="857.6" r="3.6" fill="#a9959f"/><circle cx="1028.94" cy="857.6" r="3.6" fill="#de8465"/><circle cx="1030.17" cy="857.6" r="3.6" fill="#de8465"/><circle cx="1031.4" cy="857.6" r="3.6" fill="#de8465"/><circle cx="1032.62" cy="857.6" r="3.6" fill="#a9959f"/><circle cx="1033.85" cy="857.6" r="3.6" fill="#a9959f"/><circle cx="1035.08" cy="857.6" r="3.6" fill="#de8465"/><circle cx="1036.31" cy="857.6" r="3.6" fill="#de8465"/><circle cx="1037.53" cy="857.6" r="3.6" fill="#94a9d3"/><circle cx="1038.76" cy="857.6" r="3.6" fill="#94a9d3"/><circle cx="1039.99" cy="857.6" r="3.6" fill="#de8465"/><circle cx="1041.22" cy="857.6" r="3.6" fill="#deb779"/><circle cx="1042.44" cy="857.6" r="3.6" fill="#deb779"/><circle cx="1043.67" cy="857.6" r="3.6" fill="#94a9d3"/><circle cx="1044.9" cy="857.6" r="3.6" fill="#94a9d3"/><circle cx="1046.13" cy="857.6" r="3.6" fill="#de8465"/><circle cx="1047.35" cy="857.6" r="3.6" fill="#de8465"/><circle cx="1048.58" cy="857.6" r="3.6" fill="#de8465"/><circle cx="1049.81" cy="857.6" r="3.6" fill="#a9959f"/><circle cx="1051.04" cy="857.6" r="3.6" fill="#de8465"/><circle cx="1052.27" cy="857.6" r="3.6" fill="#d9d1cb"/><circle cx="1053.49" cy="857.6" r="3.6" fill="#d9d1cb"/><circle cx="1054.72" cy="857.6" r="3.6" fill="#d9d1cb"/><circle cx="1055.95" cy="857.6" r="3.6" fill="#d9d1cb"/><circle cx="1057.18" cy="857.6" r="3.6" fill="#a9959f"/><circle cx="1058.4" cy="857.6" r="3.6" fill="#de8465"/><circle cx="1059.63" cy="857.6" r="3.6" fill="#999999"/><circle cx="1060.86" cy="857.6" r="3.6" fill="#999999"/><circle cx="1062.09" cy="857.6" r="3.6" fill="#999999"/><circle cx="1063.31" cy="857.6" r="3.6" fill="#999999"/><circle cx="1064.54" cy="857.6" r="3.6" fill="#999999"/><circle cx="1065.77" cy="857.6" r="3.6" fill="#999999"/><circle cx="1067" cy="857.6" r="3.6" fill="#c5c0dc"/><circle cx="1068.22" cy="857.6" r="3.6" fill="#c5c0dc"/><circle cx="1069.45" cy="857.6" r="3.6" fill="#c5c0dc"/><circle cx="1070.68" cy="857.6" r="3.6" fill="#c5c0dc"/><circle cx="1071.91" cy="857.6" r="3.6" fill="#a9959f"/><circle cx="1073.13" cy="857.6" r="3.6" fill="#de8465"/><circle cx="1074.36" cy="857.6" r="3.6" fill="#a9959f"/><circle cx="1075.59" cy="857.6" r="3.6" fill="#a9959f"/><circle cx="1076.82" cy="857.6" r="3.6" fill="#de8465"/><circle cx="1078.05" cy="857.6" r="3.6" fill="#a9959f"/><circle cx="1079.27" cy="857.6" r="3.6" fill="#de8465"/><circle cx="1080.5" cy="857.6" r="3.6" fill="#a9959f"/><circle cx="1081.73" cy="857.6" r="3.6" fill="#de8465"/><circle cx="1082.96" cy="857.6" r="3.6" fill="#c5c0dc"/><circle cx="1084.18" cy="857.6" r="3.6" fill="#c5c0dc"/><circle cx="1085.41" cy="857.6" r="3.6" fill="#c5c0dc"/><circle cx="1086.64" cy="857.6" r="3.6" fill="#c5c0dc"/><circle cx="1087.87" cy="857.6" r="3.6" fill="#c5c0dc"/><circle cx="1089.09" cy="857.6" r="3.6" fill="#de8465"/><circle cx="1090.32" cy="857.6" r="3.6" fill="#de8465"/><circle cx="1091.55" cy="857.6" r="3.6" fill="#999999"/><circle cx="1092.78" cy="857.6" r="3.6" fill="#999999"/><circle cx="1094" cy="857.6" r="3.6" fill="#999999"/><circle cx="1095.23" cy="857.6" r="3.6" fill="#999999"/><circle cx="1096.46" cy="857.6" r="3.6" fill="#999999"/><circle cx="1097.69" cy="857.6" r="3.6" fill="#999999"/><circle cx="1098.92" cy="857.6" r="3.6" fill="#d9d1cb"/><circle cx="1100.14" cy="857.6" r="3.6" fill="#d9d1cb"/><circle cx="1101.37" cy="857.6" r="3.6" fill="#de8465"/><circle cx="1102.6" cy="857.6" r="3.6" fill="#a9959f"/><circle cx="1103.83" cy="857.6" r="3.6" fill="#de8465"/><circle cx="1105.05" cy="857.6" r="3.6" fill="#de8465"/><circle cx="1106.28" cy="857.6" r="3.6" fill="#c5c0dc"/><circle cx="1107.51" cy="857.6" r="3.6" fill="#a9959f"/><circle cx="1108.74" cy="857.6" r="3.6" fill="#de8465"/><circle cx="1109.96" cy="857.6" r="3.6" fill="#de8465"/><circle cx="1111.19" cy="857.6" r="3.6" fill="#a9959f"/><circle cx="1112.42" cy="857.6" r="3.6" fill="#de8465"/><circle cx="1113.65" cy="857.6" r="3.6" fill="#deb779"/><circle cx="1114.87" cy="857.6" r="3.6" fill="#deb779"/><circle cx="1116.1" cy="857.6" r="3.6" fill="#a9959f"/><circle cx="1117.33" cy="857.6" r="3.6" fill="#de8465"/><circle cx="1118.56" cy="857.6" r="3.6" fill="#a9959f"/><circle cx="1119.79" cy="857.6" r="3.6" fill="#de8465"/><circle cx="1121.01" cy="857.6" r="3.6" fill="#deb779"/><circle cx="1122.24" cy="857.6" r="3.6" fill="#deb779"/><circle cx="1123.47" cy="857.6" r="3.6" fill="#c5c0dc"/><circle cx="1124.7" cy="857.6" r="3.6" fill="#c5c0dc"/><circle cx="1125.92" cy="857.6" r="3.6" fill="#c5c0dc"/><circle cx="1127.15" cy="857.6" r="3.6" fill="#c5c0dc"/><circle cx="1128.38" cy="857.6" r="3.6" fill="#c5c0dc"/><circle cx="1129.61" cy="857.6" r="3.6" fill="#94a9d3"/><circle cx="1130.83" cy="857.6" r="3.6" fill="#94a9d3"/><circle cx="1132.06" cy="857.6" r="3.6" fill="#94a9d3"/><circle cx="1133.29" cy="857.6" r="3.6" fill="#94a9d3"/><circle cx="1134.52" cy="857.6" r="3.6" fill="#999999"/><circle cx="1135.74" cy="857.6" r="3.6" fill="#999999"/><circle cx="1136.97" cy="857.6" r="3.6" fill="#999999"/><circle cx="1138.2" cy="857.6" r="3.6" fill="#999999"/></g>
<rect x="662.3" y="561" width="498.6" height="346.1" fill="none" stroke="#111" stroke-width="2" stroke-linejoin="round"/>
</svg>
</body></html>
